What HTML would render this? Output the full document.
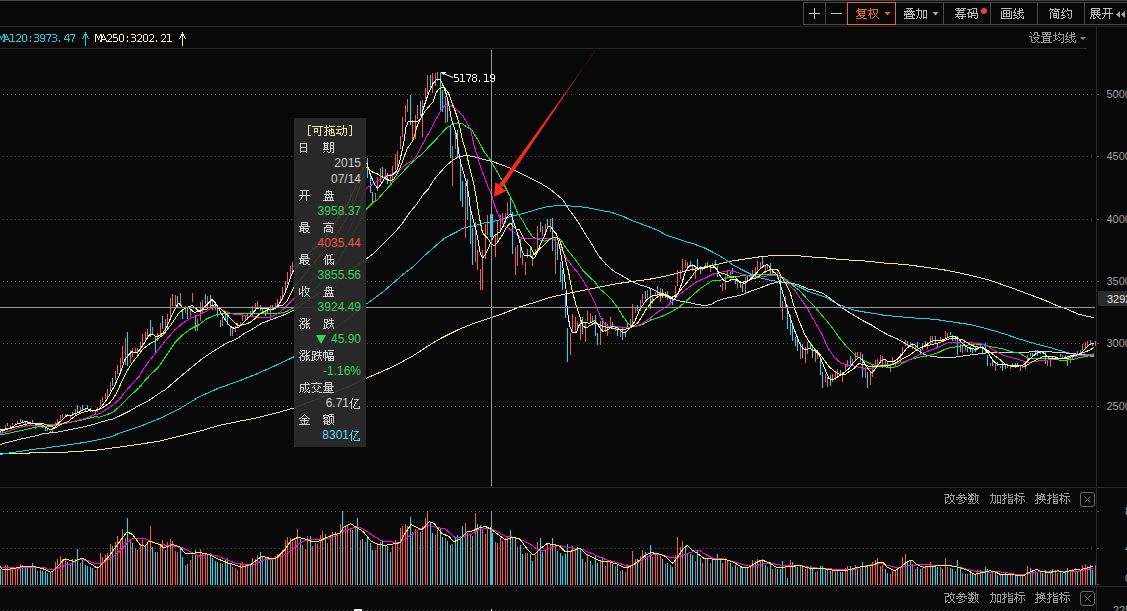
<!DOCTYPE html>
<html><head><meta charset="utf-8">
<style>
html,body{margin:0;padding:0;background:#080808;}
body{width:1127px;height:611px;overflow:hidden;position:relative;font-family:"Liberation Sans",sans-serif;}
.t{position:absolute;white-space:nowrap;line-height:1;}
.ax{position:absolute;color:#a0a0a0;font-size:11px;line-height:12px;left:1106.5px;}
#tip{position:absolute;left:294px;top:118px;width:72px;height:329px;background:rgba(43,43,43,0.93);}
#tip div{position:absolute;font-size:12px;line-height:16px;height:16px;white-space:nowrap;}
#tip .r{right:5px;text-align:right;}
</style></head><body>
<svg width="1127" height="611" style="position:absolute;left:0;top:0">
<g shape-rendering="crispEdges">
<!-- frame lines -->
<rect x="0" y="0" width="1127" height="1" fill="#464646"/>
<rect x="0" y="26" width="1127" height="1" fill="#272727"/>
<rect x="0" y="48" width="1087" height="1" fill="#272727"/>
<rect x="0" y="487" width="1127" height="1" fill="#272727"/>
<rect x="0" y="586" width="1127" height="1" fill="#272727"/>
<rect x="1096" y="27" width="1" height="584" fill="#272727"/>
<!-- dotted grid -->
<g stroke="#4e4e4e" stroke-width="1" stroke-dasharray="1 3">
<line x1="3" y1="94.5" x2="1093" y2="94.5"/>
<line x1="3" y1="156.5" x2="1093" y2="156.5"/>
<line x1="3" y1="219.5" x2="1093" y2="219.5"/>
<line x1="3" y1="281.5" x2="1093" y2="281.5"/>
<line x1="3" y1="343.5" x2="1093" y2="343.5"/>
<line x1="3" y1="406.5" x2="1093" y2="406.5"/>
<line x1="3" y1="511.5" x2="1093" y2="511.5"/>
<line x1="3" y1="548.5" x2="1093" y2="548.5"/>
<line x1="3" y1="610.5" x2="1093" y2="610.5"/>
<line x1="3" y1="584.5" x2="1093" y2="584.5"/>
</g>
<!-- axis ticks -->
<g fill="#555">
<rect x="1097" y="94" width="2" height="1"/><rect x="1097" y="156" width="2" height="1"/><rect x="1097" y="219" width="2" height="1"/>
<rect x="1097" y="281" width="2" height="1"/><rect x="1097" y="343" width="2" height="1"/><rect x="1097" y="406" width="2" height="1"/>
<rect x="1097" y="511" width="2" height="1"/><rect x="1097" y="548" width="2" height="1"/><rect x="1097" y="584" width="2" height="1"/>
</g>
<!-- candles -->
<rect x="0" y="428.5" width="1" height="4.5" fill="#00e4ff"/>
<rect x="2" y="429.5" width="1" height="4.5" fill="#00e4ff"/>
<rect x="5" y="425.0" width="1" height="4.5" fill="#f65a4f"/>
<rect x="7" y="423.0" width="1" height="3.0" fill="#00e4ff"/>
<rect x="10" y="425.0" width="1" height="2.0" fill="#f65a4f"/>
<rect x="12" y="423.0" width="1" height="2.0" fill="#f65a4f"/>
<rect x="15" y="422.6" width="1" height="1.9" fill="#f65a4f"/>
<rect x="17" y="421.0" width="1" height="2.6" fill="#f65a4f"/>
<rect x="20" y="419.0" width="1" height="3.0" fill="#f65a4f"/>
<rect x="22" y="420.0" width="1" height="2.0" fill="#00e4ff"/>
<rect x="25" y="422.0" width="1" height="3.5" fill="#00e4ff"/>
<rect x="27" y="421.0" width="1" height="3.0" fill="#f65a4f"/>
<rect x="30" y="423.0" width="1" height="2.0" fill="#f65a4f"/>
<rect x="32" y="420.0" width="1" height="3.0" fill="#00e4ff"/>
<rect x="35" y="424.0" width="1" height="4.5" fill="#00e4ff"/>
<rect x="37" y="423.6" width="1" height="1.9" fill="#f65a4f"/>
<rect x="40" y="423.6" width="1" height="1.9" fill="#f65a4f"/>
<rect x="42" y="425.5" width="1" height="2.5" fill="#00e4ff"/>
<rect x="45" y="427.5" width="1" height="3.5" fill="#00e4ff"/>
<rect x="47" y="428.5" width="1" height="2.5" fill="#00e4ff"/>
<rect x="50" y="431.4" width="1" height="1.6" fill="#00e4ff"/>
<rect x="52" y="427.5" width="1" height="4.5" fill="#f65a4f"/>
<rect x="55" y="421.5" width="1" height="5.3" fill="#f65a4f"/>
<rect x="57" y="418.9" width="1" height="5.2" fill="#f65a4f"/>
<rect x="60" y="415.0" width="1" height="5.2" fill="#f65a4f"/>
<rect x="62" y="413.7" width="1" height="3.9" fill="#f65a4f"/>
<rect x="65" y="413.7" width="1" height="2.6" fill="#f65a4f"/>
<rect x="67" y="413.7" width="1" height="2.6" fill="#00e4ff"/>
<rect x="70" y="415.0" width="1" height="2.6" fill="#f65a4f"/>
<rect x="72" y="411.7" width="1" height="4.6" fill="#00e4ff"/>
<rect x="75" y="409.0" width="1" height="6.0" fill="#f65a4f"/>
<rect x="77" y="405.2" width="1" height="6.5" fill="#00e4ff"/>
<rect x="80" y="406.5" width="1" height="5.2" fill="#f65a4f"/>
<rect x="82" y="405.2" width="1" height="4.5" fill="#00e4ff"/>
<rect x="85" y="408.4" width="1" height="2.6" fill="#f65a4f"/>
<rect x="87" y="405.2" width="1" height="3.8" fill="#00e4ff"/>
<rect x="90" y="408.4" width="1" height="3.3" fill="#00e4ff"/>
<rect x="92" y="411.0" width="1" height="1.4" fill="#00e4ff"/>
<rect x="95" y="410.4" width="1" height="3.9" fill="#f65a4f"/>
<rect x="97" y="407.1" width="1" height="5.3" fill="#f65a4f"/>
<rect x="100" y="399.9" width="1" height="5.9" fill="#f65a4f"/>
<rect x="102" y="396.6" width="1" height="5.3" fill="#f65a4f"/>
<rect x="105" y="392.7" width="1" height="6.6" fill="#f65a4f"/>
<rect x="107" y="388.8" width="1" height="7.8" fill="#f65a4f"/>
<rect x="110" y="382.9" width="1" height="8.5" fill="#f65a4f"/>
<rect x="112" y="377.7" width="1" height="8.5" fill="#00e4ff"/>
<rect x="115" y="371.1" width="1" height="8.5" fill="#f65a4f"/>
<rect x="117" y="365.2" width="1" height="9.2" fill="#f65a4f"/>
<rect x="120" y="358.0" width="1" height="13.8" fill="#f65a4f"/>
<rect x="122" y="345.8" width="1" height="16.7" fill="#f65a4f"/>
<rect x="125" y="338.0" width="1" height="26.5" fill="#f65a4f"/>
<rect x="127" y="332.0" width="1" height="34.4" fill="#00e4ff"/>
<rect x="130" y="349.7" width="1" height="12.8" fill="#f65a4f"/>
<rect x="132" y="347.8" width="1" height="8.8" fill="#f65a4f"/>
<rect x="135" y="347.8" width="1" height="4.9" fill="#f65a4f"/>
<rect x="137" y="347.8" width="1" height="6.8" fill="#f65a4f"/>
<rect x="140" y="341.9" width="1" height="8.8" fill="#f65a4f"/>
<rect x="142" y="334.0" width="1" height="12.8" fill="#f65a4f"/>
<rect x="145" y="332.0" width="1" height="9.0" fill="#f65a4f"/>
<rect x="147" y="329.1" width="1" height="9.9" fill="#f65a4f"/>
<rect x="150" y="320.3" width="1" height="16.7" fill="#00e4ff"/>
<rect x="152" y="327.2" width="1" height="6.8" fill="#f65a4f"/>
<rect x="155" y="337.0" width="1" height="14.7" fill="#00e4ff"/>
<rect x="157" y="333.0" width="1" height="8.0" fill="#f65a4f"/>
<rect x="160" y="323.2" width="1" height="13.8" fill="#f65a4f"/>
<rect x="162" y="316.3" width="1" height="12.8" fill="#00e4ff"/>
<rect x="165" y="319.3" width="1" height="11.7" fill="#f65a4f"/>
<rect x="167" y="314.4" width="1" height="14.7" fill="#f65a4f"/>
<rect x="170" y="297.7" width="1" height="21.6" fill="#f65a4f"/>
<rect x="172" y="293.8" width="1" height="11.7" fill="#f65a4f"/>
<rect x="175" y="294.7" width="1" height="10.8" fill="#f65a4f"/>
<rect x="177" y="295.7" width="1" height="11.8" fill="#00e4ff"/>
<rect x="180" y="292.8" width="1" height="10.8" fill="#f65a4f"/>
<rect x="182" y="308.5" width="1" height="10.8" fill="#00e4ff"/>
<rect x="185" y="305.5" width="1" height="7.9" fill="#f65a4f"/>
<rect x="187" y="307.5" width="1" height="11.8" fill="#00e4ff"/>
<rect x="190" y="306.5" width="1" height="10.8" fill="#f65a4f"/>
<rect x="192" y="292.8" width="1" height="8.8" fill="#f65a4f"/>
<rect x="195" y="315.4" width="1" height="15.6" fill="#00e4ff"/>
<rect x="197" y="319.3" width="1" height="11.7" fill="#f65a4f"/>
<rect x="200" y="301.6" width="1" height="19.7" fill="#f65a4f"/>
<rect x="202" y="299.6" width="1" height="13.8" fill="#f65a4f"/>
<rect x="205" y="293.8" width="1" height="9.8" fill="#00e4ff"/>
<rect x="207" y="295.7" width="1" height="11.8" fill="#f65a4f"/>
<rect x="210" y="294.7" width="1" height="10.8" fill="#00e4ff"/>
<rect x="212" y="299.6" width="1" height="9.9" fill="#f65a4f"/>
<rect x="215" y="301.6" width="1" height="7.9" fill="#f65a4f"/>
<rect x="217" y="306.8" width="1" height="10.2" fill="#00e4ff"/>
<rect x="220" y="320.0" width="1" height="7.4" fill="#00e4ff"/>
<rect x="222" y="316.4" width="1" height="9.6" fill="#f65a4f"/>
<rect x="225" y="312.7" width="1" height="7.3" fill="#00e4ff"/>
<rect x="227" y="313.4" width="1" height="11.8" fill="#00e4ff"/>
<rect x="230" y="326.7" width="1" height="9.6" fill="#00e4ff"/>
<rect x="232" y="327.4" width="1" height="8.1" fill="#f65a4f"/>
<rect x="235" y="326.0" width="1" height="5.9" fill="#f65a4f"/>
<rect x="237" y="323.0" width="1" height="4.4" fill="#f65a4f"/>
<rect x="240" y="321.5" width="1" height="3.7" fill="#f65a4f"/>
<rect x="242" y="314.2" width="1" height="6.6" fill="#f65a4f"/>
<rect x="245" y="315.6" width="1" height="4.4" fill="#f65a4f"/>
<rect x="247" y="313.1" width="1" height="6.6" fill="#f65a4f"/>
<rect x="250" y="311.2" width="1" height="5.8" fill="#00e4ff"/>
<rect x="252" y="306.0" width="1" height="9.7" fill="#f65a4f"/>
<rect x="255" y="303.0" width="1" height="6.8" fill="#f65a4f"/>
<rect x="257" y="301.0" width="1" height="7.3" fill="#f65a4f"/>
<rect x="260" y="304.6" width="1" height="5.9" fill="#00e4ff"/>
<rect x="262" y="307.6" width="1" height="5.8" fill="#f65a4f"/>
<rect x="265" y="311.2" width="1" height="4.5" fill="#00e4ff"/>
<rect x="267" y="309.8" width="1" height="4.4" fill="#00e4ff"/>
<rect x="270" y="305.3" width="1" height="13.3" fill="#f65a4f"/>
<rect x="272" y="305.3" width="1" height="4.5" fill="#00e4ff"/>
<rect x="275" y="303.0" width="1" height="5.3" fill="#f65a4f"/>
<rect x="277" y="298.7" width="1" height="7.3" fill="#f65a4f"/>
<rect x="280" y="295.8" width="1" height="6.6" fill="#f65a4f"/>
<rect x="282" y="287.0" width="1" height="12.5" fill="#f65a4f"/>
<rect x="285" y="281.0" width="1" height="9.0" fill="#f65a4f"/>
<rect x="287" y="271.5" width="1" height="12.5" fill="#f65a4f"/>
<rect x="290" y="266.0" width="1" height="11.4" fill="#f65a4f"/>
<rect x="292" y="262.0" width="1" height="10.0" fill="#f65a4f"/>
<rect x="295" y="266.4" width="1" height="4.6" fill="#f65a4f"/>
<rect x="297" y="263.8" width="1" height="4.5" fill="#00e4ff"/>
<rect x="300" y="256.1" width="1" height="7.5" fill="#00e4ff"/>
<rect x="302" y="258.3" width="1" height="7.4" fill="#00e4ff"/>
<rect x="305" y="254.5" width="1" height="5.8" fill="#f65a4f"/>
<rect x="307" y="249.6" width="1" height="8.6" fill="#f65a4f"/>
<rect x="310" y="251.5" width="1" height="4.4" fill="#00e4ff"/>
<rect x="312" y="244.8" width="1" height="5.2" fill="#f65a4f"/>
<rect x="315" y="240.5" width="1" height="10.5" fill="#f65a4f"/>
<rect x="317" y="241.0" width="1" height="9.1" fill="#f65a4f"/>
<rect x="320" y="237.8" width="1" height="4.5" fill="#00e4ff"/>
<rect x="322" y="234.8" width="1" height="9.4" fill="#f65a4f"/>
<rect x="325" y="231.6" width="1" height="8.7" fill="#00e4ff"/>
<rect x="327" y="229.9" width="1" height="10.4" fill="#00e4ff"/>
<rect x="330" y="226.1" width="1" height="8.6" fill="#f65a4f"/>
<rect x="332" y="221.1" width="1" height="9.8" fill="#f65a4f"/>
<rect x="335" y="219.8" width="1" height="4.9" fill="#f65a4f"/>
<rect x="337" y="216.8" width="1" height="5.2" fill="#00e4ff"/>
<rect x="340" y="211.4" width="1" height="9.3" fill="#f65a4f"/>
<rect x="342" y="204.6" width="1" height="11.0" fill="#f65a4f"/>
<rect x="345" y="202.9" width="1" height="8.8" fill="#f65a4f"/>
<rect x="347" y="201.1" width="1" height="10.7" fill="#f65a4f"/>
<rect x="350" y="190.3" width="1" height="9.3" fill="#f65a4f"/>
<rect x="352" y="191.6" width="1" height="9.2" fill="#f65a4f"/>
<rect x="355" y="182.7" width="1" height="6.3" fill="#f65a4f"/>
<rect x="357" y="179.5" width="1" height="4.2" fill="#00e4ff"/>
<rect x="360" y="169.8" width="1" height="4.9" fill="#f65a4f"/>
<rect x="362" y="166.5" width="1" height="5.0" fill="#f65a4f"/>
<rect x="365" y="156.1" width="1" height="11.0" fill="#f65a4f"/>
<rect x="367" y="158.0" width="1" height="19.6" fill="#00e4ff"/>
<rect x="370" y="175.0" width="1" height="18.3" fill="#00e4ff"/>
<rect x="372" y="192.0" width="1" height="11.0" fill="#00e4ff"/>
<rect x="375" y="193.0" width="1" height="9.0" fill="#f65a4f"/>
<rect x="377" y="177.0" width="1" height="13.7" fill="#f65a4f"/>
<rect x="380" y="167.8" width="1" height="13.7" fill="#f65a4f"/>
<rect x="382" y="166.5" width="1" height="11.1" fill="#00e4ff"/>
<rect x="385" y="169.0" width="1" height="11.2" fill="#f65a4f"/>
<rect x="387" y="173.0" width="1" height="11.0" fill="#00e4ff"/>
<rect x="390" y="176.3" width="1" height="9.1" fill="#f65a4f"/>
<rect x="392" y="165.8" width="1" height="17.0" fill="#f65a4f"/>
<rect x="395" y="154.0" width="1" height="15.7" fill="#f65a4f"/>
<rect x="397" y="151.4" width="1" height="15.6" fill="#f65a4f"/>
<rect x="400" y="136.4" width="1" height="12.4" fill="#f65a4f"/>
<rect x="402" y="117.0" width="1" height="20.0" fill="#f65a4f"/>
<rect x="405" y="105.0" width="1" height="16.5" fill="#f65a4f"/>
<rect x="407" y="99.3" width="1" height="13.1" fill="#f65a4f"/>
<rect x="410" y="94.7" width="1" height="30.3" fill="#00e4ff"/>
<rect x="412" y="120.0" width="1" height="20.0" fill="#f65a4f"/>
<rect x="415" y="115.0" width="1" height="23.5" fill="#f65a4f"/>
<rect x="417" y="105.0" width="1" height="14.0" fill="#f65a4f"/>
<rect x="420" y="101.0" width="1" height="15.3" fill="#00e4ff"/>
<rect x="422" y="100.0" width="1" height="37.0" fill="#f65a4f"/>
<rect x="425" y="87.5" width="1" height="11.8" fill="#f65a4f"/>
<rect x="427" y="75.0" width="1" height="19.0" fill="#f65a4f"/>
<rect x="430" y="75.0" width="1" height="12.5" fill="#00e4ff"/>
<rect x="432" y="73.0" width="1" height="19.7" fill="#f65a4f"/>
<rect x="435" y="73.0" width="1" height="13.0" fill="#f65a4f"/>
<rect x="437" y="71.8" width="1" height="9.2" fill="#f65a4f"/>
<rect x="440" y="73.0" width="1" height="39.4" fill="#00e4ff"/>
<rect x="442" y="90.0" width="1" height="22.4" fill="#00e4ff"/>
<rect x="445" y="96.0" width="1" height="26.8" fill="#f65a4f"/>
<rect x="447" y="99.3" width="1" height="22.2" fill="#00e4ff"/>
<rect x="450" y="125.0" width="1" height="33.0" fill="#00e4ff"/>
<rect x="452" y="146.0" width="1" height="40.0" fill="#f65a4f"/>
<rect x="455" y="134.4" width="1" height="14.6" fill="#f65a4f"/>
<rect x="457" y="130.0" width="1" height="28.0" fill="#00e4ff"/>
<rect x="460" y="161.0" width="1" height="39.7" fill="#00e4ff"/>
<rect x="462" y="180.8" width="1" height="25.8" fill="#00e4ff"/>
<rect x="465" y="183.0" width="1" height="54.6" fill="#f65a4f"/>
<rect x="467" y="178.6" width="1" height="41.4" fill="#00e4ff"/>
<rect x="470" y="208.8" width="1" height="35.4" fill="#00e4ff"/>
<rect x="472" y="228.0" width="1" height="36.8" fill="#00e4ff"/>
<rect x="475" y="222.0" width="1" height="39.9" fill="#f65a4f"/>
<rect x="477" y="250.0" width="1" height="20.0" fill="#f65a4f"/>
<rect x="480" y="269.0" width="1" height="21.0" fill="#f65a4f"/>
<rect x="482" y="250.0" width="1" height="40.0" fill="#f65a4f"/>
<rect x="485" y="223.6" width="1" height="35.3" fill="#f65a4f"/>
<rect x="487" y="214.7" width="1" height="20.6" fill="#f65a4f"/>
<rect x="490" y="214.0" width="1" height="22.8" fill="#00e4ff"/>
<rect x="492" y="214.4" width="1" height="22.6" fill="#00e4ff"/>
<rect x="495" y="235.3" width="1" height="21.4" fill="#f65a4f"/>
<rect x="497" y="221.4" width="1" height="19.8" fill="#f65a4f"/>
<rect x="500" y="214.7" width="1" height="14.8" fill="#f65a4f"/>
<rect x="502" y="212.5" width="1" height="11.1" fill="#f65a4f"/>
<rect x="505" y="213.3" width="1" height="9.5" fill="#f65a4f"/>
<rect x="507" y="202.2" width="1" height="12.5" fill="#f65a4f"/>
<rect x="510" y="195.5" width="1" height="19.9" fill="#00e4ff"/>
<rect x="512" y="211.8" width="1" height="42.0" fill="#00e4ff"/>
<rect x="515" y="247.0" width="1" height="28.0" fill="#f65a4f"/>
<rect x="517" y="245.0" width="1" height="21.3" fill="#f65a4f"/>
<rect x="520" y="239.0" width="1" height="19.0" fill="#00e4ff"/>
<rect x="522" y="255.0" width="1" height="9.8" fill="#f65a4f"/>
<rect x="525" y="261.9" width="1" height="13.1" fill="#f65a4f"/>
<rect x="527" y="248.6" width="1" height="9.4" fill="#f65a4f"/>
<rect x="530" y="247.0" width="1" height="10.4" fill="#00e4ff"/>
<rect x="532" y="254.5" width="1" height="11.8" fill="#f65a4f"/>
<rect x="535" y="248.6" width="1" height="7.4" fill="#f65a4f"/>
<rect x="537" y="225.8" width="1" height="25.0" fill="#f65a4f"/>
<rect x="540" y="222.0" width="1" height="9.7" fill="#00e4ff"/>
<rect x="542" y="225.8" width="1" height="10.2" fill="#f65a4f"/>
<rect x="545" y="224.3" width="1" height="11.0" fill="#f65a4f"/>
<rect x="547" y="219.0" width="1" height="9.7" fill="#00e4ff"/>
<rect x="550" y="219.0" width="1" height="13.4" fill="#f65a4f"/>
<rect x="552" y="218.4" width="1" height="32.4" fill="#00e4ff"/>
<rect x="555" y="238.3" width="1" height="35.3" fill="#f65a4f"/>
<rect x="557" y="242.7" width="1" height="17.7" fill="#00e4ff"/>
<rect x="560" y="261.9" width="1" height="19.8" fill="#00e4ff"/>
<rect x="562" y="270.0" width="1" height="20.0" fill="#00e4ff"/>
<rect x="565" y="294.5" width="1" height="23.8" fill="#00e4ff"/>
<rect x="567" y="328.0" width="1" height="33.7" fill="#00e4ff"/>
<rect x="570" y="333.0" width="1" height="22.0" fill="#f65a4f"/>
<rect x="572" y="314.2" width="1" height="18.0" fill="#f65a4f"/>
<rect x="575" y="316.6" width="1" height="15.6" fill="#f65a4f"/>
<rect x="577" y="320.7" width="1" height="8.3" fill="#f65a4f"/>
<rect x="580" y="319.0" width="1" height="21.4" fill="#f65a4f"/>
<rect x="582" y="316.6" width="1" height="17.2" fill="#00e4ff"/>
<rect x="585" y="323.2" width="1" height="18.8" fill="#f65a4f"/>
<rect x="587" y="311.0" width="1" height="9.7" fill="#f65a4f"/>
<rect x="590" y="313.4" width="1" height="9.0" fill="#f65a4f"/>
<rect x="592" y="315.8" width="1" height="6.6" fill="#f65a4f"/>
<rect x="595" y="315.0" width="1" height="20.5" fill="#00e4ff"/>
<rect x="597" y="333.0" width="1" height="11.5" fill="#00e4ff"/>
<rect x="600" y="320.7" width="1" height="24.6" fill="#f65a4f"/>
<rect x="602" y="318.3" width="1" height="13.9" fill="#00e4ff"/>
<rect x="605" y="322.4" width="1" height="9.8" fill="#f65a4f"/>
<rect x="607" y="324.0" width="1" height="11.5" fill="#f65a4f"/>
<rect x="610" y="316.6" width="1" height="9.9" fill="#f65a4f"/>
<rect x="612" y="322.4" width="1" height="6.6" fill="#00e4ff"/>
<rect x="615" y="325.6" width="1" height="5.0" fill="#f65a4f"/>
<rect x="617" y="326.5" width="1" height="9.0" fill="#00e4ff"/>
<rect x="620" y="330.6" width="1" height="6.5" fill="#f65a4f"/>
<rect x="622" y="326.5" width="1" height="13.9" fill="#00e4ff"/>
<rect x="625" y="330.6" width="1" height="6.5" fill="#00e4ff"/>
<rect x="627" y="322.4" width="1" height="6.6" fill="#00e4ff"/>
<rect x="630" y="319.0" width="1" height="8.3" fill="#f65a4f"/>
<rect x="632" y="304.4" width="1" height="19.6" fill="#f65a4f"/>
<rect x="635" y="307.6" width="1" height="5.0" fill="#f65a4f"/>
<rect x="637" y="305.2" width="1" height="5.7" fill="#00e4ff"/>
<rect x="640" y="300.3" width="1" height="10.6" fill="#f65a4f"/>
<rect x="642" y="293.7" width="1" height="9.0" fill="#f65a4f"/>
<rect x="645" y="291.3" width="1" height="7.3" fill="#00e4ff"/>
<rect x="647" y="289.6" width="1" height="10.6" fill="#f65a4f"/>
<rect x="650" y="288.4" width="1" height="21.0" fill="#00e4ff"/>
<rect x="652" y="296.3" width="1" height="7.8" fill="#f65a4f"/>
<rect x="655" y="292.4" width="1" height="2.6" fill="#f65a4f"/>
<rect x="657" y="285.8" width="1" height="11.8" fill="#00e4ff"/>
<rect x="660" y="287.8" width="1" height="13.7" fill="#f65a4f"/>
<rect x="662" y="289.0" width="1" height="8.6" fill="#00e4ff"/>
<rect x="665" y="292.4" width="1" height="5.2" fill="#00e4ff"/>
<rect x="667" y="291.0" width="1" height="9.2" fill="#f65a4f"/>
<rect x="670" y="297.6" width="1" height="5.2" fill="#00e4ff"/>
<rect x="672" y="299.0" width="1" height="6.4" fill="#00e4ff"/>
<rect x="675" y="285.8" width="1" height="14.4" fill="#f65a4f"/>
<rect x="677" y="270.1" width="1" height="15.7" fill="#f65a4f"/>
<rect x="680" y="270.1" width="1" height="9.2" fill="#f65a4f"/>
<rect x="682" y="259.0" width="1" height="12.4" fill="#f65a4f"/>
<rect x="685" y="260.3" width="1" height="7.2" fill="#f65a4f"/>
<rect x="687" y="262.3" width="1" height="7.8" fill="#f65a4f"/>
<rect x="690" y="261.0" width="1" height="5.8" fill="#00e4ff"/>
<rect x="692" y="264.2" width="1" height="7.2" fill="#f65a4f"/>
<rect x="695" y="266.2" width="1" height="12.4" fill="#f65a4f"/>
<rect x="697" y="259.0" width="1" height="8.5" fill="#00e4ff"/>
<rect x="700" y="266.2" width="1" height="7.8" fill="#00e4ff"/>
<rect x="702" y="266.8" width="1" height="4.6" fill="#f65a4f"/>
<rect x="705" y="262.9" width="1" height="5.2" fill="#f65a4f"/>
<rect x="707" y="262.3" width="1" height="3.9" fill="#00e4ff"/>
<rect x="710" y="266.8" width="1" height="5.3" fill="#f65a4f"/>
<rect x="712" y="262.9" width="1" height="3.3" fill="#f65a4f"/>
<rect x="715" y="260.3" width="1" height="5.2" fill="#00e4ff"/>
<rect x="717" y="266.2" width="1" height="10.4" fill="#00e4ff"/>
<rect x="720" y="284.5" width="1" height="2.6" fill="#00e4ff"/>
<rect x="722" y="282.5" width="1" height="8.5" fill="#f65a4f"/>
<rect x="725" y="276.0" width="1" height="13.7" fill="#f65a4f"/>
<rect x="727" y="270.1" width="1" height="7.9" fill="#f65a4f"/>
<rect x="730" y="272.1" width="1" height="3.2" fill="#00e4ff"/>
<rect x="732" y="268.1" width="1" height="5.9" fill="#00e4ff"/>
<rect x="735" y="279.3" width="1" height="4.9" fill="#00e4ff"/>
<rect x="737" y="280.8" width="1" height="6.7" fill="#f65a4f"/>
<rect x="740" y="281.7" width="1" height="6.6" fill="#00e4ff"/>
<rect x="742" y="284.2" width="1" height="8.2" fill="#00e4ff"/>
<rect x="745" y="276.8" width="1" height="17.2" fill="#f65a4f"/>
<rect x="747" y="276.0" width="1" height="5.0" fill="#00e4ff"/>
<rect x="750" y="274.4" width="1" height="4.9" fill="#f65a4f"/>
<rect x="752" y="270.3" width="1" height="5.7" fill="#f65a4f"/>
<rect x="755" y="267.0" width="1" height="6.6" fill="#f65a4f"/>
<rect x="757" y="261.3" width="1" height="11.4" fill="#f65a4f"/>
<rect x="760" y="262.1" width="1" height="5.7" fill="#f65a4f"/>
<rect x="762" y="257.2" width="1" height="7.3" fill="#00e4ff"/>
<rect x="765" y="265.4" width="1" height="7.3" fill="#f65a4f"/>
<rect x="767" y="263.7" width="1" height="4.9" fill="#f65a4f"/>
<rect x="770" y="263.0" width="1" height="12.2" fill="#00e4ff"/>
<rect x="772" y="269.5" width="1" height="6.5" fill="#f65a4f"/>
<rect x="775" y="271.9" width="1" height="4.1" fill="#f65a4f"/>
<rect x="777" y="271.9" width="1" height="6.6" fill="#f65a4f"/>
<rect x="780" y="276.8" width="1" height="30.2" fill="#00e4ff"/>
<rect x="782" y="301.4" width="1" height="18.8" fill="#f65a4f"/>
<rect x="785" y="295.6" width="1" height="11.5" fill="#f65a4f"/>
<rect x="787" y="304.6" width="1" height="24.6" fill="#00e4ff"/>
<rect x="790" y="315.3" width="1" height="19.7" fill="#00e4ff"/>
<rect x="792" y="322.7" width="1" height="18.0" fill="#00e4ff"/>
<rect x="795" y="336.6" width="1" height="9.0" fill="#00e4ff"/>
<rect x="797" y="339.0" width="1" height="11.6" fill="#00e4ff"/>
<rect x="800" y="342.4" width="1" height="16.3" fill="#f65a4f"/>
<rect x="802" y="344.0" width="1" height="13.9" fill="#00e4ff"/>
<rect x="805" y="347.3" width="1" height="15.5" fill="#f65a4f"/>
<rect x="807" y="341.6" width="1" height="12.2" fill="#f65a4f"/>
<rect x="810" y="342.4" width="1" height="6.6" fill="#00e4ff"/>
<rect x="812" y="347.3" width="1" height="10.6" fill="#00e4ff"/>
<rect x="815" y="348.9" width="1" height="13.1" fill="#f65a4f"/>
<rect x="817" y="349.7" width="1" height="9.0" fill="#f65a4f"/>
<rect x="820" y="357.9" width="1" height="17.2" fill="#00e4ff"/>
<rect x="822" y="371.8" width="1" height="16.4" fill="#00e4ff"/>
<rect x="825" y="373.5" width="1" height="8.2" fill="#f65a4f"/>
<rect x="827" y="376.7" width="1" height="9.9" fill="#f65a4f"/>
<rect x="830" y="375.1" width="1" height="10.6" fill="#00e4ff"/>
<rect x="832" y="373.5" width="1" height="8.2" fill="#f65a4f"/>
<rect x="835" y="371.8" width="1" height="8.2" fill="#f65a4f"/>
<rect x="837" y="368.6" width="1" height="8.1" fill="#f65a4f"/>
<rect x="840" y="370.2" width="1" height="4.9" fill="#00e4ff"/>
<rect x="842" y="371.8" width="1" height="9.9" fill="#f65a4f"/>
<rect x="845" y="363.6" width="1" height="8.2" fill="#f65a4f"/>
<rect x="847" y="359.6" width="1" height="7.3" fill="#f65a4f"/>
<rect x="850" y="356.3" width="1" height="10.6" fill="#00e4ff"/>
<rect x="852" y="358.7" width="1" height="4.9" fill="#f65a4f"/>
<rect x="855" y="352.2" width="1" height="8.2" fill="#f65a4f"/>
<rect x="857" y="352.2" width="1" height="6.5" fill="#f65a4f"/>
<rect x="860" y="352.2" width="1" height="9.8" fill="#f65a4f"/>
<rect x="862" y="353.8" width="1" height="22.9" fill="#00e4ff"/>
<rect x="865" y="366.9" width="1" height="11.5" fill="#f65a4f"/>
<rect x="867" y="371.8" width="1" height="16.4" fill="#00e4ff"/>
<rect x="870" y="371.8" width="1" height="13.1" fill="#f65a4f"/>
<rect x="872" y="365.3" width="1" height="11.4" fill="#f65a4f"/>
<rect x="875" y="360.4" width="1" height="8.2" fill="#f65a4f"/>
<rect x="877" y="358.7" width="1" height="8.2" fill="#f65a4f"/>
<rect x="880" y="354.6" width="1" height="7.4" fill="#f65a4f"/>
<rect x="882" y="356.0" width="1" height="11.7" fill="#f65a4f"/>
<rect x="885" y="360.4" width="1" height="4.4" fill="#f65a4f"/>
<rect x="887" y="361.9" width="1" height="5.8" fill="#00e4ff"/>
<rect x="890" y="364.8" width="1" height="7.4" fill="#f65a4f"/>
<rect x="892" y="356.7" width="1" height="8.1" fill="#f65a4f"/>
<rect x="895" y="361.9" width="1" height="3.6" fill="#f65a4f"/>
<rect x="897" y="358.2" width="1" height="4.4" fill="#f65a4f"/>
<rect x="900" y="353.0" width="1" height="8.9" fill="#f65a4f"/>
<rect x="902" y="347.1" width="1" height="7.4" fill="#f65a4f"/>
<rect x="905" y="339.8" width="1" height="5.9" fill="#f65a4f"/>
<rect x="907" y="341.2" width="1" height="4.5" fill="#00e4ff"/>
<rect x="910" y="342.0" width="1" height="5.1" fill="#f65a4f"/>
<rect x="912" y="343.4" width="1" height="5.2" fill="#f65a4f"/>
<rect x="915" y="345.7" width="1" height="4.4" fill="#f65a4f"/>
<rect x="917" y="342.0" width="1" height="5.1" fill="#00e4ff"/>
<rect x="920" y="349.3" width="1" height="5.9" fill="#00e4ff"/>
<rect x="922" y="342.7" width="1" height="7.4" fill="#f65a4f"/>
<rect x="925" y="341.2" width="1" height="5.9" fill="#00e4ff"/>
<rect x="927" y="342.0" width="1" height="6.6" fill="#f65a4f"/>
<rect x="930" y="336.1" width="1" height="8.1" fill="#f65a4f"/>
<rect x="932" y="336.1" width="1" height="6.6" fill="#f65a4f"/>
<rect x="935" y="336.1" width="1" height="6.6" fill="#00e4ff"/>
<rect x="937" y="342.7" width="1" height="4.4" fill="#00e4ff"/>
<rect x="940" y="336.8" width="1" height="4.4" fill="#f65a4f"/>
<rect x="942" y="339.0" width="1" height="3.0" fill="#00e4ff"/>
<rect x="945" y="330.9" width="1" height="6.7" fill="#f65a4f"/>
<rect x="947" y="333.1" width="1" height="3.7" fill="#f65a4f"/>
<rect x="950" y="331.7" width="1" height="3.6" fill="#00e4ff"/>
<rect x="952" y="335.3" width="1" height="5.9" fill="#00e4ff"/>
<rect x="955" y="336.8" width="1" height="4.4" fill="#f65a4f"/>
<rect x="957" y="336.1" width="1" height="18.4" fill="#00e4ff"/>
<rect x="960" y="344.2" width="1" height="7.3" fill="#00e4ff"/>
<rect x="962" y="345.7" width="1" height="7.3" fill="#f65a4f"/>
<rect x="965" y="344.9" width="1" height="5.9" fill="#f65a4f"/>
<rect x="967" y="347.1" width="1" height="4.4" fill="#00e4ff"/>
<rect x="970" y="345.7" width="1" height="5.8" fill="#00e4ff"/>
<rect x="972" y="348.6" width="1" height="4.4" fill="#00e4ff"/>
<rect x="975" y="347.1" width="1" height="5.2" fill="#00e4ff"/>
<rect x="977" y="345.7" width="1" height="4.4" fill="#f65a4f"/>
<rect x="980" y="344.2" width="1" height="2.9" fill="#00e4ff"/>
<rect x="982" y="346.0" width="1" height="8.4" fill="#00e4ff"/>
<rect x="985" y="343.4" width="1" height="9.6" fill="#00e4ff"/>
<rect x="987" y="355.2" width="1" height="10.3" fill="#00e4ff"/>
<rect x="990" y="362.6" width="1" height="2.9" fill="#f65a4f"/>
<rect x="992" y="361.1" width="1" height="4.4" fill="#00e4ff"/>
<rect x="995" y="363.3" width="1" height="7.4" fill="#f65a4f"/>
<rect x="997" y="361.9" width="1" height="4.4" fill="#00e4ff"/>
<rect x="1000" y="365.5" width="1" height="2.2" fill="#f65a4f"/>
<rect x="1002" y="361.9" width="1" height="8.8" fill="#00e4ff"/>
<rect x="1005" y="364.8" width="1" height="4.4" fill="#00e4ff"/>
<rect x="1007" y="364.8" width="1" height="2.9" fill="#f65a4f"/>
<rect x="1010" y="365.5" width="1" height="3.7" fill="#f65a4f"/>
<rect x="1012" y="362.6" width="1" height="3.7" fill="#f65a4f"/>
<rect x="1015" y="363.3" width="1" height="4.4" fill="#00e4ff"/>
<rect x="1017" y="362.6" width="1" height="4.4" fill="#00e4ff"/>
<rect x="1020" y="365.5" width="1" height="5.2" fill="#f65a4f"/>
<rect x="1022" y="364.8" width="1" height="2.9" fill="#f65a4f"/>
<rect x="1025" y="363.3" width="1" height="5.9" fill="#f65a4f"/>
<rect x="1027" y="354.5" width="1" height="7.4" fill="#f65a4f"/>
<rect x="1030" y="353.0" width="1" height="3.0" fill="#00e4ff"/>
<rect x="1032" y="353.0" width="1" height="3.0" fill="#00e4ff"/>
<rect x="1035" y="350.1" width="1" height="2.9" fill="#f65a4f"/>
<rect x="1037" y="350.1" width="1" height="5.9" fill="#00e4ff"/>
<rect x="1040" y="350.8" width="1" height="3.0" fill="#00e4ff"/>
<rect x="1042" y="350.8" width="1" height="2.2" fill="#f65a4f"/>
<rect x="1045" y="352.3" width="1" height="11.8" fill="#00e4ff"/>
<rect x="1047" y="361.1" width="1" height="4.4" fill="#f65a4f"/>
<rect x="1050" y="358.9" width="1" height="8.1" fill="#f65a4f"/>
<rect x="1052" y="357.4" width="1" height="3.0" fill="#00e4ff"/>
<rect x="1055" y="356.0" width="1" height="2.9" fill="#f65a4f"/>
<rect x="1057" y="356.7" width="1" height="2.9" fill="#f65a4f"/>
<rect x="1060" y="353.8" width="1" height="3.6" fill="#00e4ff"/>
<rect x="1062" y="355.2" width="1" height="3.7" fill="#f65a4f"/>
<rect x="1065" y="355.2" width="1" height="3.0" fill="#f65a4f"/>
<rect x="1067" y="356.0" width="1" height="10.3" fill="#00e4ff"/>
<rect x="1070" y="358.2" width="1" height="4.4" fill="#f65a4f"/>
<rect x="1072" y="354.5" width="1" height="4.4" fill="#f65a4f"/>
<rect x="1075" y="353.0" width="1" height="3.0" fill="#f65a4f"/>
<rect x="1077" y="350.8" width="1" height="3.0" fill="#00e4ff"/>
<rect x="1080" y="350.1" width="1" height="2.9" fill="#f65a4f"/>
<rect x="1082" y="344.2" width="1" height="5.9" fill="#f65a4f"/>
<rect x="1085" y="342.0" width="1" height="6.6" fill="#f65a4f"/>
<rect x="1087" y="340.5" width="1" height="5.2" fill="#f65a4f"/>
<rect x="1090" y="339.8" width="1" height="4.4" fill="#f65a4f"/>
<rect x="1092" y="342.7" width="1" height="3.0" fill="#00e4ff"/>
<rect x="1095" y="340.5" width="1" height="5.2" fill="#f65a4f"/>
</g>
<g shape-rendering="crispEdges">
<polyline points="0.0,453.5 1.0,453.5 2.0,453.5 3.0,453.5 4.0,453.5 5.0,453.5 6.0,453.5 7.0,453.5 8.0,453.4 9.0,453.4 10.0,453.4 11.0,453.4 12.0,453.4 13.0,453.4 14.0,453.4 15.0,453.4 16.0,453.4 17.0,453.4 18.0,453.4 19.0,453.4 20.0,453.4 21.0,453.4 22.0,453.3 23.0,453.3 24.0,453.3 25.0,453.3 26.0,453.3 27.0,453.3 28.0,453.3 29.0,453.3 30.0,452.6 31.0,452.6 32.0,452.6 33.0,452.6 34.0,452.6 35.0,452.5 36.0,452.5 37.0,452.5 38.0,452.5 39.0,452.5 40.0,452.5 41.0,452.5 42.0,452.5 43.0,452.4 44.0,452.4 45.0,452.4 46.0,452.4 47.0,452.4 48.0,452.4 49.0,452.4 50.0,452.4 51.0,452.4 52.0,452.3 53.0,452.3 54.0,452.3 55.0,452.3 56.0,452.3 57.0,452.3 58.0,452.3 59.0,452.3 60.0,452.2 61.0,452.2 62.0,452.2 63.0,452.2 64.0,452.2 65.0,452.1 66.0,452.1 67.0,452.0 68.0,452.0 69.0,451.9 70.0,451.8 71.0,451.8 72.0,451.7 73.0,451.7 74.0,451.6 75.0,451.5 76.0,451.5 77.0,451.4 78.0,451.4 79.0,451.3 80.0,451.2 81.0,451.2 82.0,451.1 83.0,451.1 84.0,451.0 85.0,450.9 86.0,450.9 87.0,450.8 88.0,450.8 89.0,450.7 90.0,450.6 91.0,450.6 92.0,450.5 93.0,450.5 94.0,450.4 95.0,450.3 96.0,450.1 97.0,450.0 98.0,449.9 99.0,449.7 100.0,449.6 101.0,449.5 102.0,449.4 103.0,449.2 104.0,449.1 105.0,449.0 106.0,448.8 107.0,448.7 108.0,448.6 109.0,448.4 110.0,448.3 111.0,448.2 112.0,448.0 113.0,447.9 114.0,447.8 115.0,447.7 116.0,447.5 117.0,447.4 118.0,447.3 119.0,447.1 120.0,447.0 121.0,446.9 122.0,446.7 123.0,446.6 124.0,446.4 125.0,446.3 126.0,446.1 127.0,446.0 128.0,445.8 129.0,445.7 130.0,445.6 131.0,445.4 132.0,445.3 133.0,445.1 134.0,445.0 135.0,444.8 136.0,444.7 137.0,444.5 138.0,444.4 139.0,444.2 140.0,444.1 141.0,444.0 142.0,443.8 143.0,443.7 144.0,443.5 145.0,443.4 146.0,443.2 147.0,443.1 148.0,442.9 149.0,442.8 150.0,442.6 151.0,442.5 152.0,442.3 153.0,442.2 154.0,442.0 155.0,441.9 156.0,441.7 157.0,441.6 158.0,441.4 159.0,441.3 160.0,441.1 161.0,440.9 162.0,440.6 163.0,440.4 164.0,440.1 165.0,439.9 166.0,439.6 167.0,439.4 168.0,439.1 169.0,438.9 170.0,438.6 171.0,438.4 172.0,438.1 173.0,437.9 174.0,437.6 175.0,437.4 176.0,437.1 177.0,436.9 178.0,436.6 179.0,436.4 180.0,436.1 181.0,435.9 182.0,435.6 183.0,435.4 184.0,435.1 185.0,434.9 186.0,434.6 187.0,434.4 188.0,434.1 189.0,433.9 190.0,433.6 191.0,433.4 192.0,433.1 193.0,432.9 194.0,432.6 195.0,432.4 196.0,432.1 197.0,431.9 198.0,431.6 199.0,431.4 200.0,431.1 201.0,430.8 202.0,430.5 203.0,430.2 204.0,429.9 205.0,429.6 206.0,429.3 207.0,429.0 208.0,428.7 209.0,428.4 210.0,428.1 211.0,427.8 212.0,427.5 213.0,427.2 214.0,426.9 215.0,426.6 216.0,426.3 217.0,426.0 218.0,425.7 219.0,425.4 220.0,425.2 221.0,425.0 222.0,424.8 223.0,424.6 224.0,424.4 225.0,424.2 226.0,424.0 227.0,423.8 228.0,423.6 229.0,423.4 230.0,423.2 231.0,423.0 232.0,422.8 233.0,422.6 234.0,422.4 235.0,422.2 236.0,421.9 237.0,421.7 238.0,421.5 239.0,421.3 240.0,421.1 241.0,420.9 242.0,420.7 243.0,420.5 244.0,420.4 245.0,420.2 246.0,420.0 247.0,419.8 248.0,419.6 249.0,419.4 250.0,419.2 251.0,419.0 252.0,418.8 253.0,418.6 254.0,418.4 255.0,418.2 256.0,418.0 257.0,417.8 258.0,417.6 259.0,417.3 260.0,417.1 261.0,416.8 262.0,416.6 263.0,416.3 264.0,416.1 265.0,415.8 266.0,415.6 267.0,415.3 268.0,415.1 269.0,414.8 270.0,414.6 271.0,414.3 272.0,414.1 273.0,413.8 274.0,413.6 275.0,413.3 276.0,413.1 277.0,412.8 278.0,412.6 279.0,412.3 280.0,412.0 281.0,411.7 282.0,411.4 283.0,411.1 284.0,410.8 285.0,410.5 286.0,410.2 287.0,409.9 288.0,409.6 289.0,409.3 290.0,409.0 291.0,408.7 292.0,408.4 293.0,408.2 294.0,407.9 295.0,407.5 296.0,407.1 297.0,406.8 298.0,406.4 299.0,406.0 300.0,405.7 301.0,405.3 302.0,404.9 303.0,404.6 304.0,404.2 305.0,403.8 306.0,403.5 307.0,403.1 308.0,402.7 309.0,402.4 310.0,402.0 311.0,401.6 312.0,401.2 313.0,400.8 314.0,400.4 315.0,400.0 316.0,399.6 317.0,399.2 318.0,398.8 319.0,398.4 320.0,398.0 321.0,397.6 322.0,397.2 323.0,396.8 324.0,396.4 325.0,396.0 326.0,395.6 327.0,395.2 328.0,394.8 329.0,394.4 330.0,394.0 331.0,393.6 332.0,393.2 333.0,392.8 334.0,392.4 335.0,392.0 336.0,391.6 337.0,391.2 338.0,390.8 339.0,390.4 340.0,390.0 341.0,389.6 342.0,389.2 343.0,388.8 344.0,388.4 345.0,388.0 346.0,387.6 347.0,387.2 348.0,386.8 349.0,386.4 350.0,386.0 351.0,385.5 352.0,385.0 353.0,384.6 354.0,384.1 355.0,383.6 356.0,383.1 357.0,382.6 358.0,382.1 359.0,381.7 360.0,381.2 361.0,380.7 362.0,380.2 363.0,379.7 364.0,379.3 365.0,378.8 366.0,378.3 367.0,377.9 368.0,377.4 369.0,377.0 370.0,376.6 371.0,376.2 372.0,375.8 373.0,375.4 374.0,374.9 375.0,374.5 376.0,374.1 377.0,373.7 378.0,373.3 379.0,372.8 380.0,372.4 381.0,371.9 382.0,371.5 383.0,371.0 384.0,370.6 385.0,370.1 386.0,369.7 387.0,369.2 388.0,368.8 389.0,368.3 390.0,367.9 391.0,367.4 392.0,367.0 393.0,366.5 394.0,366.1 395.0,365.6 396.0,365.1 397.0,364.6 398.0,364.0 399.0,363.5 400.0,362.9 401.0,362.4 402.0,361.8 403.0,361.3 404.0,360.7 405.0,360.2 406.0,359.6 407.0,359.1 408.0,358.5 409.0,358.0 410.0,357.5 411.0,356.9 412.0,356.4 413.0,355.8 414.0,355.2 415.0,354.5 416.0,353.9 417.0,353.2 418.0,352.6 419.0,351.9 420.0,351.3 421.0,350.6 422.0,350.0 423.0,349.3 424.0,348.7 425.0,348.0 426.0,347.4 427.0,346.7 428.0,346.1 429.0,345.4 430.0,344.8 431.0,344.1 432.0,343.5 433.0,342.9 434.0,342.3 435.0,341.8 436.0,341.2 437.0,340.6 438.0,340.0 439.0,339.4 440.0,338.8 441.0,338.3 442.0,337.7 443.0,337.2 444.0,336.7 445.0,336.2 446.0,335.7 447.0,335.2 448.0,334.7 449.0,334.2 450.0,333.7 451.0,333.2 452.0,332.7 453.0,332.2 454.0,331.7 455.0,331.2 456.0,330.7 457.0,330.2 458.0,329.7 459.0,329.3 460.0,328.9 461.0,328.5 462.0,328.1 463.0,327.7 464.0,327.3 465.0,326.9 466.0,326.5 467.0,326.1 468.0,325.7 469.0,325.3 470.0,324.9 471.0,324.5 472.0,324.1 473.0,323.7 474.0,323.3 475.0,322.9 476.0,322.6 477.0,322.2 478.0,321.9 479.0,321.6 480.0,321.2 481.0,320.9 482.0,320.6 483.0,320.2 484.0,319.9 485.0,319.6 486.0,319.3 487.0,318.9 488.0,318.6 489.0,318.3 490.0,317.9 491.0,317.6 492.0,317.3 493.0,316.9 494.0,316.6 495.0,316.3 496.0,316.0 497.0,315.6 498.0,315.3 499.0,315.0 500.0,314.7 501.0,314.3 502.0,314.0 503.0,313.6 504.0,313.2 505.0,312.8 506.0,312.4 507.0,312.0 508.0,311.6 509.0,311.2 510.0,310.8 511.0,310.4 512.0,310.0 513.0,309.6 514.0,309.2 515.0,308.8 516.0,308.4 517.0,308.0 518.0,307.6 519.0,307.2 520.0,306.8 521.0,306.5 522.0,306.2 523.0,305.9 524.0,305.6 525.0,305.3 526.0,305.0 527.0,304.7 528.0,304.4 529.0,304.1 530.0,303.8 531.0,303.5 532.0,303.2 533.0,302.9 534.0,302.6 535.0,302.3 536.0,302.0 537.0,301.7 538.0,301.3 539.0,301.0 540.0,300.7 541.0,300.4 542.0,300.1 543.0,299.7 544.0,299.4 545.0,299.1 546.0,298.8 547.0,298.5 548.0,298.1 549.0,297.8 550.0,297.5 551.0,297.3 552.0,297.0 553.0,296.8 554.0,296.6 555.0,296.3 556.0,296.1 557.0,295.9 558.0,295.6 559.0,295.4 560.0,295.2 561.0,295.0 562.0,294.7 563.0,294.5 564.0,294.3 565.0,294.0 566.0,293.8 567.0,293.6 568.0,293.4 569.0,293.2 570.0,293.0 571.0,292.8 572.0,292.6 573.0,292.4 574.0,292.2 575.0,292.0 576.0,291.8 577.0,291.6 578.0,291.4 579.0,291.2 580.0,291.0 581.0,290.8 582.0,290.6 583.0,290.4 584.0,290.2 585.0,290.0 586.0,289.8 587.0,289.6 588.0,289.4 589.0,289.2 590.0,289.0 591.0,288.8 592.0,288.6 593.0,288.4 594.0,288.2 595.0,288.0 596.0,287.8 597.0,287.6 598.0,287.4 599.0,287.2 600.0,287.0 601.0,286.8 602.0,286.6 603.0,286.4 604.0,286.2 605.0,286.0 606.0,285.8 607.0,285.6 608.0,285.4 609.0,285.2 610.0,285.0 611.0,284.8 612.0,284.6 613.0,284.4 614.0,284.2 615.0,284.0 616.0,283.8 617.0,283.7 618.0,283.5 619.0,283.4 620.0,283.2 621.0,283.1 622.0,282.9 623.0,282.8 624.0,282.6 625.0,282.5 626.0,282.4 627.0,282.2 628.0,282.1 629.0,281.9 630.0,281.8 631.0,281.6 632.0,281.5 633.0,281.4 634.0,281.3 635.0,281.1 636.0,281.0 637.0,280.9 638.0,280.8 639.0,280.7 640.0,280.6 641.0,280.4 642.0,280.3 643.0,280.1 644.0,280.0 645.0,279.8 646.0,279.7 647.0,279.5 648.0,279.4 649.0,279.2 650.0,279.1 651.0,278.9 652.0,278.8 653.0,278.6 654.0,278.4 655.0,278.2 656.0,278.0 657.0,277.8 658.0,277.6 659.0,277.4 660.0,277.2 661.0,277.0 662.0,276.8 663.0,276.6 664.0,276.4 665.0,276.2 666.0,276.0 667.0,275.8 668.0,275.5 669.0,275.3 670.0,275.0 671.0,274.8 672.0,274.5 673.0,274.3 674.0,274.0 675.0,273.8 676.0,273.5 677.0,273.3 678.0,273.0 679.0,272.8 680.0,272.5 681.0,272.3 682.0,272.0 683.0,271.8 684.0,271.6 685.0,271.3 686.0,271.1 687.0,270.8 688.0,270.6 689.0,270.3 690.0,270.1 691.0,269.8 692.0,269.6 693.0,269.4 694.0,269.2 695.0,269.0 696.0,268.8 697.0,268.5 698.0,268.3 699.0,268.1 700.0,267.9 701.0,267.7 702.0,267.5 703.0,267.3 704.0,267.1 705.0,266.9 706.0,266.7 707.0,266.5 708.0,266.3 709.0,266.1 710.0,265.9 711.0,265.7 712.0,265.5 713.0,265.3 714.0,265.1 715.0,264.9 716.0,264.7 717.0,264.5 718.0,264.3 719.0,264.1 720.0,263.8 721.0,263.6 722.0,263.3 723.0,263.1 724.0,262.8 725.0,262.6 726.0,262.3 727.0,262.1 728.0,261.8 729.0,261.6 730.0,261.3 731.0,261.1 732.0,261.0 733.0,260.8 734.0,260.7 735.0,260.5 736.0,260.4 737.0,260.2 738.0,260.1 739.0,259.9 740.0,259.8 741.0,259.6 742.0,259.5 743.0,259.3 744.0,259.2 745.0,259.0 746.0,258.9 747.0,258.7 748.0,258.6 749.0,258.4 750.0,258.3 751.0,258.1 752.0,258.0 753.0,257.8 754.0,257.7 755.0,257.5 756.0,257.4 757.0,257.2 758.0,257.1 759.0,256.9 760.0,256.8 761.0,256.7 762.0,256.5 763.0,256.4 764.0,256.3 765.0,256.2 766.0,256.1 767.0,256.1 768.0,256.0 769.0,255.9 770.0,255.8 771.0,255.8 772.0,255.7 773.0,255.6 774.0,255.5 775.0,255.5 776.0,255.5 777.0,255.5 778.0,255.5 779.0,255.5 780.0,255.5 781.0,255.5 782.0,255.5 783.0,255.5 784.0,255.5 785.0,255.5 786.0,255.5 787.0,255.5 788.0,255.5 789.0,255.6 790.0,255.6 791.0,255.6 792.0,255.6 793.0,255.7 794.0,255.7 795.0,255.7 796.0,255.8 797.0,255.8 798.0,255.8 799.0,255.9 800.0,255.9 801.0,256.0 802.0,256.1 803.0,256.2 804.0,256.2 805.0,256.3 806.0,256.4 807.0,256.5 808.0,256.6 809.0,256.7 810.0,256.8 811.0,256.9 812.0,257.0 813.0,257.0 814.0,257.1 815.0,257.1 816.0,257.2 817.0,257.2 818.0,257.2 819.0,257.3 820.0,257.3 821.0,257.4 822.0,257.5 823.0,257.6 824.0,257.7 825.0,257.8 826.0,257.9 827.0,258.1 828.0,258.2 829.0,258.3 830.0,258.4 831.0,258.5 832.0,258.6 833.0,258.7 834.0,258.8 835.0,258.9 836.0,259.0 837.0,259.1 838.0,259.2 839.0,259.4 840.0,259.5 841.0,259.6 842.0,259.6 843.0,259.7 844.0,259.7 845.0,259.8 846.0,259.8 847.0,259.9 848.0,259.9 849.0,260.0 850.0,260.0 851.0,260.1 852.0,260.2 853.0,260.2 854.0,260.3 855.0,260.3 856.0,260.4 857.0,260.4 858.0,260.5 859.0,260.5 860.0,260.6 861.0,260.6 862.0,260.7 863.0,260.7 864.0,260.9 865.0,261.0 866.0,261.1 867.0,261.2 868.0,261.3 869.0,261.4 870.0,261.5 871.0,261.6 872.0,261.7 873.0,261.8 874.0,261.9 875.0,262.0 876.0,262.1 877.0,262.3 878.0,262.4 879.0,262.5 880.0,262.6 881.0,262.7 882.0,262.8 883.0,262.9 884.0,263.0 885.0,263.1 886.0,263.1 887.0,263.2 888.0,263.3 889.0,263.4 890.0,263.4 891.0,263.5 892.0,263.6 893.0,263.6 894.0,263.7 895.0,263.8 896.0,263.9 897.0,263.9 898.0,264.0 899.0,264.1 900.0,264.1 901.0,264.2 902.0,264.3 903.0,264.3 904.0,264.4 905.0,264.5 906.0,264.6 907.0,264.7 908.0,264.9 909.0,265.0 910.0,265.1 911.0,265.3 912.0,265.4 913.0,265.5 914.0,265.7 915.0,265.8 916.0,265.9 917.0,266.1 918.0,266.2 919.0,266.3 920.0,266.4 921.0,266.6 922.0,266.7 923.0,266.8 924.0,267.0 925.0,267.1 926.0,267.2 927.0,267.4 928.0,267.5 929.0,267.7 930.0,267.8 931.0,268.0 932.0,268.1 933.0,268.3 934.0,268.4 935.0,268.6 936.0,268.7 937.0,268.9 938.0,269.0 939.0,269.2 940.0,269.3 941.0,269.5 942.0,269.6 943.0,269.8 944.0,269.9 945.0,270.1 946.0,270.2 947.0,270.4 948.0,270.5 949.0,270.8 950.0,271.0 951.0,271.2 952.0,271.4 953.0,271.6 954.0,271.8 955.0,272.1 956.0,272.3 957.0,272.5 958.0,272.7 959.0,272.9 960.0,273.1 961.0,273.4 962.0,273.6 963.0,273.8 964.0,274.0 965.0,274.2 966.0,274.4 967.0,274.6 968.0,274.9 969.0,275.1 970.0,275.3 971.0,275.6 972.0,275.8 973.0,276.1 974.0,276.3 975.0,276.6 976.0,276.8 977.0,277.1 978.0,277.4 979.0,277.6 980.0,277.9 981.0,278.1 982.0,278.4 983.0,278.6 984.0,278.9 985.0,279.1 986.0,279.4 987.0,279.6 988.0,279.9 989.0,280.1 990.0,280.4 991.0,280.7 992.0,281.1 993.0,281.4 994.0,281.8 995.0,282.1 996.0,282.4 997.0,282.8 998.0,283.1 999.0,283.5 1000.0,283.8 1001.0,284.2 1002.0,284.5 1003.0,284.9 1004.0,285.2 1005.0,285.6 1006.0,285.9 1007.0,286.3 1008.0,286.6 1009.0,287.0 1010.0,287.3 1011.0,287.7 1012.0,288.0 1013.0,288.4 1014.0,288.8 1015.0,289.1 1016.0,289.5 1017.0,289.9 1018.0,290.2 1019.0,290.6 1020.0,291.0 1021.0,291.4 1022.0,291.7 1023.0,292.1 1024.0,292.5 1025.0,292.9 1026.0,293.2 1027.0,293.6 1028.0,294.0 1029.0,294.3 1030.0,294.7 1031.0,295.1 1032.0,295.5 1033.0,295.8 1034.0,296.2 1035.0,296.6 1036.0,297.0 1037.0,297.3 1038.0,297.7 1039.0,298.1 1040.0,298.4 1041.0,298.8 1042.0,299.2 1043.0,299.6 1044.0,299.9 1045.0,300.4 1046.0,300.8 1047.0,301.2 1048.0,301.7 1049.0,302.1 1050.0,302.6 1051.0,303.0 1052.0,303.4 1053.0,303.9 1054.0,304.3 1055.0,304.8 1056.0,305.2 1057.0,305.5 1058.0,305.9 1059.0,306.2 1060.0,306.6 1061.0,306.9 1062.0,307.3 1063.0,307.6 1064.0,308.0 1065.0,308.3 1066.0,308.7 1067.0,309.1 1068.0,309.5 1069.0,310.0 1070.0,310.4 1071.0,310.9 1072.0,311.3 1073.0,311.8 1074.0,312.2 1075.0,312.6 1076.0,313.1 1077.0,313.5 1078.0,314.0 1079.0,314.2 1080.0,314.5 1081.0,314.7 1082.0,315.0 1083.0,315.2 1084.0,315.5 1085.0,315.7 1086.0,316.0 1087.0,316.2 1088.0,316.4 1089.0,316.6 1090.0,316.8 1091.0,317.0 1092.0,317.2 1093.0,317.4 1094.0,317.6" fill="none" stroke="#f0e685" stroke-width="1"/>
<polyline points="0.0,454.4 1.0,454.2 2.0,454.1 3.0,453.9 4.0,453.8 5.0,453.6 6.0,453.5 7.0,453.3 8.0,453.2 9.0,453.0 10.0,452.9 11.0,452.7 12.0,452.6 13.0,452.4 14.0,452.3 15.0,452.2 16.0,452.0 17.0,451.9 18.0,451.7 19.0,451.6 20.0,451.4 21.0,451.3 22.0,451.1 23.0,451.0 24.0,450.8 25.0,450.6 26.0,450.5 27.0,450.3 28.0,450.2 29.0,450.0 30.0,449.9 31.0,449.7 32.0,449.6 33.0,449.4 34.0,449.3 35.0,449.1 36.0,449.0 37.0,448.9 38.0,448.8 39.0,448.7 40.0,448.6 41.0,448.5 42.0,448.4 43.0,448.3 44.0,448.2 45.0,448.1 46.0,448.0 47.0,447.8 48.0,447.7 49.0,447.5 50.0,447.4 51.0,447.2 52.0,447.0 53.0,446.9 54.0,446.7 55.0,446.6 56.0,446.5 57.0,446.4 58.0,446.2 59.0,446.1 60.0,446.0 61.0,445.9 62.0,445.7 63.0,445.6 64.0,445.4 65.0,445.3 66.0,445.1 67.0,445.0 68.0,444.9 69.0,444.7 70.0,444.6 71.0,444.4 72.0,444.3 73.0,444.1 74.0,444.0 75.0,443.9 76.0,443.7 77.0,443.6 78.0,443.4 79.0,443.2 80.0,443.1 81.0,442.9 82.0,442.8 83.0,442.6 84.0,442.5 85.0,442.3 86.0,442.2 87.0,442.0 88.0,441.9 89.0,441.7 90.0,441.5 91.0,441.3 92.0,441.1 93.0,440.9 94.0,440.7 95.0,440.5 96.0,440.3 97.0,440.1 98.0,439.9 99.0,439.7 100.0,439.5 101.0,439.3 102.0,439.1 103.0,438.9 104.0,438.6 105.0,438.3 106.0,438.1 107.0,437.8 108.0,437.5 109.0,437.2 110.0,437.0 111.0,436.7 112.0,436.4 113.0,436.1 114.0,435.8 115.0,435.3 116.0,434.8 117.0,434.3 118.0,433.8 119.0,433.4 120.0,433.1 121.0,432.7 122.0,432.4 123.0,432.0 124.0,431.7 125.0,431.3 126.0,431.0 127.0,430.6 128.0,430.3 129.0,430.0 130.0,429.6 131.0,429.3 132.0,428.9 133.0,428.6 134.0,428.3 135.0,428.0 136.0,427.7 137.0,427.3 138.0,427.0 139.0,426.7 140.0,426.4 141.0,426.0 142.0,425.6 143.0,425.2 144.0,424.8 145.0,424.4 146.0,423.9 147.0,423.5 148.0,423.1 149.0,422.7 150.0,422.3 151.0,421.9 152.0,421.5 153.0,421.1 154.0,420.8 155.0,420.4 156.0,420.0 157.0,419.6 158.0,419.2 159.0,418.8 160.0,418.4 161.0,417.9 162.0,417.4 163.0,416.9 164.0,416.4 165.0,415.9 166.0,415.4 167.0,414.9 168.0,414.4 169.0,413.9 170.0,413.4 171.0,412.9 172.0,412.4 173.0,411.9 174.0,411.4 175.0,410.9 176.0,410.4 177.0,409.9 178.0,409.4 179.0,408.9 180.0,408.4 181.0,407.8 182.0,407.2 183.0,406.6 184.0,406.0 185.0,405.4 186.0,404.8 187.0,404.2 188.0,403.6 189.0,403.0 190.0,402.4 191.0,401.8 192.0,401.2 193.0,400.6 194.0,399.9 195.0,399.3 196.0,398.7 197.0,398.1 198.0,397.5 199.0,397.0 200.0,396.5 201.0,396.1 202.0,395.6 203.0,395.1 204.0,394.7 205.0,394.2 206.0,393.8 207.0,393.3 208.0,392.9 209.0,392.4 210.0,392.0 211.0,391.5 212.0,391.1 213.0,390.6 214.0,390.2 215.0,389.7 216.0,389.3 217.0,388.8 218.0,388.4 219.0,388.0 220.0,387.6 221.0,387.3 222.0,386.9 223.0,386.6 224.0,386.2 225.0,385.9 226.0,385.5 227.0,385.2 228.0,384.8 229.0,384.5 230.0,384.1 231.0,383.8 232.0,383.5 233.0,383.1 234.0,382.8 235.0,382.4 236.0,382.1 237.0,381.7 238.0,381.4 239.0,381.0 240.0,380.6 241.0,380.2 242.0,379.8 243.0,379.4 244.0,379.0 245.0,378.6 246.0,378.2 247.0,377.8 248.0,377.4 249.0,377.0 250.0,376.6 251.0,376.2 252.0,375.8 253.0,375.4 254.0,375.0 255.0,374.6 256.0,374.2 257.0,373.8 258.0,373.4 259.0,372.9 260.0,372.5 261.0,372.0 262.0,371.6 263.0,371.1 264.0,370.7 265.0,370.2 266.0,369.8 267.0,369.3 268.0,368.9 269.0,368.4 270.0,368.0 271.0,367.5 272.0,367.1 273.0,366.6 274.0,366.2 275.0,365.7 276.0,365.3 277.0,364.8 278.0,364.4 279.0,363.9 280.0,363.4 281.0,362.9 282.0,362.5 283.0,362.0 284.0,361.5 285.0,361.1 286.0,360.6 287.0,360.1 288.0,359.6 289.0,359.2 290.0,358.7 291.0,358.2 292.0,357.7 293.0,357.3 294.0,356.8 295.0,356.2 296.0,355.5 297.0,354.8 298.0,354.1 299.0,353.4 300.0,352.8 301.0,352.1 302.0,351.4 303.0,350.7 304.0,350.1 305.0,349.4 306.0,348.7 307.0,348.0 308.0,347.4 309.0,346.7 310.0,346.0 311.0,345.3 312.0,344.6 313.0,343.9 314.0,343.2 315.0,342.5 316.0,341.8 317.0,341.1 318.0,340.4 319.0,339.7 320.0,339.0 321.0,338.3 322.0,337.6 323.0,336.9 324.0,336.2 325.0,335.5 326.0,334.8 327.0,334.1 328.0,333.4 329.0,332.7 330.0,332.0 331.0,331.2 332.0,330.5 333.0,329.8 334.0,329.0 335.0,328.2 336.0,327.5 337.0,326.8 338.0,326.0 339.0,325.2 340.0,324.5 341.0,323.8 342.0,323.0 343.0,322.2 344.0,321.5 345.0,320.8 346.0,320.0 347.0,319.2 348.0,318.5 349.0,317.8 350.0,317.0 351.0,316.2 352.0,315.4 353.0,314.6 354.0,313.8 355.0,313.0 356.0,312.2 357.0,311.4 358.0,310.6 359.0,309.8 360.0,309.0 361.0,308.2 362.0,307.4 363.0,306.6 364.0,305.8 365.0,305.0 366.0,304.2 367.0,303.5 368.0,302.8 369.0,302.0 370.0,301.3 371.0,300.6 372.0,299.9 373.0,299.2 374.0,298.5 375.0,297.8 376.0,297.0 377.0,296.3 378.0,295.5 379.0,294.8 380.0,294.0 381.0,293.3 382.0,292.5 383.0,291.8 384.0,291.0 385.0,290.2 386.0,289.4 387.0,288.5 388.0,287.6 389.0,286.7 390.0,285.9 391.0,285.0 392.0,284.1 393.0,283.2 394.0,282.4 395.0,281.5 396.0,280.6 397.0,279.7 398.0,278.8 399.0,278.0 400.0,277.1 401.0,276.2 402.0,275.3 403.0,274.5 404.0,273.6 405.0,272.8 406.0,272.0 407.0,271.3 408.0,270.5 409.0,269.8 410.0,269.0 411.0,268.3 412.0,267.5 413.0,266.8 414.0,266.0 415.0,265.0 416.0,264.0 417.0,263.0 418.0,262.0 419.0,261.1 420.0,260.1 421.0,259.1 422.0,258.1 423.0,257.1 424.0,256.1 425.0,255.2 426.0,254.4 427.0,253.5 428.0,252.6 429.0,251.7 430.0,250.8 431.0,250.0 432.0,249.1 433.0,248.2 434.0,247.3 435.0,246.5 436.0,245.6 437.0,244.7 438.0,243.8 439.0,242.9 440.0,242.1 441.0,241.2 442.0,240.3 443.0,239.4 444.0,238.7 445.0,238.1 446.0,237.6 447.0,237.0 448.0,236.4 449.0,235.9 450.0,235.3 451.0,234.8 452.0,234.3 453.0,233.8 454.0,233.3 455.0,232.8 456.0,232.3 457.0,231.7 458.0,231.1 459.0,230.5 460.0,229.8 461.0,229.2 462.0,228.6 463.0,228.4 464.0,228.1 465.0,227.9 466.0,227.6 467.0,227.4 468.0,227.1 469.0,226.9 470.0,226.7 471.0,226.4 472.0,226.2 473.0,225.9 474.0,225.7 475.0,225.4 476.0,225.2 477.0,224.9 478.0,224.7 479.0,224.4 480.0,224.2 481.0,223.9 482.0,223.7 483.0,223.4 484.0,223.1 485.0,222.9 486.0,222.7 487.0,222.5 488.0,222.3 489.0,222.2 490.0,222.0 491.0,221.8 492.0,221.6 493.0,221.4 494.0,221.2 495.0,221.0 496.0,220.8 497.0,220.6 498.0,220.4 499.0,220.1 500.0,219.9 501.0,219.6 502.0,219.4 503.0,219.1 504.0,218.7 505.0,218.4 506.0,218.0 507.0,217.6 508.0,217.2 509.0,216.9 510.0,216.6 511.0,216.4 512.0,216.2 513.0,215.9 514.0,215.7 515.0,215.4 516.0,215.2 517.0,214.9 518.0,214.7 519.0,214.4 520.0,214.2 521.0,213.9 522.0,213.7 523.0,213.4 524.0,213.2 525.0,212.9 526.0,212.7 527.0,212.4 528.0,212.1 529.0,211.9 530.0,211.6 531.0,211.4 532.0,211.1 533.0,210.8 534.0,210.5 535.0,210.1 536.0,209.8 537.0,209.4 538.0,209.1 539.0,208.8 540.0,208.5 541.0,208.3 542.0,208.0 543.0,207.8 544.0,207.5 545.0,207.3 546.0,207.0 547.0,206.8 548.0,206.6 549.0,206.5 550.0,206.3 551.0,206.2 552.0,206.1 553.0,206.0 554.0,205.9 555.0,205.8 556.0,205.7 557.0,205.6 558.0,205.6 559.0,205.6 560.0,205.6 561.0,205.6 562.0,205.6 563.0,205.6 564.0,205.6 565.0,205.6 566.0,205.6 567.0,205.7 568.0,205.8 569.0,205.8 570.0,205.9 571.0,206.0 572.0,206.1 573.0,206.1 574.0,206.2 575.0,206.3 576.0,206.4 577.0,206.5 578.0,206.6 579.0,206.7 580.0,206.8 581.0,206.9 582.0,207.0 583.0,207.1 584.0,207.3 585.0,207.4 586.0,207.6 587.0,207.7 588.0,207.9 589.0,208.0 590.0,208.2 591.0,208.4 592.0,208.5 593.0,208.7 594.0,209.0 595.0,209.2 596.0,209.4 597.0,209.6 598.0,209.8 599.0,210.0 600.0,210.2 601.0,210.5 602.0,210.6 603.0,210.8 604.0,211.0 605.0,211.2 606.0,211.3 607.0,211.5 608.0,211.7 609.0,211.9 610.0,212.0 611.0,212.2 612.0,212.5 613.0,212.8 614.0,213.2 615.0,213.5 616.0,213.9 617.0,214.2 618.0,214.6 619.0,214.9 620.0,215.3 621.0,215.6 622.0,216.0 623.0,216.3 624.0,216.8 625.0,217.2 626.0,217.7 627.0,218.2 628.0,218.6 629.0,219.1 630.0,219.5 631.0,220.0 632.0,220.4 633.0,220.9 634.0,221.3 635.0,221.7 636.0,222.1 637.0,222.4 638.0,222.8 639.0,223.1 640.0,223.5 641.0,223.8 642.0,224.2 643.0,224.5 644.0,224.9 645.0,225.2 646.0,225.6 647.0,226.0 648.0,226.4 649.0,226.8 650.0,227.2 651.0,227.6 652.0,228.0 653.0,228.4 654.0,228.8 655.0,229.2 656.0,229.6 657.0,230.0 658.0,230.5 659.0,231.1 660.0,231.6 661.0,232.2 662.0,232.7 663.0,233.3 664.0,233.9 665.0,234.4 666.0,235.0 667.0,235.4 668.0,235.7 669.0,236.1 670.0,236.4 671.0,236.7 672.0,237.1 673.0,237.4 674.0,237.7 675.0,238.1 676.0,238.4 677.0,238.7 678.0,239.1 679.0,239.4 680.0,239.7 681.0,240.0 682.0,240.4 683.0,240.7 684.0,241.0 685.0,241.3 686.0,241.6 687.0,241.9 688.0,242.2 689.0,242.5 690.0,242.8 691.0,243.1 692.0,243.4 693.0,243.8 694.0,244.1 695.0,244.5 696.0,244.8 697.0,245.2 698.0,245.5 699.0,245.9 700.0,246.2 701.0,246.6 702.0,246.9 703.0,247.3 704.0,247.8 705.0,248.3 706.0,248.8 707.0,249.3 708.0,249.8 709.0,250.3 710.0,250.8 711.0,251.3 712.0,251.8 713.0,252.3 714.0,252.8 715.0,253.4 716.0,253.9 717.0,254.5 718.0,255.0 719.0,255.6 720.0,256.2 721.0,256.7 722.0,257.3 723.0,257.9 724.0,258.5 725.0,259.2 726.0,260.0 727.0,260.7 728.0,261.5 729.0,262.2 730.0,263.0 731.0,263.7 732.0,264.4 733.0,265.0 734.0,265.5 735.0,266.0 736.0,266.6 737.0,267.1 738.0,267.6 739.0,268.2 740.0,268.7 741.0,269.2 742.0,269.7 743.0,270.2 744.0,270.7 745.0,271.3 746.0,271.8 747.0,272.3 748.0,272.8 749.0,273.3 750.0,273.8 751.0,274.2 752.0,274.6 753.0,275.0 754.0,275.4 755.0,275.8 756.0,276.2 757.0,276.6 758.0,277.0 759.0,277.4 760.0,277.7 761.0,278.0 762.0,278.2 763.0,278.5 764.0,278.7 765.0,279.0 766.0,279.3 767.0,279.5 768.0,279.8 769.0,280.0 770.0,280.2 771.0,280.4 772.0,280.5 773.0,280.7 774.0,280.9 775.0,281.0 776.0,281.2 777.0,281.4 778.0,281.5 779.0,281.7 780.0,281.9 781.0,282.0 782.0,282.2 783.0,282.4 784.0,282.5 785.0,282.7 786.0,282.9 787.0,283.1 788.0,283.2 789.0,283.4 790.0,283.8 791.0,284.1 792.0,284.4 793.0,284.7 794.0,285.1 795.0,285.4 796.0,285.7 797.0,286.0 798.0,286.4 799.0,286.8 800.0,287.3 801.0,287.8 802.0,288.3 803.0,288.8 804.0,289.3 805.0,289.8 806.0,290.3 807.0,290.8 808.0,291.3 809.0,291.7 810.0,292.1 811.0,292.4 812.0,292.7 813.0,293.0 814.0,293.4 815.0,293.7 816.0,294.0 817.0,294.4 818.0,294.7 819.0,295.0 820.0,295.4 821.0,295.7 822.0,296.1 823.0,296.4 824.0,296.7 825.0,297.1 826.0,297.4 827.0,298.0 828.0,298.6 829.0,299.1 830.0,299.7 831.0,300.3 832.0,300.9 833.0,301.5 834.0,302.1 835.0,302.6 836.0,303.2 837.0,303.6 838.0,304.0 839.0,304.4 840.0,304.9 841.0,305.3 842.0,305.7 843.0,306.1 844.0,306.5 845.0,306.9 846.0,307.3 847.0,307.7 848.0,308.0 849.0,308.3 850.0,308.7 851.0,309.0 852.0,309.3 853.0,309.7 854.0,310.0 855.0,310.3 856.0,310.6 857.0,310.7 858.0,310.9 859.0,311.1 860.0,311.2 861.0,311.4 862.0,311.6 863.0,311.7 864.0,311.9 865.0,312.1 866.0,312.2 867.0,312.4 868.0,312.5 869.0,312.7 870.0,312.9 871.0,313.0 872.0,313.2 873.0,313.4 874.0,313.5 875.0,313.7 876.0,313.9 877.0,314.0 878.0,314.2 879.0,314.4 880.0,314.5 881.0,314.7 882.0,314.9 883.0,315.1 884.0,315.2 885.0,315.4 886.0,315.5 887.0,315.6 888.0,315.7 889.0,315.7 890.0,315.8 891.0,315.9 892.0,316.0 893.0,316.1 894.0,316.1 895.0,316.2 896.0,316.3 897.0,316.4 898.0,316.5 899.0,316.6 900.0,316.7 901.0,316.8 902.0,316.9 903.0,317.0 904.0,317.1 905.0,317.2 906.0,317.3 907.0,317.4 908.0,317.5 909.0,317.6 910.0,317.7 911.0,317.8 912.0,317.8 913.0,317.9 914.0,317.9 915.0,318.0 916.0,318.0 917.0,318.1 918.0,318.1 919.0,318.2 920.0,318.2 921.0,318.2 922.0,318.3 923.0,318.3 924.0,318.4 925.0,318.5 926.0,318.6 927.0,318.7 928.0,318.8 929.0,318.9 930.0,319.0 931.0,319.1 932.0,319.2 933.0,319.3 934.0,319.4 935.0,319.5 936.0,319.6 937.0,319.7 938.0,319.8 939.0,319.9 940.0,320.1 941.0,320.2 942.0,320.4 943.0,320.5 944.0,320.7 945.0,320.8 946.0,321.0 947.0,321.1 948.0,321.3 949.0,321.4 950.0,321.6 951.0,321.7 952.0,321.9 953.0,322.0 954.0,322.2 955.0,322.3 956.0,322.5 957.0,322.6 958.0,322.8 959.0,322.9 960.0,323.1 961.0,323.2 962.0,323.3 963.0,323.5 964.0,323.6 965.0,323.8 966.0,323.9 967.0,324.1 968.0,324.2 969.0,324.4 970.0,324.7 971.0,324.9 972.0,325.1 973.0,325.3 974.0,325.6 975.0,325.8 976.0,326.1 977.0,326.3 978.0,326.6 979.0,326.8 980.0,327.1 981.0,327.3 982.0,327.6 983.0,327.8 984.0,328.1 985.0,328.3 986.0,328.6 987.0,328.8 988.0,329.1 989.0,329.3 990.0,329.6 991.0,329.9 992.0,330.2 993.0,330.5 994.0,330.8 995.0,331.1 996.0,331.4 997.0,331.7 998.0,332.0 999.0,332.3 1000.0,332.6 1001.0,332.9 1002.0,333.2 1003.0,333.5 1004.0,333.8 1005.0,334.1 1006.0,334.4 1007.0,334.8 1008.0,335.1 1009.0,335.5 1010.0,335.8 1011.0,336.2 1012.0,336.5 1013.0,336.8 1014.0,337.2 1015.0,337.5 1016.0,337.9 1017.0,338.2 1018.0,338.6 1019.0,338.9 1020.0,339.2 1021.0,339.5 1022.0,339.8 1023.0,340.1 1024.0,340.4 1025.0,340.7 1026.0,341.0 1027.0,341.3 1028.0,341.6 1029.0,341.9 1030.0,342.2 1031.0,342.5 1032.0,342.8 1033.0,343.1 1034.0,343.4 1035.0,343.7 1036.0,343.9 1037.0,344.2 1038.0,344.4 1039.0,344.7 1040.0,344.9 1041.0,345.2 1042.0,345.4 1043.0,345.7 1044.0,345.9 1045.0,346.2 1046.0,346.4 1047.0,346.7 1048.0,346.9 1049.0,347.2 1050.0,347.5 1051.0,347.8 1052.0,348.1 1053.0,348.4 1054.0,348.7 1055.0,349.0 1056.0,349.3 1057.0,349.6 1058.0,349.9 1059.0,350.2 1060.0,350.5 1061.0,350.8 1062.0,351.1 1063.0,351.4 1064.0,351.7 1065.0,351.9 1066.0,352.2 1067.0,352.4 1068.0,352.7 1069.0,352.9 1070.0,353.2 1071.0,353.4 1072.0,353.7 1073.0,354.0 1074.0,354.2 1075.0,354.5 1076.0,354.6 1077.0,354.7 1078.0,354.8 1079.0,354.9 1080.0,355.0 1081.0,355.1 1082.0,355.2 1083.0,355.3 1084.0,355.4 1085.0,355.5 1086.0,355.6 1087.0,355.7 1088.0,355.8 1089.0,355.9 1090.0,356.0 1091.0,356.0 1092.0,356.1 1093.0,356.2 1094.0,356.3" fill="none" stroke="#00d8f0" stroke-width="1"/>
<polyline points="0.0,445.0 1.0,444.6 2.0,444.1 3.0,443.6 4.0,443.2 5.0,443.0 6.0,442.7 7.0,442.5 8.0,442.2 9.0,442.0 10.0,441.8 11.0,441.5 12.0,441.3 13.0,441.1 14.0,440.8 15.0,440.6 16.0,440.3 17.0,440.1 18.0,439.8 19.0,439.6 20.0,439.3 21.0,439.1 22.0,438.9 23.0,438.6 24.0,438.4 25.0,438.2 26.0,438.0 27.0,437.7 28.0,437.5 29.0,437.3 30.0,437.1 31.0,436.9 32.0,436.7 33.0,436.5 34.0,436.3 35.0,436.1 36.0,435.9 37.0,435.6 38.0,435.2 39.0,434.9 40.0,434.6 41.0,434.2 42.0,433.9 43.0,433.8 44.0,433.6 45.0,433.5 46.0,433.4 47.0,433.3 48.0,433.1 49.0,433.0 50.0,432.9 51.0,432.8 52.0,432.8 53.0,432.7 54.0,432.7 55.0,432.6 56.0,432.4 57.0,432.2 58.0,432.0 59.0,431.8 60.0,431.6 61.0,431.4 62.0,431.2 63.0,431.0 64.0,430.8 65.0,430.6 66.0,430.4 67.0,430.2 68.0,430.0 69.0,429.8 70.0,429.6 71.0,429.4 72.0,429.2 73.0,429.0 74.0,428.8 75.0,428.6 76.0,428.4 77.0,428.2 78.0,428.0 79.0,427.8 80.0,427.6 81.0,427.4 82.0,427.2 83.0,426.9 84.0,426.7 85.0,426.4 86.0,426.2 87.0,425.9 88.0,425.7 89.0,425.4 90.0,425.2 91.0,424.9 92.0,424.7 93.0,424.4 94.0,424.2 95.0,423.9 96.0,423.6 97.0,423.3 98.0,423.0 99.0,422.7 100.0,422.4 101.0,422.1 102.0,421.8 103.0,421.5 104.0,421.2 105.0,420.9 106.0,420.6 107.0,420.3 108.0,420.1 109.0,419.9 110.0,419.7 111.0,419.5 112.0,419.3 113.0,418.9 114.0,418.4 115.0,418.0 116.0,417.6 117.0,417.1 118.0,416.7 119.0,416.3 120.0,415.8 121.0,415.3 122.0,414.8 123.0,414.3 124.0,413.8 125.0,413.3 126.0,412.8 127.0,412.3 128.0,411.8 129.0,411.3 130.0,410.8 131.0,410.2 132.0,409.6 133.0,409.0 134.0,408.4 135.0,407.8 136.0,407.2 137.0,406.6 138.0,406.0 139.0,405.4 140.0,404.9 141.0,404.4 142.0,403.9 143.0,403.4 144.0,402.9 145.0,402.4 146.0,401.9 147.0,401.4 148.0,400.9 149.0,400.4 150.0,399.7 151.0,399.0 152.0,398.3 153.0,397.6 154.0,396.9 155.0,396.2 156.0,395.5 157.0,394.8 158.0,394.1 159.0,393.4 160.0,392.8 161.0,392.2 162.0,391.6 163.0,391.0 164.0,390.5 165.0,389.8 166.0,389.0 167.0,388.1 168.0,387.3 169.0,386.4 170.0,385.6 171.0,384.7 172.0,383.8 173.0,383.0 174.0,382.1 175.0,381.3 176.0,380.4 177.0,379.6 178.0,378.7 179.0,377.9 180.0,377.0 181.0,376.2 182.0,375.4 183.0,374.5 184.0,373.7 185.0,372.9 186.0,372.1 187.0,371.2 188.0,370.4 189.0,369.6 190.0,368.7 191.0,367.9 192.0,367.1 193.0,366.2 194.0,365.4 195.0,364.6 196.0,363.7 197.0,362.9 198.0,362.1 199.0,361.3 200.0,360.4 201.0,359.6 202.0,358.8 203.0,358.1 204.0,357.4 205.0,356.8 206.0,356.1 207.0,355.5 208.0,354.8 209.0,354.2 210.0,353.5 211.0,352.9 212.0,352.2 213.0,351.6 214.0,350.9 215.0,350.3 216.0,349.7 217.0,349.1 218.0,348.5 219.0,347.8 220.0,347.2 221.0,346.6 222.0,346.0 223.0,345.3 224.0,344.7 225.0,344.0 226.0,343.4 227.0,342.8 228.0,342.5 229.0,342.1 230.0,341.7 231.0,341.3 232.0,341.0 233.0,340.5 234.0,340.0 235.0,339.5 236.0,339.0 237.0,338.5 238.0,338.0 239.0,337.4 240.0,336.7 241.0,335.9 242.0,335.2 243.0,334.4 244.0,333.7 245.0,333.1 246.0,332.6 247.0,332.1 248.0,331.6 249.0,331.1 250.0,330.6 251.0,330.0 252.0,329.3 253.0,328.7 254.0,328.1 255.0,327.5 256.0,326.8 257.0,326.2 258.0,325.6 259.0,324.9 260.0,324.3 261.0,323.6 262.0,323.0 263.0,322.6 264.0,322.3 265.0,321.9 266.0,321.5 267.0,321.2 268.0,320.8 269.0,320.4 270.0,320.1 271.0,319.7 272.0,319.3 273.0,319.0 274.0,318.6 275.0,318.2 276.0,317.8 277.0,317.5 278.0,317.1 279.0,316.7 280.0,316.3 281.0,316.0 282.0,315.6 283.0,315.2 284.0,314.8 285.0,314.5 286.0,314.0 287.0,313.5 288.0,313.0 289.0,312.5 290.0,312.0 291.0,311.5 292.0,311.0 293.0,310.5 294.0,309.8 295.0,309.1 296.0,308.5 297.0,307.8 298.0,307.1 299.0,306.4 300.0,305.8 301.0,305.1 302.0,304.4 303.0,303.7 304.0,303.1 305.0,302.4 306.0,301.7 307.0,301.0 308.0,300.4 309.0,299.7 310.0,299.0 311.0,298.4 312.0,297.7 313.0,297.1 314.0,296.4 315.0,295.8 316.0,295.1 317.0,294.4 318.0,293.8 319.0,293.1 320.0,292.5 321.0,291.9 322.0,291.2 323.0,290.6 324.0,289.9 325.0,289.2 326.0,288.6 327.0,287.9 328.0,287.3 329.0,286.6 330.0,286.0 331.0,285.2 332.0,284.5 333.0,283.8 334.0,283.0 335.0,282.2 336.0,281.5 337.0,280.8 338.0,280.0 339.0,279.2 340.0,278.5 341.0,277.8 342.0,277.0 343.0,276.2 344.0,275.5 345.0,274.8 346.0,274.0 347.0,273.2 348.0,272.5 349.0,271.8 350.0,271.0 351.0,270.3 352.0,269.5 353.0,268.8 354.0,268.0 355.0,267.3 356.0,266.6 357.0,265.8 358.0,265.1 359.0,264.3 360.0,263.6 361.0,262.9 362.0,262.1 363.0,261.4 364.0,260.7 365.0,259.9 366.0,259.2 367.0,258.4 368.0,257.6 369.0,256.9 370.0,256.1 371.0,255.3 372.0,254.6 373.0,253.8 374.0,253.0 375.0,252.2 376.0,251.2 377.0,250.2 378.0,249.2 379.0,248.2 380.0,247.3 381.0,246.3 382.0,245.3 383.0,244.3 384.0,243.3 385.0,242.3 386.0,241.3 387.0,240.3 388.0,239.3 389.0,238.3 390.0,237.2 391.0,236.2 392.0,235.2 393.0,234.2 394.0,233.2 395.0,232.1 396.0,230.9 397.0,229.8 398.0,228.6 399.0,227.5 400.0,226.3 401.0,225.1 402.0,223.9 403.0,222.4 404.0,220.9 405.0,219.4 406.0,217.9 407.0,216.4 408.0,214.9 409.0,213.4 410.0,212.2 411.0,211.0 412.0,209.8 413.0,208.7 414.0,207.5 415.0,206.3 416.0,205.2 417.0,203.8 418.0,202.3 419.0,200.8 420.0,199.3 421.0,197.8 422.0,196.3 423.0,194.8 424.0,193.4 425.0,192.4 426.0,191.4 427.0,190.4 428.0,189.4 429.0,187.8 430.0,186.1 431.0,184.5 432.0,182.8 433.0,181.2 434.0,179.7 435.0,178.5 436.0,177.3 437.0,176.2 438.0,175.0 439.0,173.9 440.0,172.7 441.0,171.6 442.0,170.4 443.0,169.3 444.0,168.2 445.0,167.0 446.0,165.9 447.0,165.1 448.0,164.2 449.0,163.4 450.0,162.5 451.0,161.7 452.0,160.9 453.0,160.2 454.0,159.6 455.0,158.9 456.0,158.3 457.0,157.7 458.0,157.1 459.0,156.9 460.0,156.7 461.0,156.4 462.0,156.2 463.0,155.9 464.0,155.8 465.0,155.8 466.0,155.8 467.0,155.8 468.0,155.8 469.0,155.8 470.0,155.9 471.0,156.2 472.0,156.4 473.0,156.6 474.0,156.9 475.0,157.1 476.0,157.4 477.0,157.6 478.0,157.9 479.0,158.1 480.0,158.4 481.0,158.6 482.0,158.9 483.0,159.2 484.0,159.4 485.0,159.7 486.0,159.9 487.0,160.2 488.0,160.4 489.0,160.7 490.0,160.9 491.0,161.2 492.0,161.4 493.0,161.7 494.0,162.1 495.0,162.4 496.0,162.8 497.0,163.2 498.0,163.6 499.0,163.9 500.0,164.3 501.0,164.6 502.0,165.0 503.0,165.4 504.0,165.7 505.0,166.1 506.0,166.5 507.0,166.9 508.0,167.2 509.0,167.6 510.0,168.0 511.0,168.4 512.0,168.9 513.0,169.4 514.0,169.9 515.0,170.4 516.0,170.9 517.0,171.4 518.0,171.9 519.0,172.4 520.0,172.9 521.0,173.4 522.0,173.9 523.0,174.4 524.0,174.9 525.0,175.4 526.0,175.9 527.0,176.4 528.0,176.9 529.0,177.4 530.0,177.9 531.0,178.4 532.0,178.9 533.0,179.4 534.0,179.9 535.0,180.4 536.0,181.0 537.0,181.5 538.0,182.0 539.0,182.5 540.0,183.0 541.0,183.6 542.0,184.2 543.0,184.8 544.0,185.4 545.0,186.0 546.0,186.6 547.0,187.2 548.0,187.8 549.0,188.4 550.0,189.0 551.0,189.8 552.0,190.7 553.0,191.5 554.0,192.3 555.0,193.2 556.0,194.0 557.0,194.8 558.0,195.7 559.0,196.5 560.0,197.4 561.0,198.2 562.0,199.1 563.0,199.9 564.0,201.5 565.0,203.2 566.0,204.9 567.0,206.6 568.0,208.3 569.0,209.7 570.0,210.9 571.0,212.2 572.0,213.4 573.0,214.7 574.0,215.9 575.0,217.4 576.0,218.9 577.0,220.4 578.0,222.0 579.0,223.5 580.0,225.0 581.0,226.7 582.0,228.4 583.0,230.2 584.0,231.9 585.0,233.6 586.0,235.3 587.0,236.8 588.0,238.3 589.0,239.8 590.0,241.3 591.0,242.8 592.0,244.4 593.0,246.2 594.0,247.9 595.0,249.7 596.0,251.5 597.0,253.3 598.0,254.9 599.0,256.1 600.0,257.4 601.0,258.6 602.0,259.9 603.0,261.1 604.0,262.3 605.0,263.3 606.0,264.3 607.0,265.2 608.0,266.2 609.0,267.2 610.0,268.1 611.0,268.8 612.0,269.6 613.0,270.4 614.0,271.1 615.0,271.9 616.0,272.5 617.0,273.0 618.0,273.6 619.0,274.1 620.0,274.6 621.0,275.2 622.0,275.7 623.0,276.3 624.0,276.9 625.0,277.5 626.0,278.1 627.0,278.7 628.0,279.3 629.0,279.8 630.0,280.4 631.0,281.0 632.0,281.6 633.0,282.0 634.0,282.4 635.0,282.9 636.0,283.3 637.0,283.7 638.0,284.1 639.0,284.6 640.0,285.0 641.0,285.3 642.0,285.5 643.0,285.8 644.0,286.1 645.0,286.3 646.0,286.6 647.0,286.9 648.0,287.2 649.0,287.7 650.0,288.2 651.0,288.7 652.0,289.1 653.0,289.6 654.0,290.1 655.0,290.6 656.0,291.2 657.0,291.7 658.0,292.2 659.0,292.7 660.0,293.2 661.0,293.7 662.0,294.2 663.0,294.7 664.0,295.2 665.0,295.7 666.0,296.2 667.0,296.7 668.0,297.2 669.0,297.7 670.0,298.2 671.0,298.7 672.0,299.1 673.0,299.3 674.0,299.6 675.0,299.8 676.0,300.1 677.0,300.3 678.0,300.6 679.0,300.8 680.0,301.0 681.0,301.2 682.0,301.3 683.0,301.5 684.0,301.7 685.0,301.8 686.0,302.0 687.0,302.2 688.0,302.4 689.0,302.7 690.0,302.9 691.0,303.1 692.0,303.4 693.0,303.6 694.0,303.9 695.0,304.1 696.0,304.3 697.0,304.4 698.0,304.6 699.0,304.8 700.0,304.9 701.0,305.1 702.0,305.3 703.0,305.4 704.0,305.3 705.0,305.2 706.0,305.2 707.0,305.1 708.0,305.0 709.0,304.9 710.0,304.9 711.0,304.6 712.0,304.0 713.0,303.3 714.0,302.7 715.0,302.1 716.0,301.5 717.0,301.1 718.0,300.7 719.0,300.4 720.0,300.0 721.0,299.7 722.0,299.4 723.0,299.1 724.0,298.9 725.0,298.6 726.0,298.4 727.0,298.1 728.0,297.9 729.0,297.6 730.0,297.4 731.0,297.2 732.0,297.0 733.0,296.9 734.0,296.7 735.0,296.5 736.0,296.3 737.0,296.1 738.0,295.9 739.0,295.7 740.0,295.5 741.0,295.1 742.0,294.7 743.0,294.3 744.0,293.9 745.0,293.5 746.0,293.1 747.0,292.7 748.0,292.3 749.0,291.8 750.0,291.5 751.0,291.1 752.0,290.8 753.0,290.5 754.0,290.1 755.0,289.8 756.0,289.5 757.0,289.1 758.0,288.8 759.0,288.5 760.0,288.1 761.0,287.7 762.0,287.3 763.0,286.8 764.0,286.4 765.0,286.0 766.0,285.6 767.0,285.2 768.0,284.7 769.0,284.3 770.0,284.0 771.0,283.8 772.0,283.5 773.0,283.3 774.0,283.0 775.0,282.7 776.0,282.5 777.0,282.2 778.0,282.0 779.0,281.7 780.0,281.8 781.0,281.9 782.0,282.0 783.0,282.1 784.0,282.1 785.0,282.2 786.0,282.3 787.0,282.4 788.0,282.5 789.0,282.6 790.0,282.9 791.0,283.1 792.0,283.4 793.0,283.6 794.0,283.8 795.0,284.1 796.0,284.3 797.0,284.6 798.0,284.8 799.0,285.1 800.0,285.5 801.0,286.0 802.0,286.4 803.0,286.8 804.0,287.2 805.0,287.6 806.0,288.0 807.0,288.4 808.0,288.9 809.0,289.2 810.0,289.4 811.0,289.7 812.0,289.9 813.0,290.1 814.0,290.4 815.0,290.7 816.0,291.0 817.0,291.4 818.0,291.7 819.0,292.0 820.0,292.4 821.0,292.7 822.0,293.1 823.0,293.5 824.0,294.2 825.0,294.9 826.0,295.6 827.0,296.3 828.0,297.0 829.0,297.7 830.0,298.4 831.0,299.1 832.0,299.9 833.0,300.7 834.0,301.5 835.0,302.2 836.0,303.0 837.0,303.8 838.0,304.6 839.0,305.4 840.0,306.1 841.0,306.8 842.0,307.6 843.0,308.3 844.0,309.0 845.0,309.7 846.0,310.4 847.0,311.1 848.0,311.7 849.0,312.3 850.0,312.9 851.0,313.5 852.0,314.1 853.0,314.7 854.0,315.3 855.0,315.9 856.0,316.5 857.0,317.1 858.0,317.7 859.0,318.3 860.0,318.9 861.0,319.5 862.0,320.1 863.0,320.7 864.0,321.3 865.0,321.8 866.0,322.3 867.0,322.8 868.0,323.3 869.0,323.8 870.0,324.3 871.0,324.8 872.0,325.3 873.0,326.0 874.0,326.6 875.0,327.3 876.0,327.9 877.0,328.6 878.0,329.2 879.0,329.9 880.0,330.5 881.0,331.0 882.0,331.6 883.0,332.1 884.0,332.7 885.0,333.2 886.0,333.8 887.0,334.3 888.0,334.9 889.0,335.4 890.0,335.8 891.0,336.2 892.0,336.6 893.0,337.0 894.0,337.5 895.0,337.9 896.0,338.3 897.0,338.7 898.0,339.2 899.0,339.8 900.0,340.4 901.0,340.9 902.0,341.5 903.0,342.1 904.0,342.7 905.0,343.3 906.0,343.9 907.0,344.4 908.0,344.9 909.0,345.4 910.0,345.9 911.0,346.5 912.0,347.0 913.0,347.5 914.0,348.0 915.0,348.5 916.0,349.1 917.0,349.7 918.0,350.4 919.0,351.1 920.0,351.7 921.0,352.4 922.0,353.0 923.0,353.7 924.0,354.4 925.0,354.7 926.0,354.9 927.0,355.2 928.0,355.4 929.0,355.7 930.0,355.9 931.0,356.2 932.0,356.4 933.0,356.7 934.0,356.8 935.0,356.9 936.0,356.9 937.0,357.0 938.0,357.1 939.0,357.2 940.0,357.3 941.0,357.3 942.0,357.4 943.0,357.4 944.0,357.4 945.0,357.4 946.0,357.4 947.0,357.4 948.0,357.4 949.0,357.4 950.0,357.4 951.0,357.4 952.0,357.3 953.0,357.2 954.0,357.1 955.0,357.1 956.0,357.0 957.0,356.9 958.0,356.8 959.0,356.7 960.0,356.6 961.0,356.4 962.0,356.3 963.0,356.1 964.0,355.9 965.0,355.8 966.0,355.6 967.0,355.4 968.0,355.3 969.0,355.1 970.0,355.0 971.0,354.9 972.0,354.8 973.0,354.7 974.0,354.6 975.0,354.5 976.0,354.3 977.0,354.2 978.0,354.0 979.0,353.9 980.0,353.7 981.0,353.5 982.0,353.4 983.0,353.3 984.0,353.2 985.0,353.1 986.0,353.0 987.0,352.9 988.0,352.8 989.0,352.8 990.0,352.7 991.0,352.7 992.0,352.7 993.0,352.7 994.0,352.7 995.0,352.7 996.0,352.7 997.0,352.7 998.0,352.6 999.0,352.6 1000.0,352.6 1001.0,352.6 1002.0,352.6 1003.0,352.6 1004.0,352.6 1005.0,352.6 1006.0,352.6 1007.0,352.5 1008.0,352.5 1009.0,352.5 1010.0,352.5 1011.0,352.5 1012.0,352.4 1013.0,352.4 1014.0,352.4 1015.0,352.4 1016.0,352.4 1017.0,352.3 1018.0,352.3 1019.0,352.3 1020.0,352.3 1021.0,352.2 1022.0,352.2 1023.0,352.2 1024.0,352.1 1025.0,352.1 1026.0,352.1 1027.0,352.0 1028.0,352.0 1029.0,352.0 1030.0,351.9 1031.0,351.9 1032.0,351.9 1033.0,351.8 1034.0,351.8 1035.0,351.8 1036.0,351.8 1037.0,351.8 1038.0,351.8 1039.0,351.8 1040.0,351.8 1041.0,351.8 1042.0,351.8 1043.0,351.8 1044.0,351.8 1045.0,351.8 1046.0,351.8 1047.0,351.8 1048.0,351.8 1049.0,351.8 1050.0,351.9 1051.0,351.9 1052.0,352.0 1053.0,352.1 1054.0,352.1 1055.0,352.2 1056.0,352.2 1057.0,352.3 1058.0,352.4 1059.0,352.4 1060.0,352.5 1061.0,352.6 1062.0,352.6 1063.0,352.7 1064.0,352.8 1065.0,352.9 1066.0,353.0 1067.0,353.1 1068.0,353.2 1069.0,353.3 1070.0,353.4 1071.0,353.5 1072.0,353.6 1073.0,353.7 1074.0,353.8 1075.0,353.9 1076.0,354.0 1077.0,354.1 1078.0,354.2 1079.0,354.2 1080.0,354.2 1081.0,354.3 1082.0,354.3 1083.0,354.3 1084.0,354.3 1085.0,354.3 1086.0,354.3 1087.0,354.4 1088.0,354.4 1089.0,354.4 1090.0,354.4 1091.0,354.4 1092.0,354.5 1093.0,354.5 1094.0,354.5" fill="none" stroke="#d2d2d2" stroke-width="1"/>
<polyline points="0.0,435.0 1.0,434.8 2.0,434.6 3.0,434.4 4.0,434.2 5.0,434.0 6.0,433.8 7.0,433.6 8.0,433.4 9.0,433.2 10.0,433.0 11.0,432.8 12.0,432.5 13.0,432.3 14.0,432.1 15.0,431.9 16.0,431.7 17.0,431.5 18.0,431.3 19.0,431.1 20.0,430.9 21.0,430.7 22.0,430.5 23.0,430.2 24.0,430.0 25.0,429.8 26.0,429.5 27.0,429.2 28.0,429.0 29.0,428.8 30.0,428.5 31.0,428.3 32.0,428.1 33.0,427.9 34.0,427.6 35.0,427.4 36.0,427.2 37.0,427.0 38.0,426.8 39.0,426.6 40.0,426.4 41.0,426.2 42.0,426.0 43.0,426.0 44.0,426.0 45.0,426.0 46.0,426.0 47.0,426.0 48.0,426.0 49.0,426.0 50.0,426.0 51.0,425.9 52.0,425.8 53.0,425.6 54.0,425.5 55.0,425.4 56.0,425.2 57.0,425.0 58.0,424.8 59.0,424.6 60.0,424.4 61.0,424.2 62.0,424.0 63.0,423.8 64.0,423.6 65.0,423.4 66.0,423.2 67.0,423.0 68.0,422.8 69.0,422.6 70.0,422.4 71.0,422.2 72.0,422.0 73.0,421.8 74.0,421.6 75.0,421.4 76.0,421.2 77.0,421.0 78.0,420.8 79.0,420.6 80.0,420.4 81.0,420.2 82.0,420.0 83.0,419.7 84.0,419.5 85.0,419.2 86.0,419.0 87.0,418.7 88.0,418.5 89.0,418.2 90.0,418.0 91.0,417.7 92.0,417.5 93.0,417.2 94.0,417.0 95.0,416.9 96.0,416.9 97.0,416.9 98.0,417.0 99.0,417.0 100.0,417.0 101.0,416.7 102.0,416.4 103.0,416.1 104.0,415.8 105.0,415.5 106.0,415.1 107.0,414.6 108.0,414.2 109.0,413.8 110.0,413.4 111.0,412.9 112.0,412.4 113.0,411.9 114.0,411.4 115.0,410.7 116.0,409.7 117.0,408.7 118.0,407.8 119.0,406.8 120.0,405.8 121.0,404.8 122.0,403.8 123.0,402.9 124.0,401.9 125.0,400.9 126.0,399.9 127.0,398.9 128.0,397.8 129.0,396.8 130.0,395.9 131.0,395.0 132.0,394.1 133.0,393.2 134.0,392.3 135.0,391.4 136.0,390.5 137.0,389.6 138.0,388.7 139.0,387.8 140.0,386.7 141.0,385.5 142.0,384.2 143.0,383.0 144.0,381.8 145.0,380.7 146.0,379.6 147.0,378.5 148.0,377.4 149.0,376.3 150.0,375.3 151.0,374.3 152.0,373.3 153.0,372.3 154.0,371.3 155.0,370.4 156.0,369.4 157.0,368.4 158.0,367.4 159.0,366.4 160.0,364.9 161.0,363.4 162.0,361.9 163.0,360.4 164.0,358.9 165.0,357.4 166.0,355.9 167.0,354.4 168.0,352.9 169.0,351.4 170.0,349.9 171.0,348.4 172.0,346.9 173.0,345.4 174.0,343.9 175.0,342.6 176.0,341.6 177.0,340.6 178.0,339.6 179.0,338.5 180.0,337.5 181.0,336.5 182.0,335.5 183.0,334.6 184.0,333.9 185.0,333.1 186.0,332.3 187.0,331.6 188.0,330.8 189.0,330.1 190.0,329.3 191.0,328.7 192.0,328.2 193.0,327.7 194.0,327.2 195.0,326.8 196.0,326.3 197.0,325.8 198.0,325.3 199.0,324.6 200.0,323.8 201.0,323.1 202.0,322.3 203.0,321.6 204.0,320.8 205.0,320.1 206.0,319.3 207.0,318.8 208.0,318.3 209.0,317.8 210.0,317.4 211.0,316.9 212.0,316.4 213.0,315.9 214.0,315.4 215.0,315.2 216.0,314.9 217.0,314.7 218.0,314.4 219.0,314.2 220.0,314.0 221.0,313.7 222.0,313.5 223.0,313.4 224.0,313.4 225.0,313.4 226.0,313.4 227.0,313.4 228.0,313.4 229.0,313.4 230.0,313.4 231.0,313.4 232.0,313.4 233.0,313.4 234.0,313.4 235.0,313.4 236.0,313.4 237.0,313.4 238.0,313.5 239.0,313.5 240.0,313.6 241.0,313.7 242.0,313.7 243.0,313.8 244.0,313.9 245.0,313.9 246.0,313.8 247.0,313.7 248.0,313.7 249.0,313.6 250.0,313.5 251.0,313.5 252.0,313.4 253.0,313.4 254.0,313.5 255.0,313.5 256.0,313.6 257.0,313.6 258.0,313.7 259.0,313.7 260.0,313.6 261.0,313.5 262.0,313.4 263.0,313.3 264.0,313.2 265.0,313.1 266.0,313.0 267.0,313.0 268.0,313.0 269.0,313.1 270.0,313.1 271.0,313.1 272.0,313.1 273.0,313.2 274.0,313.2 275.0,313.2 276.0,313.1 277.0,313.1 278.0,313.1 279.0,313.1 280.0,313.0 281.0,313.0 282.0,312.8 283.0,312.5 284.0,312.2 285.0,311.9 286.0,311.6 287.0,311.3 288.0,310.8 289.0,310.2 290.0,309.7 291.0,309.1 292.0,308.6 293.0,308.0 294.0,307.4 295.0,306.5 296.0,305.6 297.0,304.7 298.0,303.8 299.0,302.9 300.0,302.0 301.0,301.2 302.0,300.4 303.0,299.6 304.0,298.8 305.0,298.0 306.0,297.2 307.0,296.4 308.0,295.6 309.0,294.8 310.0,294.0 311.0,293.0 312.0,292.0 313.0,291.0 314.0,290.0 315.0,289.0 316.0,288.0 317.0,287.0 318.0,286.0 319.0,285.0 320.0,284.0 321.0,282.8 322.0,281.6 323.0,280.4 324.0,279.2 325.0,278.0 326.0,276.8 327.0,275.6 328.0,274.4 329.0,273.2 330.0,272.0 331.0,270.6 332.0,269.2 333.0,267.8 334.0,266.4 335.0,265.0 336.0,263.6 337.0,262.2 338.0,260.8 339.0,259.4 340.0,258.0 341.0,256.2 342.0,254.4 343.0,252.6 344.0,250.8 345.0,249.0 346.0,247.2 347.0,245.4 348.0,243.6 349.0,241.8 350.0,240.0 351.0,238.1 352.0,236.2 353.0,234.4 354.0,232.5 355.0,230.6 356.0,228.8 357.0,226.9 358.0,225.0 359.0,223.1 360.0,221.2 361.0,219.3 362.0,217.3 363.0,215.4 364.0,213.5 365.0,211.6 366.0,209.7 367.0,208.6 368.0,207.6 369.0,206.6 370.0,205.6 371.0,204.6 372.0,203.6 373.0,202.6 374.0,201.6 375.0,200.8 376.0,200.4 377.0,200.0 378.0,198.9 379.0,197.8 380.0,196.6 381.0,195.5 382.0,194.4 383.0,193.3 384.0,192.2 385.0,191.0 386.0,189.9 387.0,188.8 388.0,187.7 389.0,186.6 390.0,185.5 391.0,184.4 392.0,183.3 393.0,182.2 394.0,181.1 395.0,180.0 396.0,178.9 397.0,177.8 398.0,176.8 399.0,175.8 400.0,174.9 401.0,173.9 402.0,172.9 403.0,171.9 404.0,170.8 405.0,169.7 406.0,168.6 407.0,167.5 408.0,166.4 409.0,165.3 410.0,164.2 411.0,163.3 412.0,162.4 413.0,161.6 414.0,160.7 415.0,159.8 416.0,158.9 417.0,158.0 418.0,157.2 419.0,156.4 420.0,155.6 421.0,154.8 422.0,154.0 423.0,153.2 424.0,152.1 425.0,151.0 426.0,149.9 427.0,148.8 428.0,147.7 429.0,146.6 430.0,145.6 431.0,144.6 432.0,143.6 433.0,142.5 434.0,141.5 435.0,140.5 436.0,139.5 437.0,138.4 438.0,137.3 439.0,136.3 440.0,135.2 441.0,134.0 442.0,132.8 443.0,131.7 444.0,130.5 445.0,129.5 446.0,128.6 447.0,127.7 448.0,127.0 449.0,126.4 450.0,125.8 451.0,125.1 452.0,124.5 453.0,124.0 454.0,123.8 455.0,123.5 456.0,123.2 457.0,123.0 458.0,122.8 459.0,123.1 460.0,123.3 461.0,123.6 462.0,123.8 463.0,124.1 464.0,124.8 465.0,125.5 466.0,126.3 467.0,127.0 468.0,127.8 469.0,128.3 470.0,128.8 471.0,129.3 472.0,129.8 473.0,131.8 474.0,134.0 475.0,135.5 476.0,136.9 477.0,138.4 478.0,139.9 479.0,141.7 480.0,143.7 481.0,145.7 482.0,147.6 483.0,149.6 484.0,151.6 485.0,153.0 486.0,154.3 487.0,155.6 488.0,156.9 489.0,158.2 490.0,159.5 491.0,161.2 492.0,162.9 493.0,164.7 494.0,166.4 495.0,168.1 496.0,169.8 497.0,171.5 498.0,173.3 499.0,175.0 500.0,176.7 501.0,178.4 502.0,180.2 503.0,182.3 504.0,184.3 505.0,186.4 506.0,188.4 507.0,190.5 508.0,192.5 509.0,194.4 510.0,196.3 511.0,198.3 512.0,200.2 513.0,202.2 514.0,204.3 515.0,206.4 516.0,209.0 517.0,211.5 518.0,213.7 519.0,215.2 520.0,216.7 521.0,218.2 522.0,219.7 523.0,221.2 524.0,222.9 525.0,224.9 526.0,226.8 527.0,228.6 528.0,230.1 529.0,231.6 530.0,233.1 531.0,234.6 532.0,236.1 533.0,237.1 534.0,237.6 535.0,238.1 536.0,238.6 537.0,239.0 538.0,239.4 539.0,239.8 540.0,240.1 541.0,240.3 542.0,240.6 543.0,240.8 544.0,241.0 545.0,241.1 546.0,240.7 547.0,240.3 548.0,240.0 549.0,239.6 550.0,239.2 551.0,238.9 552.0,238.5 553.0,238.1 554.0,237.7 555.0,237.4 556.0,237.0 557.0,237.1 558.0,237.8 559.0,238.5 560.0,239.2 561.0,240.0 562.0,241.6 563.0,243.3 564.0,244.9 565.0,246.6 566.0,248.0 567.0,249.2 568.0,250.5 569.0,251.7 570.0,253.0 571.0,254.2 572.0,255.5 573.0,256.8 574.0,258.0 575.0,259.3 576.0,260.5 577.0,261.8 578.0,263.2 579.0,264.7 580.0,266.2 581.0,267.7 582.0,269.2 583.0,270.7 584.0,271.7 585.0,272.7 586.0,273.7 587.0,274.7 588.0,275.7 589.0,276.7 590.0,277.6 591.0,278.4 592.0,279.3 593.0,280.1 594.0,281.0 595.0,282.0 596.0,283.5 597.0,285.0 598.0,286.6 599.0,288.1 600.0,289.1 601.0,289.9 602.0,290.7 603.0,291.5 604.0,292.4 605.0,293.2 606.0,294.1 607.0,295.1 608.0,296.1 609.0,297.1 610.0,298.1 611.0,299.1 612.0,300.1 613.0,301.4 614.0,302.8 615.0,304.2 616.0,305.6 617.0,306.9 618.0,308.3 619.0,309.8 620.0,311.5 621.0,313.1 622.0,314.8 623.0,316.5 624.0,318.0 625.0,319.3 626.0,320.6 627.0,321.9 628.0,323.2 629.0,324.2 630.0,324.7 631.0,325.2 632.0,325.7 633.0,326.2 634.0,326.4 635.0,326.3 636.0,326.2 637.0,326.0 638.0,325.9 639.0,325.7 640.0,325.6 641.0,325.1 642.0,324.6 643.0,324.2 644.0,323.7 645.0,323.2 646.0,322.6 647.0,322.0 648.0,321.5 649.0,320.9 650.0,320.3 651.0,319.8 652.0,319.5 653.0,319.2 654.0,318.9 655.0,318.6 656.0,318.3 657.0,318.0 658.0,317.7 659.0,317.4 660.0,317.0 661.0,316.6 662.0,316.2 663.0,315.8 664.0,315.3 665.0,314.9 666.0,314.5 667.0,314.1 668.0,313.6 669.0,313.2 670.0,312.6 671.0,312.0 672.0,311.5 673.0,310.9 674.0,310.3 675.0,309.7 676.0,309.2 677.0,308.6 678.0,308.0 679.0,307.2 680.0,306.3 681.0,305.5 682.0,304.7 683.0,303.8 684.0,303.0 685.0,302.2 686.0,301.3 687.0,300.4 688.0,299.5 689.0,298.6 690.0,297.7 691.0,296.9 692.0,296.0 693.0,295.1 694.0,294.1 695.0,293.2 696.0,292.3 697.0,291.4 698.0,290.5 699.0,289.6 700.0,288.9 701.0,288.2 702.0,287.6 703.0,286.9 704.0,286.2 705.0,285.5 706.0,284.8 707.0,284.1 708.0,283.5 709.0,282.8 710.0,282.2 711.0,281.5 712.0,280.9 713.0,280.2 714.0,280.0 715.0,280.0 716.0,280.0 717.0,280.0 718.0,280.0 719.0,280.0 720.0,280.0 721.0,280.0 722.0,279.7 723.0,279.4 724.0,279.0 725.0,278.7 726.0,278.3 727.0,278.0 728.0,277.6 729.0,277.3 730.0,277.2 731.0,277.1 732.0,276.9 733.0,276.8 734.0,276.7 735.0,276.6 736.0,276.5 737.0,276.3 738.0,276.2 739.0,276.1 740.0,276.0 741.0,275.9 742.0,275.8 743.0,275.7 744.0,275.7 745.0,275.6 746.0,275.5 747.0,275.4 748.0,275.3 749.0,275.2 750.0,275.2 751.0,275.1 752.0,275.0 753.0,274.9 754.0,274.8 755.0,274.8 756.0,274.7 757.0,274.6 758.0,274.5 759.0,274.4 760.0,274.4 761.0,274.4 762.0,274.4 763.0,274.4 764.0,274.4 765.0,274.4 766.0,274.4 767.0,274.4 768.0,274.4 769.0,274.4 770.0,274.5 771.0,274.5 772.0,274.6 773.0,274.7 774.0,274.8 775.0,274.9 776.0,274.9 777.0,275.0 778.0,275.1 779.0,275.2 780.0,275.8 781.0,276.4 782.0,277.0 783.0,277.7 784.0,278.3 785.0,278.9 786.0,279.6 787.0,280.5 788.0,281.4 789.0,282.2 790.0,283.1 791.0,284.0 792.0,284.8 793.0,285.6 794.0,286.3 795.0,287.1 796.0,287.8 797.0,288.5 798.0,289.3 799.0,290.0 800.0,291.1 801.0,292.2 802.0,293.3 803.0,294.4 804.0,295.5 805.0,296.6 806.0,297.8 807.0,298.8 808.0,299.8 809.0,300.8 810.0,301.8 811.0,302.9 812.0,303.9 813.0,304.9 814.0,305.9 815.0,307.0 816.0,308.2 817.0,309.4 818.0,310.6 819.0,311.8 820.0,313.0 821.0,314.2 822.0,315.4 823.0,316.6 824.0,317.8 825.0,318.9 826.0,320.1 827.0,321.3 828.0,322.5 829.0,323.7 830.0,324.9 831.0,326.1 832.0,327.5 833.0,328.9 834.0,330.3 835.0,331.8 836.0,333.2 837.0,334.6 838.0,336.0 839.0,337.4 840.0,338.6 841.0,339.8 842.0,341.0 843.0,342.2 844.0,343.4 845.0,344.6 846.0,345.7 847.0,346.9 848.0,348.0 849.0,349.0 850.0,350.0 851.0,351.0 852.0,352.0 853.0,353.0 854.0,354.0 855.0,355.0 856.0,355.8 857.0,356.4 858.0,357.0 859.0,357.6 860.0,358.2 861.0,358.8 862.0,359.4 863.0,360.0 864.0,360.6 865.0,361.1 866.0,361.6 867.0,362.1 868.0,362.6 869.0,363.1 870.0,363.6 871.0,364.1 872.0,364.5 873.0,364.8 874.0,365.0 875.0,365.2 876.0,365.4 877.0,365.6 878.0,365.9 879.0,366.1 880.0,366.3 881.0,366.4 882.0,366.5 883.0,366.7 884.0,366.8 885.0,366.9 886.0,367.0 887.0,367.2 888.0,367.4 889.0,367.5 890.0,367.7 891.0,367.9 892.0,367.9 893.0,367.7 894.0,367.4 895.0,367.1 896.0,366.8 897.0,366.5 898.0,366.1 899.0,365.5 900.0,364.9 901.0,364.2 902.0,363.6 903.0,363.0 904.0,362.4 905.0,361.9 906.0,361.4 907.0,360.9 908.0,360.4 909.0,359.9 910.0,359.5 911.0,359.2 912.0,359.0 913.0,358.8 914.0,358.5 915.0,358.3 916.0,358.0 917.0,357.8 918.0,357.5 919.0,357.3 920.0,357.0 921.0,356.8 922.0,356.6 923.0,356.5 924.0,356.4 925.0,356.2 926.0,356.1 927.0,356.0 928.0,355.8 929.0,355.5 930.0,355.3 931.0,355.0 932.0,354.8 933.0,354.5 934.0,354.1 935.0,353.8 936.0,353.4 937.0,353.0 938.0,352.6 939.0,352.2 940.0,351.7 941.0,351.2 942.0,350.7 943.0,350.2 944.0,349.7 945.0,349.2 946.0,348.9 947.0,348.6 948.0,348.3 949.0,347.9 950.0,347.6 951.0,347.4 952.0,347.3 953.0,347.2 954.0,347.1 955.0,347.0 956.0,346.9 957.0,346.7 958.0,346.5 959.0,346.4 960.0,346.2 961.0,346.0 962.0,345.8 963.0,345.6 964.0,345.5 965.0,345.4 966.0,345.2 967.0,345.1 968.0,345.0 969.0,344.8 970.0,344.7 971.0,344.5 972.0,344.4 973.0,344.2 974.0,344.1 975.0,343.9 976.0,344.0 977.0,344.1 978.0,344.2 979.0,344.4 980.0,344.5 981.0,344.6 982.0,344.7 983.0,344.8 984.0,344.9 985.0,345.2 986.0,345.4 987.0,345.7 988.0,345.9 989.0,346.2 990.0,346.4 991.0,346.7 992.0,346.9 993.0,347.2 994.0,347.3 995.0,347.5 996.0,347.7 997.0,347.8 998.0,348.0 999.0,348.2 1000.0,348.3 1001.0,348.5 1002.0,348.8 1003.0,349.1 1004.0,349.4 1005.0,349.8 1006.0,350.1 1007.0,350.4 1008.0,350.7 1009.0,351.1 1010.0,351.4 1011.0,351.6 1012.0,351.8 1013.0,352.0 1014.0,352.1 1015.0,352.3 1016.0,352.5 1017.0,352.6 1018.0,352.8 1019.0,353.0 1020.0,353.5 1021.0,354.1 1022.0,354.7 1023.0,355.2 1024.0,355.8 1025.0,356.4 1026.0,357.0 1027.0,357.6 1028.0,358.2 1029.0,358.2 1030.0,358.2 1031.0,358.2 1032.0,358.2 1033.0,358.2 1034.0,358.2 1035.0,358.2 1036.0,358.2 1037.0,358.2 1038.0,358.2 1039.0,358.2 1040.0,358.2 1041.0,358.2 1042.0,358.2 1043.0,358.2 1044.0,358.2 1045.0,358.2 1046.0,358.2 1047.0,358.4 1048.0,358.6 1049.0,358.7 1050.0,358.9 1051.0,359.0 1052.0,359.2 1053.0,359.4 1054.0,359.5 1055.0,359.6 1056.0,359.7 1057.0,359.8 1058.0,359.9 1059.0,360.0 1060.0,360.1 1061.0,360.2 1062.0,360.3 1063.0,360.4 1064.0,360.3 1065.0,360.3 1066.0,360.2 1067.0,360.1 1068.0,360.0 1069.0,359.9 1070.0,359.8 1071.0,359.7 1072.0,359.6 1073.0,359.4 1074.0,359.2 1075.0,358.9 1076.0,358.7 1077.0,358.4 1078.0,358.1 1079.0,357.9 1080.0,357.6 1081.0,357.4 1082.0,357.2 1083.0,357.0 1084.0,356.8 1085.0,356.6 1086.0,356.4 1087.0,356.2 1088.0,356.0 1089.0,355.8 1090.0,355.6 1091.0,355.4 1092.0,355.2 1093.0,355.1 1094.0,354.9" fill="none" stroke="#00ff00" stroke-width="1"/>
<polyline points="0.0,433.8 1.0,433.5 2.0,433.2 3.0,432.9 4.0,432.6 5.0,432.3 6.0,432.0 7.0,431.7 8.0,431.4 9.0,431.1 10.0,430.8 11.0,430.4 12.0,430.1 13.0,429.8 14.0,429.5 15.0,429.0 16.0,428.5 17.0,428.0 18.0,427.8 19.0,427.5 20.0,427.2 21.0,427.0 22.0,426.8 23.0,426.5 24.0,426.4 25.0,426.3 26.0,426.2 27.0,426.0 28.0,425.9 29.0,425.8 30.0,425.7 31.0,425.6 32.0,425.6 33.0,425.6 34.0,425.5 35.0,425.4 36.0,425.4 37.0,425.4 38.0,425.3 39.0,425.2 40.0,425.2 41.0,425.1 42.0,425.1 43.0,425.1 44.0,425.0 45.0,424.9 46.0,424.8 47.0,424.8 48.0,424.7 49.0,424.6 50.0,424.5 51.0,424.4 52.0,424.3 53.0,424.3 54.0,424.2 55.0,424.1 56.0,424.0 57.0,423.9 58.0,423.8 59.0,423.7 60.0,423.6 61.0,423.5 62.0,423.4 63.0,423.3 64.0,423.2 65.0,423.1 66.0,423.0 67.0,422.9 68.0,422.8 69.0,422.6 70.0,422.3 71.0,422.1 72.0,421.8 73.0,421.6 74.0,421.4 75.0,421.1 76.0,420.9 77.0,420.6 78.0,420.4 79.0,420.1 80.0,419.9 81.0,419.6 82.0,419.3 83.0,419.0 84.0,418.6 85.0,418.3 86.0,417.9 87.0,417.6 88.0,417.2 89.0,416.9 90.0,416.5 91.0,416.2 92.0,415.8 93.0,415.5 94.0,415.1 95.0,414.8 96.0,414.6 97.0,414.3 98.0,414.0 99.0,413.8 100.0,413.5 101.0,412.9 102.0,412.2 103.0,411.6 104.0,410.9 105.0,410.3 106.0,409.6 107.0,409.0 108.0,408.4 109.0,407.7 110.0,407.1 111.0,406.3 112.0,405.6 113.0,404.9 114.0,404.2 115.0,403.4 116.0,402.5 117.0,401.6 118.0,400.7 119.0,399.8 120.0,398.7 121.0,397.4 122.0,396.0 123.0,394.6 124.0,393.2 125.0,392.0 126.0,390.9 127.0,389.8 128.0,388.7 129.0,387.6 130.0,386.4 131.0,385.3 132.0,384.2 133.0,383.1 134.0,382.0 135.0,380.9 136.0,379.8 137.0,378.7 138.0,377.6 139.0,376.5 140.0,375.0 141.0,373.3 142.0,371.6 143.0,369.9 144.0,368.2 145.0,366.8 146.0,365.4 147.0,364.0 148.0,362.5 149.0,361.1 150.0,359.9 151.0,358.7 152.0,357.4 153.0,356.2 154.0,355.0 155.0,353.7 156.0,352.5 157.0,351.3 158.0,350.0 159.0,348.8 160.0,347.5 161.0,346.3 162.0,345.0 163.0,343.8 164.0,342.5 165.0,341.3 166.0,340.0 167.0,338.8 168.0,337.6 169.0,336.5 170.0,335.4 171.0,334.2 172.0,333.1 173.0,331.9 174.0,330.8 175.0,329.7 176.0,328.9 177.0,328.0 178.0,327.1 179.0,326.3 180.0,325.4 181.0,324.5 182.0,323.6 183.0,322.9 184.0,322.3 185.0,321.6 186.0,321.0 187.0,320.4 188.0,319.8 189.0,319.2 190.0,318.5 191.0,318.1 192.0,317.7 193.0,317.3 194.0,317.0 195.0,316.6 196.0,316.2 197.0,315.8 198.0,315.5 199.0,315.0 200.0,314.5 201.0,314.0 202.0,313.5 203.0,312.9 204.0,312.4 205.0,311.9 206.0,311.4 207.0,310.8 208.0,310.2 209.0,309.6 210.0,308.9 211.0,308.3 212.0,307.7 213.0,307.1 214.0,306.5 215.0,306.9 216.0,307.2 217.0,307.6 218.0,307.9 219.0,308.3 220.0,308.6 221.0,309.0 222.0,309.5 223.0,310.0 224.0,310.6 225.0,311.1 226.0,311.6 227.0,312.1 228.0,312.4 229.0,312.7 230.0,313.0 231.0,313.3 232.0,313.6 233.0,313.9 234.0,314.2 235.0,314.2 236.0,314.2 237.0,314.2 238.0,314.2 239.0,314.2 240.0,314.2 241.0,314.5 242.0,314.9 243.0,315.2 244.0,315.5 245.0,315.8 246.0,315.9 247.0,316.0 248.0,316.1 249.0,316.2 250.0,316.4 251.0,316.5 252.0,316.6 253.0,316.7 254.0,316.8 255.0,316.9 256.0,317.0 257.0,317.1 258.0,317.3 259.0,317.4 260.0,317.6 261.0,317.7 262.0,317.9 263.0,317.9 264.0,317.9 265.0,317.9 266.0,317.9 267.0,317.9 268.0,317.9 269.0,317.5 270.0,317.2 271.0,316.8 272.0,316.4 273.0,316.1 274.0,315.7 275.0,315.1 276.0,314.4 277.0,313.8 278.0,313.1 279.0,312.5 280.0,311.8 281.0,311.0 282.0,310.1 283.0,309.3 284.0,308.5 285.0,307.5 286.0,306.5 287.0,305.5 288.0,304.5 289.0,303.5 290.0,302.5 291.0,301.5 292.0,300.5 293.0,299.5 294.0,298.5 295.0,297.6 296.0,296.7 297.0,295.8 298.0,294.8 299.0,293.9 300.0,293.0 301.0,292.0 302.0,291.0 303.0,290.0 304.0,289.0 305.0,288.0 306.0,287.0 307.0,286.0 308.0,285.0 309.0,284.0 310.0,283.0 311.0,281.9 312.0,280.8 313.0,279.7 314.0,278.6 315.0,277.5 316.0,276.4 317.0,275.3 318.0,274.2 319.0,273.1 320.0,272.0 321.0,270.7 322.0,269.4 323.0,268.1 324.0,266.8 325.0,265.5 326.0,264.2 327.0,262.9 328.0,261.6 329.0,260.3 330.0,259.0 331.0,257.6 332.0,256.2 333.0,254.8 334.0,253.4 335.0,252.0 336.0,250.6 337.0,249.2 338.0,247.8 339.0,246.4 340.0,245.0 341.0,243.3 342.0,241.6 343.0,239.9 344.0,238.2 345.0,236.5 346.0,234.8 347.0,233.1 348.0,231.4 349.0,229.7 350.0,228.0 351.0,225.8 352.0,223.5 353.0,221.2 354.0,219.0 355.0,216.8 356.0,214.5 357.0,212.2 358.0,210.0 359.0,207.4 360.0,204.8 361.0,202.2 362.0,199.6 363.0,197.1 364.0,194.5 365.0,191.9 366.0,189.3 367.0,187.7 368.0,187.1 369.0,186.5 370.0,185.9 371.0,185.3 372.0,184.8 373.0,184.2 374.0,183.5 375.0,182.8 376.0,182.1 377.0,181.4 378.0,180.7 379.0,180.0 380.0,179.4 381.0,178.8 382.0,178.1 383.0,177.5 384.0,176.9 385.0,176.3 386.0,175.7 387.0,175.4 388.0,175.2 389.0,175.0 390.0,174.8 391.0,174.6 392.0,174.4 393.0,174.2 394.0,173.7 395.0,173.2 396.0,172.7 397.0,172.2 398.0,171.7 399.0,171.2 400.0,170.3 401.0,169.3 402.0,168.3 403.0,167.3 404.0,166.3 405.0,165.3 406.0,164.4 407.0,163.8 408.0,163.2 409.0,162.6 410.0,162.0 411.0,161.4 412.0,160.8 413.0,160.0 414.0,159.0 415.0,157.9 416.0,156.9 417.0,155.2 418.0,153.2 419.0,151.2 420.0,149.2 421.0,147.2 422.0,145.3 423.0,143.5 424.0,141.7 425.0,139.8 426.0,138.0 427.0,136.2 428.0,134.4 429.0,132.8 430.0,131.2 431.0,129.3 432.0,127.3 433.0,125.4 434.0,123.4 435.0,121.4 436.0,119.4 437.0,117.6 438.0,115.7 439.0,113.8 440.0,111.9 441.0,110.2 442.0,109.0 443.0,107.8 444.0,106.6 445.0,105.6 446.0,105.0 447.0,104.4 448.0,103.8 449.0,104.4 450.0,105.0 451.0,105.6 452.0,106.3 453.0,106.9 454.0,107.6 455.0,108.3 456.0,109.1 457.0,109.9 458.0,110.8 459.0,111.6 460.0,112.7 461.0,113.9 462.0,115.0 463.0,116.2 464.0,117.8 465.0,119.5 466.0,121.1 467.0,122.8 468.0,124.8 469.0,126.9 470.0,128.9 471.0,131.2 472.0,135.8 473.0,140.5 474.0,145.0 475.0,148.4 476.0,151.8 477.0,155.1 478.0,158.5 479.0,161.6 480.0,164.6 481.0,167.6 482.0,170.6 483.0,173.5 484.0,176.2 485.0,178.9 486.0,181.5 487.0,184.2 488.0,186.6 489.0,188.9 490.0,191.3 491.0,193.6 492.0,196.5 493.0,199.9 494.0,203.4 495.0,206.4 496.0,208.9 497.0,211.5 498.0,213.7 499.0,215.6 500.0,217.6 501.0,219.5 502.0,221.3 503.0,223.1 504.0,224.9 505.0,226.1 506.0,226.8 507.0,227.4 508.0,228.1 509.0,228.8 510.0,229.2 511.0,229.8 512.0,230.3 513.0,230.8 514.0,231.7 515.0,232.9 516.0,234.0 517.0,235.2 518.0,236.2 519.0,236.7 520.0,237.2 521.0,237.7 522.0,238.2 523.0,238.4 524.0,238.6 525.0,238.7 526.0,238.9 527.0,239.0 528.0,238.8 529.0,238.7 530.0,238.6 531.0,238.5 532.0,238.4 533.0,238.4 534.0,238.5 535.0,238.6 536.0,238.7 537.0,238.8 538.0,238.9 539.0,239.0 540.0,238.9 541.0,238.9 542.0,238.9 543.0,238.8 544.0,238.8 545.0,238.7 546.0,238.7 547.0,238.6 548.0,238.6 549.0,238.7 550.0,238.8 551.0,238.8 552.0,238.9 553.0,239.0 554.0,239.5 555.0,240.7 556.0,241.8 557.0,243.0 558.0,244.2 559.0,245.7 560.0,247.2 561.0,248.7 562.0,250.2 563.0,251.9 564.0,253.7 565.0,255.6 566.0,257.4 567.0,259.2 568.0,260.5 569.0,261.9 570.0,263.2 571.0,264.5 572.0,265.8 573.0,267.0 574.0,268.3 575.0,269.5 576.0,270.5 577.0,271.4 578.0,272.8 579.0,274.3 580.0,275.8 581.0,277.3 582.0,278.8 583.0,280.5 584.0,282.1 585.0,283.8 586.0,285.4 587.0,287.2 588.0,289.0 589.0,290.8 590.0,292.7 591.0,294.7 592.0,296.7 593.0,298.7 594.0,300.7 595.0,303.1 596.0,305.6 597.0,308.1 598.0,310.6 599.0,313.1 600.0,315.7 601.0,318.0 602.0,319.6 603.0,321.3 604.0,323.0 605.0,324.6 606.0,325.7 607.0,326.1 608.0,326.4 609.0,326.8 610.0,327.1 611.0,327.2 612.0,327.1 613.0,326.9 614.0,326.7 615.0,326.6 616.0,326.6 617.0,326.8 618.0,326.9 619.0,327.1 620.0,327.3 621.0,327.4 622.0,327.6 623.0,327.6 624.0,327.6 625.0,327.6 626.0,327.6 627.0,327.6 628.0,327.6 629.0,327.5 630.0,327.4 631.0,327.2 632.0,327.0 633.0,326.9 634.0,326.7 635.0,326.5 636.0,326.2 637.0,325.8 638.0,325.4 639.0,325.0 640.0,324.6 641.0,324.3 642.0,323.8 643.0,323.1 644.0,322.4 645.0,321.7 646.0,321.0 647.0,320.4 648.0,319.7 649.0,319.0 650.0,318.3 651.0,317.5 652.0,316.7 653.0,315.9 654.0,315.0 655.0,314.2 656.0,313.4 657.0,312.6 658.0,312.0 659.0,311.3 660.0,310.7 661.0,310.1 662.0,309.4 663.0,308.8 664.0,308.2 665.0,307.6 666.0,306.9 667.0,306.1 668.0,305.3 669.0,304.4 670.0,303.6 671.0,302.7 672.0,301.9 673.0,301.0 674.0,300.2 675.0,299.2 676.0,298.2 677.0,297.2 678.0,296.3 679.0,295.3 680.0,294.3 681.0,293.3 682.0,292.3 683.0,291.6 684.0,290.8 685.0,290.1 686.0,289.3 687.0,288.5 688.0,287.8 689.0,287.0 690.0,286.3 691.0,285.6 692.0,285.0 693.0,284.3 694.0,283.6 695.0,282.9 696.0,282.3 697.0,281.6 698.0,281.0 699.0,280.6 700.0,280.2 701.0,279.8 702.0,279.4 703.0,279.0 704.0,278.6 705.0,278.2 706.0,277.7 707.0,277.2 708.0,276.7 709.0,276.2 710.0,275.7 711.0,275.2 712.0,274.7 713.0,274.2 714.0,273.8 715.0,273.6 716.0,273.4 717.0,273.1 718.0,272.9 719.0,272.6 720.0,272.4 721.0,272.1 722.0,272.0 723.0,271.8 724.0,271.6 725.0,271.5 726.0,271.3 727.0,271.1 728.0,271.0 729.0,270.8 730.0,270.9 731.0,271.0 732.0,271.1 733.0,271.3 734.0,271.4 735.0,271.7 736.0,272.0 737.0,272.3 738.0,272.6 739.0,272.9 740.0,273.2 741.0,273.6 742.0,273.9 743.0,274.2 744.0,274.5 745.0,274.8 746.0,275.1 747.0,275.4 748.0,275.7 749.0,276.0 750.0,276.3 751.0,276.6 752.0,276.9 753.0,277.2 754.0,277.5 755.0,277.6 756.0,277.5 757.0,277.4 758.0,277.3 759.0,277.2 760.0,277.1 761.0,277.0 762.0,276.9 763.0,276.7 764.0,276.5 765.0,276.4 766.0,276.2 767.0,276.0 768.0,275.8 769.0,275.6 770.0,275.4 771.0,275.2 772.0,275.3 773.0,275.4 774.0,275.5 775.0,275.6 776.0,275.7 777.0,275.8 778.0,275.9 779.0,276.0 780.0,276.6 781.0,277.2 782.0,277.8 783.0,278.5 784.0,279.1 785.0,279.7 786.0,280.6 787.0,282.0 788.0,283.3 789.0,284.7 790.0,286.0 791.0,286.9 792.0,287.8 793.0,288.8 794.0,289.7 795.0,290.6 796.0,292.1 797.0,293.5 798.0,294.9 799.0,296.3 800.0,297.7 801.0,299.1 802.0,300.6 803.0,302.1 804.0,303.6 805.0,305.1 806.0,306.6 807.0,308.1 808.0,309.6 809.0,311.4 810.0,313.1 811.0,314.9 812.0,316.7 813.0,318.4 814.0,320.2 815.0,322.0 816.0,323.7 817.0,325.5 818.0,327.2 819.0,328.9 820.0,330.7 821.0,332.4 822.0,334.6 823.0,336.9 824.0,339.2 825.0,341.4 826.0,343.7 827.0,345.9 828.0,347.9 829.0,349.4 830.0,350.9 831.0,352.3 832.0,353.8 833.0,355.3 834.0,356.8 835.0,357.8 836.0,358.7 837.0,359.6 838.0,360.4 839.0,361.3 840.0,362.2 841.0,362.9 842.0,363.3 843.0,363.7 844.0,364.1 845.0,364.4 846.0,364.8 847.0,365.2 848.0,365.4 849.0,365.5 850.0,365.6 851.0,365.7 852.0,365.8 853.0,365.9 854.0,366.0 855.0,366.1 856.0,366.3 857.0,366.6 858.0,366.9 859.0,367.2 860.0,367.5 861.0,367.8 862.0,368.1 863.0,368.4 864.0,368.6 865.0,368.6 866.0,368.6 867.0,368.6 868.0,368.6 869.0,368.6 870.0,368.6 871.0,368.6 872.0,368.5 873.0,368.1 874.0,367.8 875.0,367.4 876.0,367.0 877.0,366.6 878.0,366.3 879.0,366.0 880.0,365.8 881.0,365.7 882.0,365.5 883.0,365.3 884.0,365.2 885.0,365.0 886.0,364.9 887.0,364.7 888.0,364.6 889.0,364.5 890.0,364.3 891.0,364.2 892.0,364.1 893.0,363.9 894.0,363.8 895.0,363.7 896.0,363.5 897.0,363.4 898.0,363.2 899.0,363.0 900.0,362.8 901.0,362.5 902.0,362.3 903.0,362.0 904.0,361.7 905.0,361.4 906.0,361.0 907.0,360.6 908.0,360.2 909.0,359.8 910.0,359.4 911.0,358.9 912.0,358.4 913.0,357.8 914.0,357.3 915.0,356.8 916.0,356.4 917.0,355.9 918.0,355.4 919.0,354.9 920.0,354.4 921.0,353.9 922.0,353.5 923.0,353.1 924.0,352.7 925.0,352.3 926.0,351.9 927.0,351.5 928.0,351.2 929.0,350.8 930.0,350.4 931.0,350.0 932.0,349.7 933.0,349.3 934.0,348.9 935.0,348.6 936.0,348.2 937.0,347.8 938.0,347.4 939.0,347.1 940.0,346.6 941.0,346.1 942.0,345.6 943.0,345.1 944.0,344.6 945.0,344.1 946.0,343.8 947.0,343.4 948.0,343.1 949.0,342.8 950.0,342.7 951.0,342.7 952.0,342.7 953.0,342.7 954.0,342.7 955.0,342.7 956.0,342.7 957.0,342.7 958.0,342.7 959.0,342.7 960.0,342.7 961.0,342.7 962.0,342.7 963.0,342.7 964.0,342.7 965.0,342.7 966.0,342.7 967.0,342.8 968.0,342.8 969.0,342.8 970.0,342.9 971.0,342.9 972.0,342.9 973.0,343.0 974.0,343.0 975.0,343.1 976.0,343.2 977.0,343.3 978.0,343.5 979.0,343.6 980.0,343.7 981.0,343.8 982.0,344.0 983.0,344.1 984.0,344.3 985.0,344.9 986.0,345.5 987.0,346.0 988.0,346.6 989.0,347.2 990.0,347.8 991.0,348.3 992.0,348.9 993.0,349.5 994.0,350.1 995.0,350.7 996.0,351.2 997.0,351.8 998.0,352.4 999.0,353.0 1000.0,353.6 1001.0,354.2 1002.0,354.7 1003.0,355.0 1004.0,355.3 1005.0,355.7 1006.0,356.0 1007.0,356.3 1008.0,356.6 1009.0,357.0 1010.0,357.3 1011.0,357.6 1012.0,357.8 1013.0,358.1 1014.0,358.3 1015.0,358.6 1016.0,358.8 1017.0,359.1 1018.0,359.3 1019.0,359.6 1020.0,359.9 1021.0,360.2 1022.0,360.6 1023.0,360.9 1024.0,361.2 1025.0,361.6 1026.0,361.9 1027.0,362.3 1028.0,362.6 1029.0,362.4 1030.0,362.3 1031.0,362.1 1032.0,361.9 1033.0,361.8 1034.0,361.6 1035.0,361.4 1036.0,361.3 1037.0,361.1 1038.0,361.0 1039.0,360.9 1040.0,360.9 1041.0,360.8 1042.0,360.7 1043.0,360.6 1044.0,360.5 1045.0,360.5 1046.0,360.3 1047.0,360.2 1048.0,360.0 1049.0,359.8 1050.0,359.7 1051.0,359.5 1052.0,359.3 1053.0,359.2 1054.0,359.0 1055.0,358.9 1056.0,358.8 1057.0,358.7 1058.0,358.6 1059.0,358.5 1060.0,358.5 1061.0,358.4 1062.0,358.3 1063.0,358.2 1064.0,358.1 1065.0,357.9 1066.0,357.8 1067.0,357.6 1068.0,357.4 1069.0,357.2 1070.0,357.1 1071.0,356.9 1072.0,356.7 1073.0,356.6 1074.0,356.5 1075.0,356.4 1076.0,356.3 1077.0,356.2 1078.0,356.0 1079.0,355.9 1080.0,355.8 1081.0,355.7 1082.0,355.6 1083.0,355.4 1084.0,355.3 1085.0,355.1 1086.0,355.0 1087.0,354.8 1088.0,354.7 1089.0,354.6 1090.0,354.4 1091.0,354.3 1092.0,354.1 1093.0,354.0 1094.0,353.8" fill="none" stroke="#ff00ff" stroke-width="1"/>
<polyline points="0.0,429.5 1.0,429.4 2.0,429.3 3.0,429.2 4.0,429.1 5.0,429.0 6.0,428.9 7.0,428.8 8.0,428.7 9.0,428.6 10.0,428.5 11.0,428.2 12.0,427.9 13.0,427.6 14.0,427.4 15.0,427.1 16.0,426.8 17.0,426.5 18.0,426.2 19.0,426.0 20.0,425.8 21.0,425.5 22.0,425.2 23.0,425.0 24.0,424.8 25.0,424.5 26.0,424.3 27.0,424.1 28.0,423.8 29.0,423.6 30.0,423.6 31.0,423.6 32.0,423.6 33.0,423.6 34.0,423.6 35.0,423.6 36.0,423.6 37.0,423.6 38.0,423.6 39.0,423.6 40.0,423.6 41.0,423.6 42.0,423.6 43.0,423.6 44.0,424.1 45.0,424.5 46.0,424.8 47.0,425.1 48.0,425.4 49.0,425.6 50.0,425.9 51.0,426.2 52.0,426.5 53.0,427.0 54.0,427.5 55.0,428.0 56.0,427.4 57.0,426.8 58.0,426.2 59.0,425.6 60.0,425.0 61.0,424.4 62.0,423.9 63.0,423.5 64.0,423.1 65.0,422.7 66.0,422.3 67.0,421.9 68.0,421.5 69.0,420.8 70.0,420.0 71.0,419.2 72.0,418.4 73.0,417.6 74.0,416.8 75.0,416.1 76.0,415.6 77.0,415.1 78.0,414.6 79.0,414.1 80.0,413.6 81.0,413.1 82.0,412.8 83.0,412.4 84.0,412.1 85.0,411.8 86.0,411.5 87.0,411.2 88.0,411.0 89.0,410.9 90.0,410.8 91.0,410.7 92.0,410.6 93.0,410.5 94.0,410.4 95.0,410.2 96.0,410.0 97.0,409.8 98.0,409.6 99.0,409.3 100.0,409.1 101.0,408.5 102.0,407.9 103.0,407.3 104.0,406.7 105.0,406.1 106.0,405.4 107.0,404.7 108.0,404.0 109.0,403.3 110.0,402.5 111.0,401.3 112.0,400.2 113.0,399.0 114.0,397.3 115.0,395.6 116.0,393.8 117.0,391.8 118.0,389.7 119.0,387.7 120.0,385.6 121.0,383.4 122.0,381.2 123.0,379.0 124.0,376.9 125.0,374.9 126.0,372.8 127.0,371.0 128.0,369.4 129.0,367.8 130.0,366.2 131.0,364.7 132.0,363.3 133.0,361.9 134.0,360.6 135.0,359.2 136.0,358.0 137.0,356.7 138.0,355.4 139.0,354.1 140.0,352.9 141.0,351.6 142.0,350.3 143.0,349.1 144.0,348.2 145.0,347.4 146.0,346.7 147.0,345.9 148.0,345.2 149.0,344.4 150.0,343.7 151.0,342.9 152.0,342.4 153.0,341.9 154.0,341.5 155.0,341.0 156.0,340.2 157.0,339.5 158.0,338.7 159.0,338.0 160.0,337.2 161.0,336.4 162.0,335.7 163.0,334.9 164.0,333.6 165.0,332.4 166.0,331.1 167.0,329.8 168.0,328.6 169.0,327.3 170.0,326.1 171.0,324.8 172.0,323.3 173.0,321.8 174.0,320.3 175.0,318.8 176.0,317.3 177.0,315.8 178.0,314.3 179.0,313.1 180.0,312.2 181.0,311.4 182.0,310.6 183.0,309.7 184.0,308.9 185.0,308.3 186.0,307.9 187.0,307.5 188.0,307.2 189.0,306.8 190.0,306.4 191.0,306.0 192.0,305.6 193.0,306.1 194.0,306.9 195.0,307.8 196.0,308.6 197.0,309.5 198.0,310.3 199.0,310.4 200.0,310.3 201.0,310.1 202.0,310.0 203.0,309.9 204.0,309.8 205.0,309.6 206.0,309.5 207.0,308.8 208.0,308.2 209.0,307.5 210.0,306.8 211.0,306.2 212.0,305.5 213.0,305.2 214.0,304.9 215.0,304.6 216.0,305.3 217.0,306.1 218.0,306.8 219.0,307.5 220.0,308.3 221.0,309.0 222.0,309.9 223.0,310.8 224.0,311.7 225.0,312.6 226.0,313.5 227.0,314.4 228.0,315.5 229.0,316.7 230.0,317.8 231.0,318.9 232.0,320.0 233.0,321.1 234.0,321.9 235.0,322.8 236.0,323.7 237.0,324.6 238.0,325.5 239.0,325.9 240.0,325.6 241.0,325.4 242.0,325.1 243.0,324.9 244.0,324.6 245.0,324.3 246.0,323.9 247.0,323.6 248.0,323.2 249.0,322.8 250.0,322.4 251.0,321.7 252.0,320.9 253.0,320.1 254.0,319.3 255.0,318.4 256.0,317.4 257.0,316.4 258.0,315.4 259.0,314.4 260.0,313.8 261.0,313.3 262.0,312.8 263.0,312.3 264.0,311.8 265.0,311.3 266.0,310.8 267.0,310.3 268.0,309.8 269.0,309.7 270.0,309.5 271.0,309.4 272.0,309.3 273.0,309.1 274.0,309.0 275.0,308.3 276.0,307.6 277.0,306.9 278.0,306.2 279.0,305.9 280.0,305.7 281.0,305.6 282.0,305.4 283.0,305.0 284.0,304.1 285.0,303.1 286.0,302.1 287.0,301.2 288.0,299.3 289.0,297.1 290.0,295.0 291.0,292.9 292.0,290.8 293.0,288.7 294.0,286.8 295.0,285.6 296.0,284.5 297.0,283.4 298.0,282.3 299.0,281.1 300.0,280.0 301.0,278.8 302.0,277.7 303.0,276.5 304.0,275.3 305.0,274.2 306.0,273.0 307.0,271.7 308.0,270.3 309.0,269.0 310.0,267.7 311.0,266.3 312.0,265.0 313.0,263.8 314.0,262.7 315.0,261.5 316.0,260.3 317.0,259.2 318.0,258.0 319.0,256.8 320.0,255.7 321.0,254.5 322.0,253.3 323.0,252.2 324.0,251.0 325.0,249.7 326.0,248.3 327.0,247.0 328.0,245.7 329.0,244.3 330.0,243.0 331.0,241.7 332.0,240.3 333.0,239.0 334.0,237.7 335.0,236.3 336.0,235.0 337.0,233.5 338.0,232.0 339.0,230.5 340.0,229.0 341.0,227.5 342.0,226.0 343.0,224.3 344.0,222.7 345.0,221.0 346.0,219.3 347.0,217.7 348.0,216.0 349.0,213.8 350.0,211.7 351.0,209.5 352.0,207.3 353.0,205.2 354.0,203.0 355.0,200.3 356.0,197.7 357.0,195.0 358.0,192.3 359.0,189.7 360.0,187.0 361.0,183.8 362.0,180.7 363.0,177.5 364.0,174.4 365.0,171.2 366.0,168.1 367.0,167.0 368.0,168.0 369.0,169.0 370.0,169.9 371.0,170.9 372.0,171.8 373.0,172.2 374.0,172.5 375.0,172.9 376.0,173.3 377.0,173.7 378.0,174.3 379.0,174.9 380.0,175.6 381.0,176.2 382.0,176.8 383.0,177.3 384.0,177.8 385.0,178.3 386.0,178.8 387.0,179.3 388.0,179.8 389.0,180.3 390.0,180.8 391.0,180.4 392.0,179.9 393.0,179.4 394.0,178.9 395.0,177.3 396.0,175.7 397.0,174.0 398.0,172.4 399.0,170.0 400.0,167.7 401.0,165.3 402.0,162.9 403.0,160.2 404.0,157.4 405.0,154.6 406.0,151.8 407.0,149.1 408.0,147.5 409.0,146.1 410.0,144.7 411.0,143.3 412.0,141.8 413.0,140.4 414.0,137.4 415.0,133.8 416.0,130.1 417.0,126.5 418.0,124.0 419.0,122.0 420.0,120.0 421.0,118.0 422.0,116.2 423.0,114.6 424.0,112.9 425.0,111.2 426.0,110.0 427.0,108.8 428.0,107.7 429.0,106.5 430.0,105.3 431.0,104.2 432.0,103.1 433.0,101.9 434.0,98.9 435.0,95.8 436.0,93.3 437.0,91.6 438.0,89.8 439.0,89.1 440.0,88.5 441.0,88.1 442.0,87.9 443.0,87.7 444.0,87.5 445.0,88.6 446.0,89.7 447.0,90.9 448.0,92.6 449.0,94.6 450.0,96.6 451.0,99.6 452.0,102.7 453.0,105.5 454.0,108.0 455.0,110.5 456.0,113.4 457.0,116.5 458.0,119.7 459.0,123.7 460.0,127.8 461.0,132.6 462.0,137.9 463.0,141.8 464.0,144.7 465.0,147.7 466.0,151.9 467.0,156.2 468.0,160.4 469.0,164.7 470.0,168.8 471.0,172.8 472.0,176.9 473.0,180.9 474.0,185.1 475.0,190.6 476.0,196.2 477.0,202.0 478.0,208.7 479.0,215.4 480.0,220.5 481.0,225.5 482.0,230.4 483.0,233.1 484.0,234.4 485.0,235.6 486.0,236.7 487.0,237.7 488.0,238.7 489.0,240.3 490.0,242.0 491.0,243.8 492.0,244.6 493.0,245.1 494.0,245.6 495.0,244.9 496.0,243.8 497.0,242.8 498.0,241.4 499.0,239.9 500.0,238.4 501.0,236.9 502.0,235.4 503.0,233.9 504.0,231.9 505.0,230.0 506.0,228.0 507.0,226.8 508.0,225.6 509.0,224.5 510.0,223.3 511.0,223.6 512.0,224.8 513.0,226.1 514.0,227.2 515.0,228.2 516.0,229.2 517.0,229.5 518.0,229.5 519.0,229.5 520.0,231.0 521.0,233.0 522.0,234.9 523.0,236.9 524.0,239.0 525.0,241.0 526.0,242.1 527.0,243.1 528.0,244.1 529.0,245.1 530.0,246.1 531.0,247.1 532.0,249.6 533.0,252.0 534.0,254.5 535.0,253.5 536.0,252.4 537.0,251.4 538.0,250.5 539.0,249.5 540.0,248.6 541.0,247.7 542.0,246.8 543.0,246.0 544.0,245.0 545.0,244.0 546.0,242.9 547.0,241.9 548.0,240.9 549.0,239.9 550.0,238.9 551.0,238.2 552.0,237.9 553.0,237.7 554.0,237.4 555.0,237.2 556.0,236.9 557.0,237.3 558.0,238.3 559.0,239.3 560.0,241.3 561.0,244.4 562.0,247.4 563.0,250.7 564.0,254.3 565.0,257.8 566.0,261.7 567.0,265.6 568.0,269.5 569.0,274.5 570.0,279.8 571.0,285.0 572.0,290.0 573.0,293.7 574.0,297.5 575.0,301.2 576.0,304.6 577.0,307.8 578.0,311.0 579.0,314.2 580.0,317.3 581.0,320.4 582.0,323.5 583.0,325.8 584.0,326.6 585.0,327.3 586.0,328.1 587.0,327.4 588.0,326.8 589.0,326.1 590.0,325.4 591.0,324.8 592.0,324.3 593.0,323.8 594.0,323.3 595.0,322.8 596.0,322.5 597.0,323.2 598.0,323.8 599.0,324.5 600.0,325.1 601.0,325.7 602.0,325.9 603.0,326.2 604.0,326.5 605.0,326.7 606.0,327.0 607.0,327.2 608.0,327.4 609.0,327.6 610.0,327.8 611.0,328.0 612.0,328.2 613.0,328.4 614.0,328.6 615.0,328.8 616.0,329.0 617.0,329.1 618.0,329.2 619.0,329.3 620.0,329.5 621.0,329.6 622.0,329.7 623.0,329.5 624.0,329.4 625.0,329.2 626.0,329.0 627.0,328.9 628.0,328.5 629.0,328.2 630.0,327.9 631.0,327.6 632.0,327.2 633.0,326.4 634.0,325.7 635.0,324.9 636.0,324.2 637.0,323.4 638.0,322.7 639.0,321.4 640.0,319.6 641.0,317.9 642.0,316.2 643.0,314.5 644.0,312.8 645.0,311.0 646.0,309.6 647.0,308.2 648.0,306.8 649.0,305.4 650.0,304.0 651.0,302.6 652.0,301.3 653.0,300.5 654.0,299.7 655.0,298.9 656.0,298.1 657.0,297.3 658.0,296.5 659.0,296.1 660.0,295.9 661.0,295.6 662.0,295.4 663.0,295.1 664.0,294.9 665.0,294.6 666.0,294.4 667.0,294.8 668.0,295.4 669.0,296.1 670.0,296.7 671.0,297.3 672.0,297.3 673.0,296.8 674.0,296.3 675.0,295.8 676.0,295.3 677.0,294.5 678.0,293.3 679.0,292.0 680.0,290.8 681.0,289.5 682.0,288.3 683.0,287.1 684.0,285.9 685.0,284.8 686.0,283.6 687.0,282.5 688.0,281.3 689.0,280.1 690.0,278.9 691.0,277.5 692.0,276.1 693.0,274.7 694.0,273.3 695.0,271.9 696.0,270.5 697.0,269.8 698.0,269.2 699.0,268.8 700.0,268.2 701.0,267.8 702.0,267.4 703.0,267.3 704.0,267.2 705.0,267.1 706.0,267.0 707.0,266.9 708.0,266.8 709.0,266.9 710.0,267.0 711.0,267.1 712.0,267.2 713.0,267.3 714.0,267.4 715.0,267.9 716.0,268.9 717.0,269.9 718.0,270.9 719.0,271.9 720.0,272.7 721.0,273.0 722.0,273.2 723.0,273.5 724.0,273.7 725.0,274.0 726.0,274.5 727.0,275.0 728.0,275.5 729.0,276.0 730.0,276.5 731.0,277.0 732.0,277.2 733.0,277.1 734.0,276.9 735.0,276.9 736.0,278.1 737.0,279.3 738.0,280.5 739.0,281.7 740.0,282.6 741.0,282.4 742.0,282.2 743.0,282.0 744.0,281.8 745.0,281.6 746.0,281.2 747.0,280.9 748.0,280.5 749.0,280.1 750.0,279.8 751.0,279.4 752.0,279.1 753.0,278.9 754.0,278.6 755.0,278.3 756.0,278.1 757.0,277.8 758.0,277.4 759.0,276.6 760.0,275.7 761.0,274.8 762.0,274.0 763.0,273.1 764.0,272.2 765.0,271.7 766.0,271.3 767.0,270.9 768.0,270.6 769.0,270.2 770.0,269.8 771.0,269.5 772.0,269.5 773.0,269.5 774.0,269.5 775.0,269.5 776.0,269.5 777.0,269.5 778.0,270.4 779.0,272.2 780.0,274.0 781.0,275.7 782.0,277.4 783.0,279.0 784.0,280.7 785.0,282.4 786.0,284.2 787.0,286.2 788.0,288.2 789.0,290.2 790.0,292.2 791.0,295.4 792.0,299.0 793.0,302.7 794.0,306.3 795.0,309.9 796.0,312.5 797.0,315.2 798.0,317.9 799.0,320.6 800.0,323.2 801.0,325.5 802.0,327.9 803.0,330.2 804.0,332.6 805.0,334.7 806.0,336.4 807.0,338.0 808.0,339.7 809.0,341.4 810.0,342.9 811.0,344.3 812.0,345.6 813.0,346.9 814.0,348.2 815.0,349.4 816.0,350.4 817.0,351.4 818.0,352.3 819.0,353.3 820.0,354.5 821.0,355.8 822.0,357.2 823.0,358.5 824.0,359.9 825.0,361.2 826.0,362.5 827.0,363.8 828.0,365.2 829.0,366.5 830.0,367.5 831.0,368.3 832.0,369.2 833.0,370.0 834.0,370.8 835.0,371.5 836.0,372.2 837.0,372.9 838.0,373.6 839.0,374.2 840.0,374.4 841.0,374.6 842.0,374.8 843.0,374.9 844.0,375.1 845.0,374.4 846.0,373.8 847.0,373.1 848.0,372.4 849.0,371.7 850.0,371.1 851.0,370.4 852.0,369.8 853.0,369.1 854.0,368.4 855.0,367.4 856.0,366.4 857.0,365.3 858.0,364.3 859.0,363.7 860.0,363.8 861.0,364.0 862.0,364.2 863.0,364.4 864.0,364.6 865.0,364.9 866.0,365.3 867.0,365.6 868.0,365.9 869.0,366.2 870.0,366.3 871.0,366.5 872.0,366.7 873.0,366.8 874.0,366.8 875.0,366.7 876.0,366.5 877.0,366.3 878.0,366.2 879.0,366.1 880.0,366.0 881.0,365.9 882.0,365.8 883.0,365.7 884.0,365.7 885.0,365.6 886.0,365.5 887.0,365.4 888.0,365.3 889.0,365.1 890.0,365.0 891.0,364.9 892.0,364.7 893.0,364.2 894.0,363.7 895.0,363.2 896.0,362.7 897.0,362.2 898.0,361.7 899.0,361.1 900.0,360.5 901.0,359.8 902.0,359.2 903.0,358.6 904.0,358.0 905.0,357.5 906.0,357.0 907.0,356.5 908.0,356.0 909.0,355.5 910.0,354.8 911.0,354.1 912.0,353.3 913.0,352.5 914.0,351.8 915.0,351.0 916.0,350.4 917.0,349.7 918.0,349.1 919.0,348.5 920.0,347.9 921.0,347.2 922.0,346.9 923.0,346.7 924.0,346.4 925.0,346.2 926.0,346.0 927.0,345.7 928.0,345.5 929.0,345.2 930.0,345.0 931.0,344.7 932.0,344.5 933.0,344.2 934.0,343.9 935.0,343.7 936.0,343.4 937.0,343.2 938.0,342.9 939.0,342.7 940.0,342.3 941.0,341.9 942.0,341.5 943.0,341.2 944.0,340.8 945.0,340.4 946.0,340.1 947.0,339.7 948.0,339.3 949.0,338.9 950.0,338.6 951.0,338.3 952.0,338.3 953.0,338.3 954.0,338.3 955.0,338.3 956.0,338.3 957.0,338.4 958.0,338.7 959.0,338.9 960.0,339.2 961.0,339.4 962.0,339.7 963.0,340.1 964.0,340.7 965.0,341.3 966.0,341.9 967.0,342.5 968.0,343.2 969.0,343.7 970.0,344.2 971.0,344.7 972.0,345.2 973.0,345.7 974.0,346.2 975.0,346.5 976.0,346.7 977.0,346.9 978.0,347.1 979.0,347.3 980.0,347.5 981.0,347.6 982.0,347.8 983.0,348.2 984.0,348.7 985.0,349.2 986.0,349.7 987.0,350.2 988.0,350.7 989.0,351.3 990.0,352.1 991.0,352.8 992.0,353.6 993.0,354.4 994.0,355.1 995.0,355.9 996.0,356.6 997.0,357.4 998.0,358.1 999.0,358.9 1000.0,359.6 1001.0,360.5 1002.0,361.4 1003.0,362.2 1004.0,363.1 1005.0,364.0 1006.0,364.8 1007.0,364.9 1008.0,365.0 1009.0,365.1 1010.0,365.2 1011.0,365.3 1012.0,365.4 1013.0,365.5 1014.0,365.5 1015.0,365.5 1016.0,365.5 1017.0,365.5 1018.0,365.5 1019.0,365.5 1020.0,365.6 1021.0,365.7 1022.0,365.9 1023.0,366.0 1024.0,366.2 1025.0,366.3 1026.0,365.7 1027.0,365.1 1028.0,364.5 1029.0,363.9 1030.0,363.2 1031.0,362.6 1032.0,362.1 1033.0,361.6 1034.0,361.1 1035.0,360.6 1036.0,360.1 1037.0,359.6 1038.0,359.1 1039.0,358.6 1040.0,358.1 1041.0,357.6 1042.0,357.1 1043.0,356.7 1044.0,356.5 1045.0,356.4 1046.0,356.3 1047.0,356.2 1048.0,356.1 1049.0,356.0 1050.0,356.2 1051.0,356.3 1052.0,356.4 1053.0,356.5 1054.0,356.6 1055.0,356.9 1056.0,357.3 1057.0,357.6 1058.0,358.0 1059.0,358.4 1060.0,358.8 1061.0,358.9 1062.0,358.9 1063.0,358.9 1064.0,358.9 1065.0,358.9 1066.0,358.9 1067.0,358.6 1068.0,358.3 1069.0,357.9 1070.0,357.5 1071.0,357.1 1072.0,356.8 1073.0,356.4 1074.0,356.0 1075.0,355.7 1076.0,355.3 1077.0,354.9 1078.0,354.5 1079.0,354.2 1080.0,353.8 1081.0,353.4 1082.0,353.0 1083.0,352.7 1084.0,352.3 1085.0,351.9 1086.0,351.6 1087.0,351.2 1088.0,350.8 1089.0,350.4 1090.0,350.0 1091.0,349.4 1092.0,348.7 1093.0,348.0 1094.0,347.3" fill="none" stroke="#ffff00" stroke-width="1"/>
<polyline points="0.0,431.4 1.0,431.1 2.0,430.8 3.0,430.5 4.0,430.2 5.0,429.9 6.0,429.6 7.0,429.3 8.0,429.0 9.0,428.5 10.0,428.0 11.0,427.5 12.0,427.0 13.0,426.5 14.0,425.9 15.0,425.2 16.0,424.6 17.0,424.0 18.0,423.7 19.0,423.4 20.0,423.2 21.0,422.9 22.0,422.6 23.0,422.4 24.0,422.1 25.0,421.9 26.0,421.6 27.0,421.9 28.0,422.1 29.0,422.4 30.0,422.6 31.0,422.9 32.0,423.2 33.0,423.4 34.0,423.7 35.0,424.0 36.0,424.0 37.0,424.0 38.0,424.0 39.0,424.0 40.0,424.0 41.0,424.6 42.0,425.2 43.0,425.8 44.0,426.3 45.0,426.9 46.0,427.5 47.0,428.0 48.0,428.5 49.0,429.0 50.0,429.5 51.0,429.2 52.0,429.0 53.0,428.8 54.0,428.5 55.0,426.8 56.0,425.8 57.0,424.7 58.0,423.7 59.0,422.7 60.0,421.7 61.0,420.8 62.0,419.8 63.0,418.8 64.0,418.0 65.0,417.1 66.0,416.3 67.0,415.6 68.0,415.6 69.0,415.6 70.0,415.6 71.0,415.5 72.0,415.0 73.0,414.5 74.0,414.0 75.0,413.6 76.0,413.2 77.0,412.9 78.0,412.6 79.0,412.2 80.0,411.7 81.0,411.2 82.0,410.7 83.0,410.1 84.0,409.6 85.0,409.1 86.0,408.6 87.0,408.6 88.0,408.9 89.0,409.3 90.0,409.6 91.0,409.9 92.0,410.3 93.0,410.6 94.0,410.9 95.0,410.8 96.0,410.4 97.0,410.1 98.0,409.8 99.0,409.0 100.0,408.1 101.0,406.9 102.0,405.7 103.0,404.5 104.0,403.3 105.0,402.0 106.0,400.4 107.0,398.9 108.0,397.3 109.0,395.7 110.0,394.0 111.0,392.2 112.0,390.4 113.0,388.6 114.0,386.8 115.0,384.8 116.0,382.6 117.0,380.4 118.0,378.2 119.0,376.0 120.0,373.5 121.0,370.6 122.0,367.7 123.0,364.7 124.0,361.8 125.0,359.5 126.0,358.3 127.0,357.1 128.0,355.9 129.0,354.6 130.0,353.4 131.0,352.2 132.0,351.8 133.0,352.0 134.0,352.1 135.0,352.3 136.0,352.5 137.0,352.6 138.0,351.8 139.0,350.4 140.0,349.1 141.0,347.7 142.0,346.4 143.0,345.1 144.0,343.5 145.0,341.8 146.0,340.1 147.0,338.5 148.0,336.8 149.0,335.2 150.0,334.7 151.0,334.3 152.0,334.0 153.0,334.6 154.0,335.2 155.0,335.8 156.0,336.4 157.0,337.0 158.0,336.3 159.0,335.6 160.0,335.0 161.0,334.3 162.0,333.6 163.0,332.8 164.0,331.3 165.0,329.8 166.0,328.2 167.0,326.5 168.0,324.2 169.0,321.9 170.0,319.6 171.0,317.3 172.0,315.0 173.0,312.9 174.0,311.0 175.0,309.2 176.0,307.4 177.0,305.5 178.0,303.7 179.0,303.1 180.0,304.4 181.0,305.6 182.0,306.9 183.0,307.5 184.0,307.5 185.0,307.5 186.0,307.5 187.0,307.5 188.0,307.5 189.0,308.0 190.0,308.8 191.0,309.7 192.0,310.5 193.0,311.3 194.0,312.2 195.0,312.3 196.0,312.1 197.0,311.9 198.0,311.8 199.0,311.6 200.0,311.4 201.0,310.6 202.0,309.6 203.0,308.6 204.0,307.5 205.0,306.5 206.0,305.5 207.0,304.5 208.0,303.5 209.0,302.6 210.0,301.6 211.0,300.6 212.0,299.6 213.0,300.5 214.0,301.5 215.0,302.4 216.0,303.9 217.0,305.3 218.0,306.8 219.0,308.8 220.0,310.7 221.0,312.7 222.0,314.4 223.0,316.1 224.0,317.8 225.0,319.5 226.0,321.0 227.0,322.3 228.0,323.7 229.0,325.0 230.0,326.2 231.0,326.7 232.0,327.2 233.0,327.7 234.0,328.2 235.0,328.0 236.0,327.9 237.0,327.7 238.0,327.5 239.0,327.0 240.0,326.0 241.0,325.0 242.0,324.0 243.0,323.0 244.0,322.0 245.0,321.0 246.0,320.0 247.0,319.0 248.0,318.0 249.0,317.0 250.0,316.0 251.0,315.0 252.0,314.0 253.0,312.8 254.0,311.6 255.0,310.4 256.0,309.2 257.0,308.6 258.0,308.2 259.0,307.7 260.0,307.9 261.0,308.2 262.0,308.5 263.0,308.8 264.0,308.9 265.0,308.7 266.0,308.4 267.0,308.5 268.0,308.8 269.0,309.1 270.0,309.5 271.0,309.8 272.0,309.5 273.0,309.1 274.0,308.8 275.0,308.4 276.0,307.7 277.0,306.6 278.0,305.6 279.0,304.1 280.0,302.5 281.0,300.8 282.0,299.2 283.0,297.3 284.0,295.0 285.0,292.7 286.0,290.4 287.0,288.2 288.0,285.2 289.0,282.0 290.0,278.8 291.0,276.4 292.0,273.9 293.0,271.5 294.0,270.3 295.0,269.1 296.0,267.9 297.0,266.6 298.0,265.4 299.0,264.2 300.0,263.0 301.0,261.8 302.0,260.7 303.0,259.5 304.0,258.3 305.0,257.2 306.0,256.0 307.0,255.0 308.0,254.0 309.0,253.0 310.0,252.0 311.0,251.0 312.0,250.0 313.0,249.3 314.0,248.7 315.0,248.0 316.0,247.3 317.0,246.7 318.0,246.0 319.0,244.7 320.0,243.3 321.0,242.0 322.0,240.7 323.0,239.3 324.0,238.0 325.0,236.8 326.0,235.7 327.0,234.5 328.0,233.3 329.0,232.2 330.0,231.0 331.0,229.5 332.0,228.0 333.0,226.5 334.0,225.0 335.0,223.5 336.0,222.0 337.0,220.3 338.0,218.7 339.0,217.0 340.0,215.3 341.0,213.7 342.0,212.0 343.0,210.5 344.0,209.0 345.0,207.5 346.0,206.0 347.0,204.5 348.0,203.0 349.0,200.8 350.0,198.7 351.0,196.5 352.0,194.3 353.0,192.2 354.0,190.0 355.0,187.7 356.0,185.3 357.0,183.0 358.0,180.7 359.0,178.3 360.0,176.0 361.0,173.8 362.0,171.7 363.0,169.5 364.0,167.3 365.0,165.2 366.0,163.0 367.0,163.5 368.0,166.8 369.0,170.1 370.0,173.4 371.0,176.2 372.0,178.5 373.0,180.8 374.0,183.1 375.0,184.9 376.0,186.3 377.0,187.7 378.0,188.3 379.0,186.8 380.0,185.4 381.0,184.0 382.0,182.4 383.0,180.7 384.0,179.1 385.0,177.5 386.0,176.9 387.0,176.2 388.0,175.5 389.0,175.0 390.0,175.0 391.0,175.0 392.0,175.0 393.0,174.7 394.0,173.7 395.0,172.6 396.0,171.6 397.0,169.8 398.0,167.0 399.0,164.1 400.0,160.0 401.0,155.5 402.0,150.9 403.0,145.9 404.0,140.8 405.0,134.3 406.0,127.4 407.0,124.9 408.0,122.3 409.0,121.3 410.0,121.3 411.0,121.3 412.0,121.3 413.0,121.3 414.0,121.2 415.0,121.1 416.0,121.1 417.0,121.0 418.0,121.0 419.0,120.9 420.0,119.6 421.0,117.9 422.0,114.4 423.0,110.3 424.0,106.5 425.0,103.5 426.0,100.5 427.0,97.6 428.0,94.8 429.0,92.0 430.0,89.9 431.0,87.8 432.0,85.7 433.0,83.6 434.0,82.4 435.0,81.2 436.0,80.1 437.0,79.0 438.0,79.2 439.0,79.4 440.0,79.6 441.0,81.2 442.0,83.3 443.0,85.4 444.0,87.9 445.0,90.4 446.0,93.4 447.0,96.7 448.0,100.9 449.0,105.7 450.0,111.2 451.0,117.1 452.0,121.0 453.0,124.1 454.0,127.1 455.0,130.3 456.0,133.4 457.0,139.1 458.0,147.3 459.0,153.8 460.0,159.2 461.0,163.8 462.0,167.2 463.0,170.6 464.0,174.1 465.0,177.7 466.0,181.2 467.0,185.7 468.0,191.0 469.0,197.4 470.0,206.2 471.0,211.1 472.0,214.9 473.0,218.7 474.0,222.6 475.0,226.5 476.0,230.4 477.0,235.1 478.0,240.4 479.0,246.0 480.0,251.8 481.0,254.9 482.0,257.3 483.0,257.4 484.0,256.2 485.0,254.9 486.0,253.1 487.0,251.2 488.0,249.2 489.0,246.8 490.0,244.3 491.0,241.7 492.0,239.6 493.0,237.7 494.0,235.7 495.0,234.9 496.0,234.4 497.0,233.9 498.0,233.2 499.0,232.5 500.0,231.8 501.0,230.1 502.0,228.3 503.0,226.5 504.0,224.0 505.0,221.6 506.0,219.1 507.0,217.6 508.0,216.1 509.0,214.7 510.0,214.3 511.0,214.0 512.0,216.7 513.0,219.7 514.0,222.7 515.0,225.6 516.0,228.6 517.0,232.0 518.0,235.5 519.0,239.1 520.0,242.9 521.0,246.8 522.0,250.7 523.0,253.1 524.0,255.2 525.0,255.8 526.0,255.6 527.0,255.3 528.0,255.4 529.0,255.7 530.0,255.9 531.0,256.7 532.0,257.7 533.0,258.7 534.0,258.1 535.0,257.1 536.0,255.4 537.0,253.2 538.0,251.0 539.0,248.2 540.0,245.1 541.0,242.8 542.0,240.8 543.0,238.7 544.0,236.7 545.0,234.5 546.0,231.8 547.0,229.1 548.0,227.1 549.0,226.9 550.0,226.6 551.0,227.1 552.0,228.6 553.0,230.0 554.0,231.3 555.0,232.3 556.0,233.4 557.0,235.9 558.0,239.8 559.0,243.7 560.0,248.7 561.0,254.7 562.0,260.9 563.0,267.6 564.0,274.3 565.0,281.8 566.0,289.3 567.0,305.8 568.0,314.7 569.0,321.5 570.0,326.7 571.0,329.3 572.0,331.9 573.0,332.4 574.0,332.6 575.0,332.8 576.0,333.0 577.0,330.8 578.0,328.1 579.0,325.4 580.0,323.8 581.0,323.5 582.0,323.2 583.0,322.9 584.0,322.5 585.0,322.5 586.0,322.7 587.0,322.8 588.0,323.0 589.0,323.2 590.0,322.9 591.0,322.5 592.0,322.0 593.0,321.6 594.0,321.1 595.0,320.7 596.0,322.1 597.0,323.5 598.0,324.9 599.0,326.4 600.0,327.8 601.0,329.3 602.0,330.8 603.0,331.3 604.0,331.1 605.0,330.9 606.0,330.7 607.0,330.2 608.0,329.5 609.0,328.8 610.0,328.1 611.0,327.4 612.0,326.6 613.0,326.6 614.0,326.8 615.0,327.0 616.0,327.1 617.0,327.3 618.0,328.2 619.0,329.2 620.0,330.2 621.0,331.2 622.0,332.2 623.0,332.2 624.0,332.2 625.0,332.2 626.0,332.2 627.0,331.3 628.0,330.3 629.0,329.3 630.0,328.3 631.0,326.9 632.0,325.4 633.0,323.9 634.0,322.4 635.0,320.9 636.0,318.6 637.0,316.2 638.0,313.8 639.0,311.4 640.0,309.0 641.0,307.6 642.0,306.1 643.0,304.7 644.0,303.2 645.0,301.8 646.0,300.7 647.0,299.7 648.0,298.8 649.0,297.8 650.0,296.8 651.0,296.2 652.0,296.0 653.0,295.8 654.0,295.6 655.0,295.4 656.0,295.2 657.0,295.0 658.0,294.8 659.0,294.6 660.0,294.4 661.0,294.2 662.0,294.0 663.0,293.8 664.0,293.9 665.0,294.4 666.0,294.9 667.0,295.4 668.0,295.9 669.0,296.4 670.0,297.1 671.0,297.7 672.0,298.3 673.0,299.0 674.0,299.6 675.0,298.1 676.0,296.6 677.0,295.2 678.0,293.7 679.0,291.0 680.0,288.3 681.0,285.6 682.0,282.9 683.0,279.5 684.0,276.1 685.0,272.8 686.0,269.9 687.0,268.7 688.0,267.5 689.0,266.3 690.0,265.5 691.0,265.5 692.0,265.5 693.0,265.5 694.0,265.7 695.0,266.4 696.0,267.0 697.0,267.7 698.0,268.2 699.0,268.4 700.0,268.5 701.0,268.7 702.0,268.7 703.0,268.4 704.0,268.2 705.0,267.9 706.0,267.7 707.0,267.4 708.0,267.0 709.0,266.7 710.0,266.3 711.0,265.9 712.0,265.5 713.0,266.0 714.0,266.5 715.0,267.0 716.0,267.7 717.0,269.7 718.0,271.7 719.0,273.7 720.0,275.6 721.0,276.9 722.0,278.2 723.0,279.5 724.0,280.7 725.0,281.0 726.0,281.3 727.0,281.7 728.0,281.7 729.0,281.0 730.0,280.4 731.0,279.7 732.0,279.3 733.0,279.3 734.0,279.3 735.0,279.3 736.0,279.8 737.0,280.3 738.0,280.8 739.0,281.3 740.0,281.8 741.0,282.1 742.0,282.5 743.0,282.8 744.0,283.2 745.0,283.2 746.0,282.5 747.0,281.9 748.0,281.2 749.0,280.5 750.0,279.7 751.0,278.7 752.0,277.7 753.0,276.7 754.0,275.7 755.0,274.6 756.0,273.5 757.0,272.4 758.0,271.2 759.0,270.1 760.0,269.1 761.0,268.2 762.0,267.4 763.0,266.6 764.0,265.7 765.0,265.2 766.0,264.9 767.0,264.7 768.0,265.0 769.0,266.3 770.0,267.7 771.0,269.0 772.0,270.3 773.0,271.4 774.0,272.3 775.0,273.1 776.0,273.9 777.0,274.8 778.0,276.9 779.0,280.2 780.0,283.5 781.0,286.8 782.0,290.3 783.0,293.8 784.0,297.3 785.0,300.8 786.0,304.2 787.0,307.7 788.0,310.8 789.0,313.8 790.0,316.8 791.0,319.8 792.0,322.9 793.0,326.0 794.0,328.9 795.0,331.4 796.0,333.9 797.0,336.4 798.0,339.1 799.0,341.8 800.0,344.3 801.0,345.8 802.0,347.3 803.0,348.8 804.0,349.1 805.0,349.4 806.0,349.6 807.0,349.4 808.0,348.9 809.0,348.4 810.0,348.4 811.0,349.2 812.0,349.9 813.0,350.6 814.0,350.9 815.0,351.1 816.0,351.4 817.0,352.4 818.0,353.6 819.0,354.9 820.0,356.8 821.0,359.3 822.0,361.8 823.0,364.3 824.0,366.8 825.0,369.3 826.0,371.8 827.0,374.0 828.0,376.3 829.0,378.5 830.0,379.2 831.0,379.2 832.0,379.2 833.0,379.2 834.0,379.2 835.0,378.7 836.0,378.0 837.0,377.3 838.0,376.6 839.0,376.0 840.0,375.3 841.0,374.7 842.0,374.0 843.0,373.4 844.0,372.7 845.0,371.9 846.0,371.0 847.0,370.2 848.0,369.4 849.0,368.5 850.0,367.1 851.0,365.8 852.0,364.4 853.0,363.1 854.0,361.8 855.0,360.8 856.0,359.8 857.0,358.8 858.0,357.8 859.0,357.3 860.0,358.1 861.0,358.8 862.0,359.6 863.0,361.1 864.0,362.6 865.0,364.1 866.0,365.6 867.0,367.0 868.0,368.4 869.0,369.7 870.0,371.1 871.0,372.4 872.0,373.2 873.0,371.9 874.0,370.5 875.0,369.2 876.0,367.8 877.0,366.5 878.0,365.2 879.0,363.9 880.0,362.6 881.0,361.3 882.0,360.3 883.0,360.0 884.0,359.8 885.0,359.5 886.0,360.1 887.0,360.8 888.0,361.4 889.0,361.9 890.0,361.9 891.0,361.9 892.0,361.9 893.0,361.9 894.0,361.4 895.0,360.7 896.0,360.1 897.0,359.4 898.0,358.6 899.0,357.6 900.0,356.6 901.0,355.6 902.0,354.6 903.0,353.3 904.0,352.0 905.0,350.6 906.0,349.3 907.0,348.2 908.0,347.3 909.0,346.5 910.0,345.7 911.0,344.9 912.0,344.7 913.0,344.5 914.0,344.3 915.0,344.7 916.0,345.9 917.0,347.1 918.0,348.2 919.0,348.4 920.0,348.0 921.0,347.7 922.0,347.3 923.0,346.9 924.0,346.2 925.0,345.6 926.0,344.9 927.0,344.3 928.0,343.6 929.0,342.9 930.0,342.2 931.0,341.5 932.0,341.1 933.0,341.0 934.0,340.8 935.0,340.7 936.0,340.5 937.0,340.5 938.0,340.5 939.0,340.5 940.0,340.5 941.0,340.3 942.0,340.0 943.0,339.6 944.0,339.3 945.0,338.9 946.0,338.4 947.0,337.9 948.0,337.4 949.0,336.9 950.0,336.7 951.0,336.5 952.0,336.4 953.0,336.2 954.0,336.3 955.0,336.8 956.0,337.3 957.0,337.8 958.0,338.3 959.0,339.3 960.0,340.5 961.0,341.7 962.0,342.8 963.0,343.8 964.0,344.7 965.0,345.5 966.0,346.3 967.0,347.1 968.0,347.5 969.0,347.8 970.0,348.2 971.0,348.5 972.0,348.7 973.0,348.9 974.0,349.0 975.0,349.2 976.0,349.2 977.0,348.8 978.0,348.4 979.0,348.1 980.0,347.9 981.0,347.9 982.0,347.9 983.0,347.9 984.0,348.1 985.0,349.3 986.0,350.4 987.0,351.5 988.0,352.7 989.0,354.2 990.0,355.9 991.0,357.5 992.0,359.2 993.0,360.7 994.0,361.5 995.0,362.3 996.0,363.2 997.0,364.0 998.0,364.2 999.0,364.4 1000.0,364.6 1001.0,364.7 1002.0,364.8 1003.0,364.8 1004.0,364.8 1005.0,364.8 1006.0,364.8 1007.0,365.1 1008.0,365.3 1009.0,365.6 1010.0,365.8 1011.0,366.1 1012.0,366.3 1013.0,366.3 1014.0,366.3 1015.0,366.3 1016.0,366.3 1017.0,366.3 1018.0,366.2 1019.0,366.0 1020.0,365.7 1021.0,365.5 1022.0,365.2 1023.0,365.0 1024.0,364.4 1025.0,363.4 1026.0,362.4 1027.0,361.4 1028.0,360.4 1029.0,359.6 1030.0,358.7 1031.0,357.9 1032.0,357.0 1033.0,356.2 1034.0,355.4 1035.0,354.6 1036.0,353.7 1037.0,353.0 1038.0,352.6 1039.0,352.3 1040.0,351.9 1041.0,351.6 1042.0,352.0 1043.0,352.7 1044.0,353.3 1045.0,354.0 1046.0,354.8 1047.0,355.8 1048.0,356.8 1049.0,357.8 1050.0,358.8 1051.0,358.8 1052.0,358.6 1053.0,358.4 1054.0,358.3 1055.0,358.3 1056.0,358.4 1057.0,358.6 1058.0,358.7 1059.0,358.9 1060.0,358.7 1061.0,358.6 1062.0,358.4 1063.0,358.3 1064.0,358.0 1065.0,357.7 1066.0,357.3 1067.0,357.0 1068.0,356.6 1069.0,356.3 1070.0,355.9 1071.0,355.6 1072.0,355.3 1073.0,355.2 1074.0,355.2 1075.0,355.2 1076.0,355.2 1077.0,355.0 1078.0,354.5 1079.0,354.0 1080.0,353.5 1081.0,353.0 1082.0,352.0 1083.0,351.0 1084.0,350.1 1085.0,349.1 1086.0,348.1 1087.0,347.1 1088.0,346.1 1089.0,345.1 1090.0,344.2 1091.0,344.0 1092.0,343.8 1093.0,343.6 1094.0,343.5" fill="none" stroke="#ffffff" stroke-width="1"/>
</g>
<!-- volume -->
<g shape-rendering="crispEdges">
<rect x="0" y="568.6" width="1" height="16.4" fill="#00e4ff"/>
<rect x="2" y="570.8" width="1" height="14.2" fill="#f65a4f"/>
<rect x="5" y="564.9" width="1" height="20.1" fill="#f65a4f"/>
<rect x="7" y="564.9" width="1" height="20.1" fill="#f65a4f"/>
<rect x="10" y="568.9" width="1" height="16.1" fill="#f65a4f"/>
<rect x="12" y="568.9" width="1" height="16.1" fill="#f65a4f"/>
<rect x="15" y="568.6" width="1" height="16.4" fill="#f65a4f"/>
<rect x="17" y="568.6" width="1" height="16.4" fill="#f65a4f"/>
<rect x="20" y="563.8" width="1" height="21.2" fill="#f65a4f"/>
<rect x="22" y="564.9" width="1" height="20.1" fill="#00e4ff"/>
<rect x="25" y="567.8" width="1" height="17.2" fill="#00e4ff"/>
<rect x="27" y="567.8" width="1" height="17.2" fill="#00e4ff"/>
<rect x="30" y="567.8" width="1" height="17.2" fill="#f65a4f"/>
<rect x="32" y="562.7" width="1" height="22.3" fill="#00e4ff"/>
<rect x="35" y="566.7" width="1" height="18.3" fill="#00e4ff"/>
<rect x="37" y="570.8" width="1" height="14.2" fill="#f65a4f"/>
<rect x="40" y="570.0" width="1" height="15.0" fill="#00e4ff"/>
<rect x="42" y="570.8" width="1" height="14.2" fill="#00e4ff"/>
<rect x="45" y="570.8" width="1" height="14.2" fill="#00e4ff"/>
<rect x="47" y="572.6" width="1" height="12.4" fill="#00e4ff"/>
<rect x="50" y="572.8" width="1" height="12.2" fill="#00e4ff"/>
<rect x="52" y="571.9" width="1" height="13.1" fill="#f65a4f"/>
<rect x="55" y="562.1" width="1" height="22.9" fill="#f65a4f"/>
<rect x="57" y="558.8" width="1" height="26.2" fill="#f65a4f"/>
<rect x="60" y="556.0" width="1" height="29.0" fill="#f65a4f"/>
<rect x="62" y="559.2" width="1" height="25.8" fill="#f65a4f"/>
<rect x="65" y="558.0" width="1" height="27.0" fill="#f65a4f"/>
<rect x="67" y="562.1" width="1" height="22.9" fill="#00e4ff"/>
<rect x="70" y="564.6" width="1" height="20.4" fill="#f65a4f"/>
<rect x="72" y="559.2" width="1" height="25.8" fill="#00e4ff"/>
<rect x="75" y="558.8" width="1" height="26.2" fill="#f65a4f"/>
<rect x="77" y="549.0" width="1" height="36.0" fill="#00e4ff"/>
<rect x="80" y="562.9" width="1" height="22.1" fill="#f65a4f"/>
<rect x="82" y="559.7" width="1" height="25.3" fill="#00e4ff"/>
<rect x="85" y="565.0" width="1" height="20.0" fill="#00e4ff"/>
<rect x="87" y="566.2" width="1" height="18.8" fill="#00e4ff"/>
<rect x="90" y="567.0" width="1" height="18.0" fill="#00e4ff"/>
<rect x="92" y="567.8" width="1" height="17.2" fill="#00e4ff"/>
<rect x="95" y="569.9" width="1" height="15.1" fill="#f65a4f"/>
<rect x="97" y="566.2" width="1" height="18.8" fill="#f65a4f"/>
<rect x="100" y="552.7" width="1" height="32.3" fill="#f65a4f"/>
<rect x="102" y="557.2" width="1" height="27.8" fill="#f65a4f"/>
<rect x="105" y="554.5" width="1" height="30.5" fill="#f65a4f"/>
<rect x="107" y="552.7" width="1" height="32.3" fill="#f65a4f"/>
<rect x="110" y="543.6" width="1" height="41.4" fill="#f65a4f"/>
<rect x="112" y="546.3" width="1" height="38.7" fill="#00e4ff"/>
<rect x="115" y="541.8" width="1" height="43.2" fill="#f65a4f"/>
<rect x="117" y="536.3" width="1" height="48.7" fill="#f65a4f"/>
<rect x="120" y="539.1" width="1" height="45.9" fill="#f65a4f"/>
<rect x="122" y="529.1" width="1" height="55.9" fill="#f65a4f"/>
<rect x="125" y="538.1" width="1" height="46.9" fill="#f65a4f"/>
<rect x="127" y="518.2" width="1" height="66.8" fill="#00e4ff"/>
<rect x="130" y="540.0" width="1" height="45.0" fill="#f65a4f"/>
<rect x="132" y="542.7" width="1" height="42.3" fill="#00e4ff"/>
<rect x="135" y="548.1" width="1" height="36.9" fill="#f65a4f"/>
<rect x="137" y="550.0" width="1" height="35.0" fill="#f65a4f"/>
<rect x="140" y="545.4" width="1" height="39.6" fill="#f65a4f"/>
<rect x="142" y="540.0" width="1" height="45.0" fill="#f65a4f"/>
<rect x="145" y="546.3" width="1" height="38.7" fill="#00e4ff"/>
<rect x="147" y="541.8" width="1" height="43.2" fill="#f65a4f"/>
<rect x="150" y="526.3" width="1" height="58.7" fill="#f65a4f"/>
<rect x="152" y="547.2" width="1" height="37.8" fill="#00e4ff"/>
<rect x="155" y="551.8" width="1" height="33.2" fill="#00e4ff"/>
<rect x="157" y="551.8" width="1" height="33.2" fill="#f65a4f"/>
<rect x="160" y="544.5" width="1" height="40.5" fill="#f65a4f"/>
<rect x="162" y="540.0" width="1" height="45.0" fill="#f65a4f"/>
<rect x="165" y="550.0" width="1" height="35.0" fill="#00e4ff"/>
<rect x="167" y="541.8" width="1" height="43.2" fill="#f65a4f"/>
<rect x="170" y="539.1" width="1" height="45.9" fill="#f65a4f"/>
<rect x="172" y="540.9" width="1" height="44.1" fill="#f65a4f"/>
<rect x="175" y="550.9" width="1" height="34.1" fill="#f65a4f"/>
<rect x="177" y="551.8" width="1" height="33.2" fill="#f65a4f"/>
<rect x="180" y="548.1" width="1" height="36.9" fill="#00e4ff"/>
<rect x="182" y="557.2" width="1" height="27.8" fill="#00e4ff"/>
<rect x="185" y="564.5" width="1" height="20.5" fill="#f65a4f"/>
<rect x="187" y="563.6" width="1" height="21.4" fill="#00e4ff"/>
<rect x="190" y="559.9" width="1" height="25.1" fill="#f65a4f"/>
<rect x="192" y="554.5" width="1" height="30.5" fill="#f65a4f"/>
<rect x="195" y="550.0" width="1" height="35.0" fill="#00e4ff"/>
<rect x="197" y="554.5" width="1" height="30.5" fill="#f65a4f"/>
<rect x="200" y="549.0" width="1" height="36.0" fill="#f65a4f"/>
<rect x="202" y="553.6" width="1" height="31.4" fill="#f65a4f"/>
<rect x="205" y="552.7" width="1" height="32.3" fill="#f65a4f"/>
<rect x="207" y="554.5" width="1" height="30.5" fill="#f65a4f"/>
<rect x="210" y="552.7" width="1" height="32.3" fill="#00e4ff"/>
<rect x="212" y="558.1" width="1" height="26.9" fill="#00e4ff"/>
<rect x="215" y="560.9" width="1" height="24.1" fill="#00e4ff"/>
<rect x="217" y="561.8" width="1" height="23.2" fill="#00e4ff"/>
<rect x="220" y="562.7" width="1" height="22.3" fill="#00e4ff"/>
<rect x="222" y="563.6" width="1" height="21.4" fill="#f65a4f"/>
<rect x="225" y="559.9" width="1" height="25.1" fill="#00e4ff"/>
<rect x="227" y="558.1" width="1" height="26.9" fill="#00e4ff"/>
<rect x="230" y="562.7" width="1" height="22.3" fill="#00e4ff"/>
<rect x="232" y="567.2" width="1" height="17.8" fill="#f65a4f"/>
<rect x="235" y="568.1" width="1" height="16.9" fill="#f65a4f"/>
<rect x="237" y="569.9" width="1" height="15.1" fill="#f65a4f"/>
<rect x="240" y="563.6" width="1" height="21.4" fill="#f65a4f"/>
<rect x="242" y="561.8" width="1" height="23.2" fill="#f65a4f"/>
<rect x="245" y="565.4" width="1" height="19.6" fill="#f65a4f"/>
<rect x="247" y="564.5" width="1" height="20.5" fill="#f65a4f"/>
<rect x="250" y="565.4" width="1" height="19.6" fill="#00e4ff"/>
<rect x="252" y="558.1" width="1" height="26.9" fill="#f65a4f"/>
<rect x="255" y="559.0" width="1" height="26.0" fill="#f65a4f"/>
<rect x="257" y="555.4" width="1" height="29.6" fill="#f65a4f"/>
<rect x="260" y="551.8" width="1" height="33.2" fill="#00e4ff"/>
<rect x="262" y="557.2" width="1" height="27.8" fill="#f65a4f"/>
<rect x="265" y="558.1" width="1" height="26.9" fill="#00e4ff"/>
<rect x="267" y="558.1" width="1" height="26.9" fill="#00e4ff"/>
<rect x="270" y="559.9" width="1" height="25.1" fill="#f65a4f"/>
<rect x="272" y="559.0" width="1" height="26.0" fill="#00e4ff"/>
<rect x="275" y="556.3" width="1" height="28.7" fill="#f65a4f"/>
<rect x="277" y="553.6" width="1" height="31.4" fill="#f65a4f"/>
<rect x="280" y="554.5" width="1" height="30.5" fill="#f65a4f"/>
<rect x="282" y="550.0" width="1" height="35.0" fill="#f65a4f"/>
<rect x="285" y="540.0" width="1" height="45.0" fill="#f65a4f"/>
<rect x="287" y="537.2" width="1" height="47.8" fill="#f65a4f"/>
<rect x="290" y="538.1" width="1" height="46.9" fill="#f65a4f"/>
<rect x="292" y="541.8" width="1" height="43.2" fill="#f65a4f"/>
<rect x="295" y="540.0" width="1" height="45.0" fill="#f65a4f"/>
<rect x="297" y="529.1" width="1" height="55.9" fill="#f65a4f"/>
<rect x="300" y="539.1" width="1" height="45.9" fill="#00e4ff"/>
<rect x="302" y="545.4" width="1" height="39.6" fill="#f65a4f"/>
<rect x="305" y="549.0" width="1" height="36.0" fill="#f65a4f"/>
<rect x="307" y="536.3" width="1" height="48.7" fill="#f65a4f"/>
<rect x="310" y="536.3" width="1" height="48.7" fill="#00e4ff"/>
<rect x="312" y="546.3" width="1" height="38.7" fill="#f65a4f"/>
<rect x="315" y="542.7" width="1" height="42.3" fill="#f65a4f"/>
<rect x="317" y="543.6" width="1" height="41.4" fill="#f65a4f"/>
<rect x="320" y="535.4" width="1" height="49.6" fill="#f65a4f"/>
<rect x="322" y="530.9" width="1" height="54.1" fill="#f65a4f"/>
<rect x="325" y="533.6" width="1" height="51.4" fill="#00e4ff"/>
<rect x="327" y="542.7" width="1" height="42.3" fill="#f65a4f"/>
<rect x="330" y="534.5" width="1" height="50.5" fill="#f65a4f"/>
<rect x="332" y="531.8" width="1" height="53.2" fill="#f65a4f"/>
<rect x="335" y="531.8" width="1" height="53.2" fill="#00e4ff"/>
<rect x="337" y="533.6" width="1" height="51.4" fill="#f65a4f"/>
<rect x="340" y="523.6" width="1" height="61.4" fill="#f65a4f"/>
<rect x="342" y="510.9" width="1" height="74.1" fill="#00e4ff"/>
<rect x="345" y="527.2" width="1" height="57.8" fill="#f65a4f"/>
<rect x="347" y="525.4" width="1" height="59.6" fill="#f65a4f"/>
<rect x="350" y="528.2" width="1" height="56.8" fill="#f65a4f"/>
<rect x="352" y="530.0" width="1" height="55.0" fill="#00e4ff"/>
<rect x="355" y="527.2" width="1" height="57.8" fill="#f65a4f"/>
<rect x="357" y="518.2" width="1" height="66.8" fill="#00e4ff"/>
<rect x="360" y="540.0" width="1" height="45.0" fill="#f65a4f"/>
<rect x="362" y="539.1" width="1" height="45.9" fill="#00e4ff"/>
<rect x="365" y="541.8" width="1" height="43.2" fill="#f65a4f"/>
<rect x="367" y="536.3" width="1" height="48.7" fill="#00e4ff"/>
<rect x="370" y="542.7" width="1" height="42.3" fill="#00e4ff"/>
<rect x="372" y="550.0" width="1" height="35.0" fill="#00e4ff"/>
<rect x="375" y="550.0" width="1" height="35.0" fill="#f65a4f"/>
<rect x="377" y="542.7" width="1" height="42.3" fill="#f65a4f"/>
<rect x="380" y="541.8" width="1" height="43.2" fill="#f65a4f"/>
<rect x="382" y="540.0" width="1" height="45.0" fill="#00e4ff"/>
<rect x="385" y="546.3" width="1" height="38.7" fill="#f65a4f"/>
<rect x="387" y="546.3" width="1" height="38.7" fill="#00e4ff"/>
<rect x="390" y="551.8" width="1" height="33.2" fill="#00e4ff"/>
<rect x="392" y="546.3" width="1" height="38.7" fill="#f65a4f"/>
<rect x="395" y="540.0" width="1" height="45.0" fill="#f65a4f"/>
<rect x="397" y="541.8" width="1" height="43.2" fill="#f65a4f"/>
<rect x="400" y="528.2" width="1" height="56.8" fill="#f65a4f"/>
<rect x="402" y="526.3" width="1" height="58.7" fill="#f65a4f"/>
<rect x="405" y="523.6" width="1" height="61.4" fill="#f65a4f"/>
<rect x="407" y="526.3" width="1" height="58.7" fill="#f65a4f"/>
<rect x="410" y="517.3" width="1" height="67.7" fill="#00e4ff"/>
<rect x="412" y="531.8" width="1" height="53.2" fill="#00e4ff"/>
<rect x="415" y="529.1" width="1" height="55.9" fill="#f65a4f"/>
<rect x="417" y="531.8" width="1" height="53.2" fill="#f65a4f"/>
<rect x="420" y="531.8" width="1" height="53.2" fill="#00e4ff"/>
<rect x="422" y="526.3" width="1" height="58.7" fill="#f65a4f"/>
<rect x="425" y="518.2" width="1" height="66.8" fill="#f65a4f"/>
<rect x="427" y="510.9" width="1" height="74.1" fill="#f65a4f"/>
<rect x="430" y="522.7" width="1" height="62.3" fill="#00e4ff"/>
<rect x="432" y="532.7" width="1" height="52.3" fill="#00e4ff"/>
<rect x="435" y="535.4" width="1" height="49.6" fill="#f65a4f"/>
<rect x="437" y="530.0" width="1" height="55.0" fill="#f65a4f"/>
<rect x="440" y="529.1" width="1" height="55.9" fill="#00e4ff"/>
<rect x="442" y="537.2" width="1" height="47.8" fill="#00e4ff"/>
<rect x="445" y="538.1" width="1" height="46.9" fill="#f65a4f"/>
<rect x="447" y="540.9" width="1" height="44.1" fill="#00e4ff"/>
<rect x="450" y="544.5" width="1" height="40.5" fill="#00e4ff"/>
<rect x="452" y="543.6" width="1" height="41.4" fill="#f65a4f"/>
<rect x="455" y="537.2" width="1" height="47.8" fill="#00e4ff"/>
<rect x="457" y="534.5" width="1" height="50.5" fill="#00e4ff"/>
<rect x="460" y="536.3" width="1" height="48.7" fill="#00e4ff"/>
<rect x="462" y="526.3" width="1" height="58.7" fill="#00e4ff"/>
<rect x="465" y="522.7" width="1" height="62.3" fill="#f65a4f"/>
<rect x="467" y="532.7" width="1" height="52.3" fill="#00e4ff"/>
<rect x="470" y="533.6" width="1" height="51.4" fill="#f65a4f"/>
<rect x="472" y="536.3" width="1" height="48.7" fill="#00e4ff"/>
<rect x="475" y="512.7" width="1" height="72.3" fill="#f65a4f"/>
<rect x="477" y="523.6" width="1" height="61.4" fill="#00e4ff"/>
<rect x="480" y="525.4" width="1" height="59.6" fill="#00e4ff"/>
<rect x="482" y="530.0" width="1" height="55.0" fill="#f65a4f"/>
<rect x="485" y="533.6" width="1" height="51.4" fill="#f65a4f"/>
<rect x="487" y="529.1" width="1" height="55.9" fill="#f65a4f"/>
<rect x="490" y="527.2" width="1" height="57.8" fill="#00e4ff"/>
<rect x="492" y="532.7" width="1" height="52.3" fill="#00e4ff"/>
<rect x="495" y="541.8" width="1" height="43.2" fill="#f65a4f"/>
<rect x="497" y="542.7" width="1" height="42.3" fill="#f65a4f"/>
<rect x="500" y="538.1" width="1" height="46.9" fill="#f65a4f"/>
<rect x="502" y="540.9" width="1" height="44.1" fill="#f65a4f"/>
<rect x="505" y="538.1" width="1" height="46.9" fill="#f65a4f"/>
<rect x="507" y="537.2" width="1" height="47.8" fill="#f65a4f"/>
<rect x="510" y="530.0" width="1" height="55.0" fill="#00e4ff"/>
<rect x="512" y="537.2" width="1" height="47.8" fill="#f65a4f"/>
<rect x="515" y="538.1" width="1" height="46.9" fill="#00e4ff"/>
<rect x="517" y="547.2" width="1" height="37.8" fill="#f65a4f"/>
<rect x="520" y="544.5" width="1" height="40.5" fill="#00e4ff"/>
<rect x="522" y="553.6" width="1" height="31.4" fill="#00e4ff"/>
<rect x="525" y="552.7" width="1" height="32.3" fill="#f65a4f"/>
<rect x="527" y="552.7" width="1" height="32.3" fill="#f65a4f"/>
<rect x="530" y="553.6" width="1" height="31.4" fill="#00e4ff"/>
<rect x="532" y="560.9" width="1" height="24.1" fill="#00e4ff"/>
<rect x="535" y="554.5" width="1" height="30.5" fill="#f65a4f"/>
<rect x="537" y="541.8" width="1" height="43.2" fill="#f65a4f"/>
<rect x="540" y="538.1" width="1" height="46.9" fill="#00e4ff"/>
<rect x="542" y="551.8" width="1" height="33.2" fill="#00e4ff"/>
<rect x="545" y="549.0" width="1" height="36.0" fill="#f65a4f"/>
<rect x="547" y="543.6" width="1" height="41.4" fill="#f65a4f"/>
<rect x="550" y="544.5" width="1" height="40.5" fill="#f65a4f"/>
<rect x="552" y="538.1" width="1" height="46.9" fill="#00e4ff"/>
<rect x="555" y="545.4" width="1" height="39.6" fill="#f65a4f"/>
<rect x="557" y="550.9" width="1" height="34.1" fill="#00e4ff"/>
<rect x="560" y="552.7" width="1" height="32.3" fill="#00e4ff"/>
<rect x="562" y="556.3" width="1" height="28.7" fill="#00e4ff"/>
<rect x="565" y="553.6" width="1" height="31.4" fill="#00e4ff"/>
<rect x="567" y="543.6" width="1" height="41.4" fill="#00e4ff"/>
<rect x="570" y="551.8" width="1" height="33.2" fill="#f65a4f"/>
<rect x="572" y="546.3" width="1" height="38.7" fill="#f65a4f"/>
<rect x="575" y="549.0" width="1" height="36.0" fill="#f65a4f"/>
<rect x="577" y="547.2" width="1" height="37.8" fill="#00e4ff"/>
<rect x="580" y="548.1" width="1" height="36.9" fill="#00e4ff"/>
<rect x="582" y="559.0" width="1" height="26.0" fill="#00e4ff"/>
<rect x="585" y="561.8" width="1" height="23.2" fill="#f65a4f"/>
<rect x="587" y="554.5" width="1" height="30.5" fill="#f65a4f"/>
<rect x="590" y="560.9" width="1" height="24.1" fill="#00e4ff"/>
<rect x="592" y="564.5" width="1" height="20.5" fill="#f65a4f"/>
<rect x="595" y="556.3" width="1" height="28.7" fill="#00e4ff"/>
<rect x="597" y="562.7" width="1" height="22.3" fill="#00e4ff"/>
<rect x="600" y="559.9" width="1" height="25.1" fill="#f65a4f"/>
<rect x="602" y="557.2" width="1" height="27.8" fill="#00e4ff"/>
<rect x="605" y="566.3" width="1" height="18.7" fill="#f65a4f"/>
<rect x="607" y="561.8" width="1" height="23.2" fill="#f65a4f"/>
<rect x="610" y="559.9" width="1" height="25.1" fill="#f65a4f"/>
<rect x="612" y="563.6" width="1" height="21.4" fill="#00e4ff"/>
<rect x="615" y="566.3" width="1" height="18.7" fill="#f65a4f"/>
<rect x="617" y="563.6" width="1" height="21.4" fill="#00e4ff"/>
<rect x="620" y="570.8" width="1" height="14.2" fill="#f65a4f"/>
<rect x="622" y="569.9" width="1" height="15.1" fill="#00e4ff"/>
<rect x="625" y="571.8" width="1" height="13.2" fill="#f65a4f"/>
<rect x="627" y="563.6" width="1" height="21.4" fill="#f65a4f"/>
<rect x="630" y="564.5" width="1" height="20.5" fill="#f65a4f"/>
<rect x="632" y="550.9" width="1" height="34.1" fill="#f65a4f"/>
<rect x="635" y="559.0" width="1" height="26.0" fill="#f65a4f"/>
<rect x="637" y="559.0" width="1" height="26.0" fill="#00e4ff"/>
<rect x="640" y="556.3" width="1" height="28.7" fill="#f65a4f"/>
<rect x="642" y="550.0" width="1" height="35.0" fill="#f65a4f"/>
<rect x="645" y="551.8" width="1" height="33.2" fill="#00e4ff"/>
<rect x="647" y="558.1" width="1" height="26.9" fill="#f65a4f"/>
<rect x="650" y="544.5" width="1" height="40.5" fill="#00e4ff"/>
<rect x="652" y="557.2" width="1" height="27.8" fill="#f65a4f"/>
<rect x="655" y="553.6" width="1" height="31.4" fill="#f65a4f"/>
<rect x="657" y="554.5" width="1" height="30.5" fill="#f65a4f"/>
<rect x="660" y="556.3" width="1" height="28.7" fill="#f65a4f"/>
<rect x="662" y="559.0" width="1" height="26.0" fill="#00e4ff"/>
<rect x="665" y="563.6" width="1" height="21.4" fill="#f65a4f"/>
<rect x="667" y="562.7" width="1" height="22.3" fill="#00e4ff"/>
<rect x="670" y="564.5" width="1" height="20.5" fill="#00e4ff"/>
<rect x="672" y="567.2" width="1" height="17.8" fill="#00e4ff"/>
<rect x="675" y="554.5" width="1" height="30.5" fill="#f65a4f"/>
<rect x="677" y="537.2" width="1" height="47.8" fill="#f65a4f"/>
<rect x="680" y="547.2" width="1" height="37.8" fill="#f65a4f"/>
<rect x="682" y="540.9" width="1" height="44.1" fill="#f65a4f"/>
<rect x="685" y="546.3" width="1" height="38.7" fill="#00e4ff"/>
<rect x="687" y="552.7" width="1" height="32.3" fill="#f65a4f"/>
<rect x="690" y="553.6" width="1" height="31.4" fill="#00e4ff"/>
<rect x="692" y="554.5" width="1" height="30.5" fill="#00e4ff"/>
<rect x="695" y="560.9" width="1" height="24.1" fill="#f65a4f"/>
<rect x="697" y="550.9" width="1" height="34.1" fill="#00e4ff"/>
<rect x="700" y="558.1" width="1" height="26.9" fill="#00e4ff"/>
<rect x="702" y="562.7" width="1" height="22.3" fill="#f65a4f"/>
<rect x="705" y="559.0" width="1" height="26.0" fill="#f65a4f"/>
<rect x="707" y="558.1" width="1" height="26.9" fill="#00e4ff"/>
<rect x="710" y="562.7" width="1" height="22.3" fill="#f65a4f"/>
<rect x="712" y="558.1" width="1" height="26.9" fill="#00e4ff"/>
<rect x="715" y="559.0" width="1" height="26.0" fill="#f65a4f"/>
<rect x="717" y="553.6" width="1" height="31.4" fill="#00e4ff"/>
<rect x="720" y="559.9" width="1" height="25.1" fill="#00e4ff"/>
<rect x="722" y="562.7" width="1" height="22.3" fill="#f65a4f"/>
<rect x="725" y="558.1" width="1" height="26.9" fill="#f65a4f"/>
<rect x="727" y="559.9" width="1" height="25.1" fill="#f65a4f"/>
<rect x="730" y="562.7" width="1" height="22.3" fill="#00e4ff"/>
<rect x="732" y="567.2" width="1" height="17.8" fill="#f65a4f"/>
<rect x="735" y="564.5" width="1" height="20.5" fill="#00e4ff"/>
<rect x="737" y="567.2" width="1" height="17.8" fill="#f65a4f"/>
<rect x="740" y="567.2" width="1" height="17.8" fill="#00e4ff"/>
<rect x="742" y="568.1" width="1" height="16.9" fill="#00e4ff"/>
<rect x="745" y="568.1" width="1" height="16.9" fill="#f65a4f"/>
<rect x="747" y="567.2" width="1" height="17.8" fill="#00e4ff"/>
<rect x="750" y="565.4" width="1" height="19.6" fill="#f65a4f"/>
<rect x="752" y="559.9" width="1" height="25.1" fill="#f65a4f"/>
<rect x="755" y="560.9" width="1" height="24.1" fill="#00e4ff"/>
<rect x="757" y="559.0" width="1" height="26.0" fill="#f65a4f"/>
<rect x="760" y="560.9" width="1" height="24.1" fill="#f65a4f"/>
<rect x="762" y="559.0" width="1" height="26.0" fill="#00e4ff"/>
<rect x="765" y="564.5" width="1" height="20.5" fill="#00e4ff"/>
<rect x="767" y="567.2" width="1" height="17.8" fill="#f65a4f"/>
<rect x="770" y="561.8" width="1" height="23.2" fill="#00e4ff"/>
<rect x="772" y="569.0" width="1" height="16.0" fill="#f65a4f"/>
<rect x="775" y="568.1" width="1" height="16.9" fill="#f65a4f"/>
<rect x="777" y="569.0" width="1" height="16.0" fill="#00e4ff"/>
<rect x="780" y="569.0" width="1" height="16.0" fill="#00e4ff"/>
<rect x="782" y="560.9" width="1" height="24.1" fill="#00e4ff"/>
<rect x="785" y="565.4" width="1" height="19.6" fill="#f65a4f"/>
<rect x="787" y="578.1" width="1" height="6.9" fill="#00e4ff"/>
<rect x="790" y="559.9" width="1" height="25.1" fill="#f65a4f"/>
<rect x="792" y="561.8" width="1" height="23.2" fill="#00e4ff"/>
<rect x="795" y="566.3" width="1" height="18.7" fill="#f65a4f"/>
<rect x="797" y="567.2" width="1" height="17.8" fill="#00e4ff"/>
<rect x="800" y="565.4" width="1" height="19.6" fill="#f65a4f"/>
<rect x="802" y="567.2" width="1" height="17.8" fill="#00e4ff"/>
<rect x="805" y="569.0" width="1" height="16.0" fill="#f65a4f"/>
<rect x="807" y="568.1" width="1" height="16.9" fill="#f65a4f"/>
<rect x="810" y="566.3" width="1" height="18.7" fill="#00e4ff"/>
<rect x="812" y="569.0" width="1" height="16.0" fill="#00e4ff"/>
<rect x="815" y="571.8" width="1" height="13.2" fill="#f65a4f"/>
<rect x="817" y="570.8" width="1" height="14.2" fill="#f65a4f"/>
<rect x="820" y="566.3" width="1" height="18.7" fill="#00e4ff"/>
<rect x="822" y="566.3" width="1" height="18.7" fill="#00e4ff"/>
<rect x="825" y="569.0" width="1" height="16.0" fill="#00e4ff"/>
<rect x="827" y="569.0" width="1" height="16.0" fill="#f65a4f"/>
<rect x="830" y="570.8" width="1" height="14.2" fill="#00e4ff"/>
<rect x="832" y="570.8" width="1" height="14.2" fill="#f65a4f"/>
<rect x="835" y="571.8" width="1" height="13.2" fill="#00e4ff"/>
<rect x="837" y="570.8" width="1" height="14.2" fill="#f65a4f"/>
<rect x="840" y="571.8" width="1" height="13.2" fill="#00e4ff"/>
<rect x="842" y="571.8" width="1" height="13.2" fill="#00e4ff"/>
<rect x="845" y="568.1" width="1" height="16.9" fill="#f65a4f"/>
<rect x="847" y="566.3" width="1" height="18.7" fill="#f65a4f"/>
<rect x="850" y="566.3" width="1" height="18.7" fill="#00e4ff"/>
<rect x="852" y="569.0" width="1" height="16.0" fill="#f65a4f"/>
<rect x="855" y="564.5" width="1" height="20.5" fill="#f65a4f"/>
<rect x="857" y="568.1" width="1" height="16.9" fill="#00e4ff"/>
<rect x="860" y="566.3" width="1" height="18.7" fill="#f65a4f"/>
<rect x="862" y="561.8" width="1" height="23.2" fill="#00e4ff"/>
<rect x="865" y="564.5" width="1" height="20.5" fill="#f65a4f"/>
<rect x="867" y="566.3" width="1" height="18.7" fill="#00e4ff"/>
<rect x="870" y="567.2" width="1" height="17.8" fill="#f65a4f"/>
<rect x="872" y="561.8" width="1" height="23.2" fill="#f65a4f"/>
<rect x="875" y="559.9" width="1" height="25.1" fill="#f65a4f"/>
<rect x="877" y="558.1" width="1" height="26.9" fill="#f65a4f"/>
<rect x="880" y="566.3" width="1" height="18.7" fill="#f65a4f"/>
<rect x="882" y="564.5" width="1" height="20.5" fill="#f65a4f"/>
<rect x="885" y="569.0" width="1" height="16.0" fill="#00e4ff"/>
<rect x="887" y="572.7" width="1" height="12.3" fill="#00e4ff"/>
<rect x="890" y="573.6" width="1" height="11.4" fill="#f65a4f"/>
<rect x="892" y="570.8" width="1" height="14.2" fill="#f65a4f"/>
<rect x="895" y="569.9" width="1" height="15.1" fill="#f65a4f"/>
<rect x="897" y="569.0" width="1" height="16.0" fill="#f65a4f"/>
<rect x="900" y="568.1" width="1" height="16.9" fill="#f65a4f"/>
<rect x="902" y="557.2" width="1" height="27.8" fill="#f65a4f"/>
<rect x="905" y="554.1" width="1" height="30.9" fill="#f65a4f"/>
<rect x="907" y="561.8" width="1" height="23.2" fill="#00e4ff"/>
<rect x="910" y="559.9" width="1" height="25.1" fill="#00e4ff"/>
<rect x="912" y="563.6" width="1" height="21.4" fill="#f65a4f"/>
<rect x="915" y="569.0" width="1" height="16.0" fill="#f65a4f"/>
<rect x="917" y="567.2" width="1" height="17.8" fill="#00e4ff"/>
<rect x="920" y="569.0" width="1" height="16.0" fill="#00e4ff"/>
<rect x="922" y="568.1" width="1" height="16.9" fill="#f65a4f"/>
<rect x="925" y="567.2" width="1" height="17.8" fill="#f65a4f"/>
<rect x="927" y="567.2" width="1" height="17.8" fill="#f65a4f"/>
<rect x="930" y="561.8" width="1" height="23.2" fill="#f65a4f"/>
<rect x="932" y="564.5" width="1" height="20.5" fill="#00e4ff"/>
<rect x="935" y="565.4" width="1" height="19.6" fill="#00e4ff"/>
<rect x="937" y="567.2" width="1" height="17.8" fill="#00e4ff"/>
<rect x="940" y="567.2" width="1" height="17.8" fill="#f65a4f"/>
<rect x="942" y="569.0" width="1" height="16.0" fill="#00e4ff"/>
<rect x="945" y="558.1" width="1" height="26.9" fill="#f65a4f"/>
<rect x="947" y="567.2" width="1" height="17.8" fill="#f65a4f"/>
<rect x="950" y="568.1" width="1" height="16.9" fill="#00e4ff"/>
<rect x="952" y="569.0" width="1" height="16.0" fill="#00e4ff"/>
<rect x="955" y="570.8" width="1" height="14.2" fill="#f65a4f"/>
<rect x="957" y="559.9" width="1" height="25.1" fill="#00e4ff"/>
<rect x="960" y="567.2" width="1" height="17.8" fill="#00e4ff"/>
<rect x="962" y="573.0" width="1" height="12.0" fill="#f65a4f"/>
<rect x="965" y="574.1" width="1" height="10.9" fill="#00e4ff"/>
<rect x="967" y="574.1" width="1" height="10.9" fill="#f65a4f"/>
<rect x="970" y="572.6" width="1" height="12.4" fill="#00e4ff"/>
<rect x="972" y="573.7" width="1" height="11.3" fill="#00e4ff"/>
<rect x="975" y="574.5" width="1" height="10.5" fill="#00e4ff"/>
<rect x="977" y="570.0" width="1" height="15.0" fill="#f65a4f"/>
<rect x="980" y="570.0" width="1" height="15.0" fill="#00e4ff"/>
<rect x="982" y="572.6" width="1" height="12.4" fill="#f65a4f"/>
<rect x="985" y="567.1" width="1" height="17.9" fill="#00e4ff"/>
<rect x="987" y="568.9" width="1" height="16.1" fill="#00e4ff"/>
<rect x="990" y="574.1" width="1" height="10.9" fill="#f65a4f"/>
<rect x="992" y="572.6" width="1" height="12.4" fill="#f65a4f"/>
<rect x="995" y="572.6" width="1" height="12.4" fill="#00e4ff"/>
<rect x="997" y="574.8" width="1" height="10.2" fill="#00e4ff"/>
<rect x="1000" y="575.2" width="1" height="9.8" fill="#f65a4f"/>
<rect x="1002" y="574.7" width="1" height="10.3" fill="#00e4ff"/>
<rect x="1005" y="573.2" width="1" height="11.8" fill="#00e4ff"/>
<rect x="1007" y="574.7" width="1" height="10.3" fill="#00e4ff"/>
<rect x="1010" y="574.7" width="1" height="10.3" fill="#f65a4f"/>
<rect x="1012" y="574.7" width="1" height="10.3" fill="#f65a4f"/>
<rect x="1015" y="574.7" width="1" height="10.3" fill="#00e4ff"/>
<rect x="1017" y="575.6" width="1" height="9.4" fill="#00e4ff"/>
<rect x="1020" y="576.1" width="1" height="8.9" fill="#f65a4f"/>
<rect x="1022" y="575.6" width="1" height="9.4" fill="#00e4ff"/>
<rect x="1025" y="576.1" width="1" height="8.9" fill="#f65a4f"/>
<rect x="1027" y="565.9" width="1" height="19.1" fill="#f65a4f"/>
<rect x="1030" y="567.8" width="1" height="17.2" fill="#00e4ff"/>
<rect x="1032" y="573.2" width="1" height="11.8" fill="#f65a4f"/>
<rect x="1035" y="571.2" width="1" height="13.8" fill="#f65a4f"/>
<rect x="1037" y="572.2" width="1" height="12.8" fill="#00e4ff"/>
<rect x="1040" y="572.2" width="1" height="12.8" fill="#f65a4f"/>
<rect x="1042" y="572.7" width="1" height="12.3" fill="#00e4ff"/>
<rect x="1045" y="569.8" width="1" height="15.2" fill="#00e4ff"/>
<rect x="1047" y="573.7" width="1" height="11.3" fill="#f65a4f"/>
<rect x="1050" y="570.3" width="1" height="14.7" fill="#f65a4f"/>
<rect x="1052" y="568.8" width="1" height="16.2" fill="#00e4ff"/>
<rect x="1055" y="570.3" width="1" height="14.7" fill="#f65a4f"/>
<rect x="1057" y="572.7" width="1" height="12.3" fill="#f65a4f"/>
<rect x="1060" y="571.2" width="1" height="13.8" fill="#00e4ff"/>
<rect x="1062" y="572.7" width="1" height="12.3" fill="#f65a4f"/>
<rect x="1065" y="571.2" width="1" height="13.8" fill="#00e4ff"/>
<rect x="1067" y="567.8" width="1" height="17.2" fill="#00e4ff"/>
<rect x="1070" y="571.2" width="1" height="13.8" fill="#f65a4f"/>
<rect x="1072" y="568.8" width="1" height="16.2" fill="#f65a4f"/>
<rect x="1075" y="567.8" width="1" height="17.2" fill="#f65a4f"/>
<rect x="1077" y="571.2" width="1" height="13.8" fill="#00e4ff"/>
<rect x="1080" y="571.2" width="1" height="13.8" fill="#f65a4f"/>
<rect x="1082" y="564.9" width="1" height="20.1" fill="#f65a4f"/>
<rect x="1085" y="563.9" width="1" height="21.1" fill="#f65a4f"/>
<rect x="1087" y="565.9" width="1" height="19.1" fill="#f65a4f"/>
<rect x="1090" y="564.9" width="1" height="20.1" fill="#00e4ff"/>
<rect x="1092" y="569.8" width="1" height="15.2" fill="#00e4ff"/>
<rect x="1095" y="564.9" width="1" height="20.1" fill="#f65a4f"/>
<polyline points="0.0,567.0 1.0,567.0 2.0,567.0 3.0,567.0 4.0,567.0 5.0,567.0 6.0,567.0 7.0,567.0 8.0,567.0 9.0,567.0 10.0,567.0 11.0,567.0 12.0,567.0 13.0,567.0 14.0,567.0 15.0,568.6 16.0,568.6 17.0,568.6 18.0,568.6 19.0,568.6 20.0,568.6 21.0,567.8 22.0,567.0 23.0,567.0 24.0,567.0 25.0,567.0 26.0,567.0 27.0,567.0 28.0,567.0 29.0,567.0 30.0,567.0 31.0,567.0 32.0,567.0 33.0,567.0 34.0,567.0 35.0,567.0 36.0,567.0 37.0,567.0 38.0,567.0 39.0,567.0 40.0,567.0 41.0,567.0 42.0,567.0 43.0,567.0 44.0,567.0 45.0,567.7 46.0,568.5 47.0,569.2 48.0,569.1 49.0,569.1 50.0,569.1 51.0,569.1 52.0,569.1 53.0,569.1 54.0,569.1 55.0,569.1 56.0,568.9 57.0,568.6 58.0,568.2 59.0,567.8 60.0,567.4 61.0,567.0 62.0,566.6 63.0,566.2 64.0,565.8 65.0,565.4 66.0,565.0 67.0,564.8 68.0,564.6 69.0,564.4 70.0,564.2 71.0,563.7 72.0,563.0 73.0,562.4 74.0,561.8 75.0,561.2 76.0,560.6 77.0,560.0 78.0,559.7 79.0,559.7 80.0,559.7 81.0,559.7 82.0,559.7 83.0,559.8 84.0,560.0 85.0,560.1 86.0,560.3 87.0,560.5 88.0,560.8 89.0,561.2 90.0,561.6 91.0,562.0 92.0,562.4 93.0,562.8 94.0,563.1 95.0,563.3 96.0,563.3 97.0,563.3 98.0,563.3 99.0,563.3 100.0,563.3 101.0,563.5 102.0,563.4 103.0,562.8 104.0,562.3 105.0,561.7 106.0,561.1 107.0,560.5 108.0,559.9 109.0,559.3 110.0,558.8 111.0,558.2 112.0,557.6 113.0,556.9 114.0,556.0 115.0,555.0 116.0,554.1 117.0,553.2 118.0,552.3 119.0,551.4 120.0,550.5 121.0,549.5 122.0,548.6 123.0,547.7 124.0,546.7 125.0,545.6 126.0,544.4 127.0,543.3 128.0,542.2 129.0,541.1 130.0,539.9 131.0,539.0 132.0,539.0 133.0,538.9 134.0,538.8 135.0,538.7 136.0,538.6 137.0,538.5 138.0,538.5 139.0,538.4 140.0,538.3 141.0,538.2 142.0,538.2 143.0,538.5 144.0,538.8 145.0,539.1 146.0,539.4 147.0,539.7 148.0,540.0 149.0,540.3 150.0,540.6 151.0,541.0 152.0,541.5 153.0,542.0 154.0,542.5 155.0,543.0 156.0,543.5 157.0,543.7 158.0,543.9 159.0,544.1 160.0,544.2 161.0,544.4 162.0,544.6 163.0,544.7 164.0,544.9 165.0,545.1 166.0,545.2 167.0,545.4 168.0,545.5 169.0,545.6 170.0,545.8 171.0,545.9 172.0,546.0 173.0,546.1 174.0,546.3 175.0,546.4 176.0,546.6 177.0,546.8 178.0,547.0 179.0,547.1 180.0,547.3 181.0,547.5 182.0,547.8 183.0,548.2 184.0,548.7 185.0,549.2 186.0,549.7 187.0,550.1 188.0,550.6 189.0,551.1 190.0,551.6 191.0,552.0 192.0,552.5 193.0,553.0 194.0,553.5 195.0,553.9 196.0,554.4 197.0,554.9 198.0,555.4 199.0,555.8 200.0,556.3 201.0,556.1 202.0,555.9 203.0,555.7 204.0,555.5 205.0,555.3 206.0,555.1 207.0,554.9 208.0,554.7 209.0,554.5 210.0,554.7 211.0,554.9 212.0,555.1 213.0,555.3 214.0,555.5 215.0,555.7 216.0,555.9 217.0,556.1 218.0,556.3 219.0,556.6 220.0,557.0 221.0,557.4 222.0,557.8 223.0,558.2 224.0,558.6 225.0,559.0 226.0,559.4 227.0,559.8 228.0,560.2 229.0,560.6 230.0,561.0 231.0,561.4 232.0,561.8 233.0,562.2 234.0,562.6 235.0,563.0 236.0,563.4 237.0,563.6 238.0,563.7 239.0,563.8 240.0,563.9 241.0,564.0 242.0,564.1 243.0,564.2 244.0,564.3 245.0,564.4 246.0,564.5 247.0,564.5 248.0,564.5 249.0,564.5 250.0,564.5 251.0,564.5 252.0,564.5 253.0,564.5 254.0,564.5 255.0,564.2 256.0,563.7 257.0,563.2 258.0,562.7 259.0,562.2 260.0,561.7 261.0,561.2 262.0,560.7 263.0,560.2 264.0,559.9 265.0,559.8 266.0,559.7 267.0,559.6 268.0,559.5 269.0,559.4 270.0,559.3 271.0,559.2 272.0,559.1 273.0,558.9 274.0,558.6 275.0,558.3 276.0,558.0 277.0,557.7 278.0,557.4 279.0,557.1 280.0,556.8 281.0,556.5 282.0,556.2 283.0,555.6 284.0,555.0 285.0,554.4 286.0,553.8 287.0,553.2 288.0,552.6 289.0,552.0 290.0,551.4 291.0,550.7 292.0,549.8 293.0,549.0 294.0,548.1 295.0,547.2 296.0,546.3 297.0,545.5 298.0,544.6 299.0,543.9 300.0,543.3 301.0,542.7 302.0,542.1 303.0,541.4 304.0,540.8 305.0,540.2 306.0,539.9 307.0,539.8 308.0,539.6 309.0,539.5 310.0,539.4 311.0,539.3 312.0,539.1 313.0,539.1 314.0,539.2 315.0,539.3 316.0,539.3 317.0,539.4 318.0,539.5 319.0,539.6 320.0,539.7 321.0,539.8 322.0,539.8 323.0,539.9 324.0,539.8 325.0,539.5 326.0,539.1 327.0,538.8 328.0,538.5 329.0,538.1 330.0,537.8 331.0,537.5 332.0,537.1 333.0,536.8 334.0,536.5 335.0,536.0 336.0,535.4 337.0,534.8 338.0,534.2 339.0,533.6 340.0,533.0 341.0,532.4 342.0,531.8 343.0,531.2 344.0,530.8 345.0,530.5 346.0,530.3 347.0,530.0 348.0,529.8 349.0,529.5 350.0,529.3 351.0,529.0 352.0,528.5 353.0,528.0 354.0,527.5 355.0,527.0 356.0,526.5 357.0,526.6 358.0,527.0 359.0,527.4 360.0,527.8 361.0,528.1 362.0,528.5 363.0,528.9 364.0,529.4 365.0,530.1 366.0,530.8 367.0,531.5 368.0,532.2 369.0,532.9 370.0,533.6 371.0,534.3 372.0,535.0 373.0,535.7 374.0,536.3 375.0,536.9 376.0,537.5 377.0,538.1 378.0,538.7 379.0,539.3 380.0,539.9 381.0,540.5 382.0,540.9 383.0,541.0 384.0,541.1 385.0,541.2 386.0,541.3 387.0,541.4 388.0,541.5 389.0,541.6 390.0,541.7 391.0,541.8 392.0,541.9 393.0,542.0 394.0,542.1 395.0,542.2 396.0,542.3 397.0,542.4 398.0,542.5 399.0,542.6 400.0,542.7 401.0,542.0 402.0,541.3 403.0,540.6 404.0,539.9 405.0,539.2 406.0,538.5 407.0,537.8 408.0,537.1 409.0,536.4 410.0,535.7 411.0,535.0 412.0,534.3 413.0,533.6 414.0,532.9 415.0,532.2 416.0,531.5 417.0,530.8 418.0,530.1 419.0,529.6 420.0,529.1 421.0,528.6 422.0,528.1 423.0,527.6 424.0,527.1 425.0,526.6 426.0,526.1 427.0,525.6 428.0,525.6 429.0,525.8 430.0,526.0 431.0,526.2 432.0,526.4 433.0,526.6 434.0,526.8 435.0,527.0 436.0,527.2 437.0,527.4 438.0,527.6 439.0,527.8 440.0,528.0 441.0,528.2 442.0,528.4 443.0,528.6 444.0,528.8 445.0,529.0 446.0,529.6 447.0,530.5 448.0,531.4 449.0,532.3 450.0,533.2 451.0,534.1 452.0,535.0 453.0,535.9 454.0,536.8 455.0,537.2 456.0,537.2 457.0,537.2 458.0,537.2 459.0,537.2 460.0,537.2 461.0,537.2 462.0,537.2 463.0,536.9 464.0,536.6 465.0,536.3 466.0,536.0 467.0,535.7 468.0,535.4 469.0,535.1 470.0,534.8 471.0,534.4 472.0,533.8 473.0,533.2 474.0,532.5 475.0,531.9 476.0,531.3 477.0,530.7 478.0,530.0 479.0,529.8 480.0,529.6 481.0,529.4 482.0,529.2 483.0,529.0 484.0,528.8 485.0,528.6 486.0,528.4 487.0,528.2 488.0,528.4 489.0,528.6 490.0,528.9 491.0,529.1 492.0,529.4 493.0,529.6 494.0,529.9 495.0,530.3 496.0,530.9 497.0,531.5 498.0,532.0 499.0,532.6 500.0,533.2 501.0,533.8 502.0,534.4 503.0,535.0 504.0,535.5 505.0,536.1 506.0,536.4 507.0,536.5 508.0,536.6 509.0,536.7 510.0,536.8 511.0,536.9 512.0,537.0 513.0,537.1 514.0,537.2 515.0,537.5 516.0,537.9 517.0,538.3 518.0,538.7 519.0,539.1 520.0,539.5 521.0,539.9 522.0,540.3 523.0,540.7 524.0,541.1 525.0,541.6 526.0,542.1 527.0,542.6 528.0,543.1 529.0,543.6 530.0,544.1 531.0,544.7 532.0,545.4 533.0,546.2 534.0,546.9 535.0,547.7 536.0,548.4 537.0,549.2 538.0,549.9 539.0,550.0 540.0,550.0 541.0,550.0 542.0,550.0 543.0,550.0 544.0,550.0 545.0,550.0 546.0,549.7 547.0,549.3 548.0,549.0 549.0,548.6 550.0,548.2 551.0,547.8 552.0,547.5 553.0,547.1 554.0,546.9 555.0,546.6 556.0,546.4 557.0,546.1 558.0,545.9 559.0,545.6 560.0,545.4 561.0,545.7 562.0,545.9 563.0,546.2 564.0,546.4 565.0,546.7 566.0,546.9 567.0,547.2 568.0,547.3 569.0,547.5 570.0,547.6 571.0,547.7 572.0,547.8 573.0,548.0 574.0,548.1 575.0,548.2 576.0,548.3 577.0,548.5 578.0,548.6 579.0,548.7 580.0,548.8 581.0,549.0 582.0,549.2 583.0,549.6 584.0,550.1 585.0,550.5 586.0,551.0 587.0,551.4 588.0,551.9 589.0,552.3 590.0,552.8 591.0,553.2 592.0,553.7 593.0,554.1 594.0,554.5 595.0,555.0 596.0,555.4 597.0,555.9 598.0,556.3 599.0,556.8 600.0,557.2 601.0,557.6 602.0,558.0 603.0,558.4 604.0,558.8 605.0,559.2 606.0,559.6 607.0,560.0 608.0,560.4 609.0,560.8 610.0,561.0 611.0,561.2 612.0,561.4 613.0,561.6 614.0,561.8 615.0,562.0 616.0,562.2 617.0,562.4 618.0,562.6 619.0,563.0 620.0,563.4 621.0,563.8 622.0,564.2 623.0,564.6 624.0,565.0 625.0,565.4 626.0,565.8 627.0,566.2 628.0,566.1 629.0,565.8 630.0,565.5 631.0,565.2 632.0,564.9 633.0,564.6 634.0,564.3 635.0,564.0 636.0,563.7 637.0,563.2 638.0,562.6 639.0,562.0 640.0,561.4 641.0,560.8 642.0,560.2 643.0,559.6 644.0,559.0 645.0,558.4 646.0,557.8 647.0,557.3 648.0,556.8 649.0,556.3 650.0,555.8 651.0,555.3 652.0,554.8 653.0,554.5 654.0,554.5 655.0,554.5 656.0,554.5 657.0,554.5 658.0,554.5 659.0,554.5 660.0,554.5 661.0,554.5 662.0,554.6 663.0,555.0 664.0,555.3 665.0,555.7 666.0,556.1 667.0,556.5 668.0,556.8 669.0,557.2 670.0,557.3 671.0,557.5 672.0,557.6 673.0,557.7 674.0,557.8 675.0,558.0 676.0,558.1 677.0,557.8 678.0,557.4 679.0,557.0 680.0,556.6 681.0,556.2 682.0,555.8 683.0,555.4 684.0,555.0 685.0,554.6 686.0,554.3 687.0,553.9 688.0,553.5 689.0,553.1 690.0,552.8 691.0,552.4 692.0,552.0 693.0,551.7 694.0,551.4 695.0,551.1 696.0,550.8 697.0,550.5 698.0,550.2 699.0,550.0 700.0,550.7 701.0,551.4 702.0,552.1 703.0,552.8 704.0,553.5 705.0,554.2 706.0,554.8 707.0,555.3 708.0,555.8 709.0,556.3 710.0,556.8 711.0,557.3 712.0,557.8 713.0,558.2 714.0,558.2 715.0,558.3 716.0,558.4 717.0,558.5 718.0,558.6 719.0,558.7 720.0,558.7 721.0,558.8 722.0,558.9 723.0,559.0 724.0,559.2 725.0,559.4 726.0,559.7 727.0,559.9 728.0,560.2 729.0,560.4 730.0,560.7 731.0,560.9 732.0,561.2 733.0,561.4 734.0,561.7 735.0,562.0 736.0,562.3 737.0,562.6 738.0,563.0 739.0,563.3 740.0,563.6 741.0,564.0 742.0,564.3 743.0,564.6 744.0,565.0 745.0,565.3 746.0,565.5 747.0,565.6 748.0,565.7 749.0,565.8 750.0,565.9 751.0,566.0 752.0,566.1 753.0,566.2 754.0,566.3 755.0,566.1 756.0,565.8 757.0,565.5 758.0,565.2 759.0,564.9 760.0,564.6 761.0,564.3 762.0,564.0 763.0,563.7 764.0,563.6 765.0,563.6 766.0,563.6 767.0,563.6 768.0,563.6 769.0,563.6 770.0,563.6 771.0,563.6 772.0,563.6 773.0,563.7 774.0,563.9 775.0,564.1 776.0,564.3 777.0,564.5 778.0,564.7 779.0,564.9 780.0,565.1 781.0,565.3 782.0,565.4 783.0,565.4 784.0,565.4 785.0,565.4 786.0,565.4 787.0,565.4 788.0,565.4 789.0,565.4 790.0,565.4 791.0,565.4 792.0,565.4 793.0,565.4 794.0,565.4 795.0,565.4 796.0,565.4 797.0,565.4 798.0,565.4 799.0,565.4 800.0,565.4 801.0,565.6 802.0,565.8 803.0,566.0 804.0,566.2 805.0,566.4 806.0,566.6 807.0,566.8 808.0,567.0 809.0,567.2 810.0,567.3 811.0,567.4 812.0,567.5 813.0,567.6 814.0,567.7 815.0,567.8 816.0,567.9 817.0,568.0 818.0,568.1 819.0,568.1 820.0,568.1 821.0,568.1 822.0,568.1 823.0,568.1 824.0,568.1 825.0,568.1 826.0,568.1 827.0,568.1 828.0,568.3 829.0,568.5 830.0,568.7 831.0,568.9 832.0,569.1 833.0,569.3 834.0,569.5 835.0,569.7 836.0,569.9 837.0,569.9 838.0,569.9 839.0,569.9 840.0,569.9 841.0,569.9 842.0,569.9 843.0,569.9 844.0,569.9 845.0,569.9 846.0,569.9 847.0,569.8 848.0,569.7 849.0,569.6 850.0,569.5 851.0,569.4 852.0,569.3 853.0,569.2 854.0,569.1 855.0,568.9 856.0,568.6 857.0,568.3 858.0,568.0 859.0,567.7 860.0,567.4 861.0,567.1 862.0,566.8 863.0,566.5 864.0,566.2 865.0,566.0 866.0,565.8 867.0,565.6 868.0,565.4 869.0,565.2 870.0,565.0 871.0,564.8 872.0,564.6 873.0,564.5 874.0,564.4 875.0,564.3 876.0,564.2 877.0,564.1 878.0,564.0 879.0,563.9 880.0,563.8 881.0,563.7 882.0,563.7 883.0,564.0 884.0,564.3 885.0,564.6 886.0,564.9 887.0,565.2 888.0,565.5 889.0,565.8 890.0,566.1 891.0,566.3 892.0,566.6 893.0,566.8 894.0,567.1 895.0,567.3 896.0,567.6 897.0,567.8 898.0,568.1 899.0,567.9 900.0,567.6 901.0,567.4 902.0,567.1 903.0,566.9 904.0,566.6 905.0,566.4 906.0,566.2 907.0,566.1 908.0,566.0 909.0,565.8 910.0,565.7 911.0,565.6 912.0,565.5 913.0,565.3 914.0,565.2 915.0,565.1 916.0,565.0 917.0,564.8 918.0,564.7 919.0,564.6 920.0,564.5 921.0,564.5 922.0,564.5 923.0,564.5 924.0,564.5 925.0,564.5 926.0,564.5 927.0,564.5 928.0,564.6 929.0,564.7 930.0,564.8 931.0,564.9 932.0,565.0 933.0,565.1 934.0,565.2 935.0,565.3 936.0,565.4 937.0,565.4 938.0,565.4 939.0,565.4 940.0,565.4 941.0,565.4 942.0,565.4 943.0,565.4 944.0,565.4 945.0,565.4 946.0,565.5 947.0,565.6 948.0,565.7 949.0,565.8 950.0,565.9 951.0,566.0 952.0,566.1 953.0,566.2 954.0,566.3 955.0,566.4 956.0,566.6 957.0,566.8 958.0,567.0 959.0,567.2 960.0,567.4 961.0,567.6 962.0,567.8 963.0,568.0 964.0,568.3 965.0,568.6 966.0,568.9 967.0,569.2 968.0,569.5 969.0,569.8 970.0,570.1 971.0,570.4 972.0,570.7 973.0,570.9 974.0,571.0 975.0,571.0 976.0,571.1 977.0,571.2 978.0,571.3 979.0,571.3 980.0,571.4 981.0,571.5 982.0,571.6 983.0,571.7 984.0,571.7 985.0,571.8 986.0,571.9 987.0,572.0 988.0,572.1 989.0,572.1 990.0,572.2 991.0,572.1 992.0,572.0 993.0,572.0 994.0,571.9 995.0,571.8 996.0,571.7 997.0,571.8 998.0,571.8 999.0,571.9 1000.0,571.9 1001.0,572.0 1002.0,572.0 1003.0,572.1 1004.0,572.1 1005.0,572.2 1006.0,572.4 1007.0,572.7 1008.0,573.1 1009.0,573.5 1010.0,573.7 1011.0,573.8 1012.0,573.8 1013.0,573.9 1014.0,574.0 1015.0,574.0 1016.0,574.1 1017.0,574.2 1018.0,574.2 1019.0,574.3 1020.0,574.4 1021.0,574.4 1022.0,574.5 1023.0,574.6 1024.0,574.6 1025.0,574.4 1026.0,574.1 1027.0,573.8 1028.0,573.5 1029.0,573.2 1030.0,573.0 1031.0,572.8 1032.0,572.6 1033.0,572.4 1034.0,572.2 1035.0,572.2 1036.0,572.1 1037.0,572.0 1038.0,572.0 1039.0,571.9 1040.0,571.9 1041.0,571.8 1042.0,571.8 1043.0,571.7 1044.0,571.6 1045.0,571.5 1046.0,571.4 1047.0,571.4 1048.0,571.3 1049.0,571.2 1050.0,571.2 1051.0,571.2 1052.0,571.2 1053.0,571.2 1054.0,571.2 1055.0,571.2 1056.0,571.2 1057.0,571.2 1058.0,571.2 1059.0,571.2 1060.0,571.2 1061.0,571.2 1062.0,571.2 1063.0,571.2 1064.0,571.2 1065.0,571.2 1066.0,571.2 1067.0,571.2 1068.0,571.2 1069.0,571.2 1070.0,571.2 1071.0,571.2 1072.0,571.2 1073.0,571.2 1074.0,571.2 1075.0,571.2 1076.0,571.2 1077.0,571.2 1078.0,571.2 1079.0,571.0 1080.0,570.8 1081.0,570.6 1082.0,570.4 1083.0,570.2 1084.0,570.0 1085.0,569.8 1086.0,569.6 1087.0,569.4 1088.0,569.2 1089.0,569.1 1090.0,568.9 1091.0,568.7 1092.0,568.6 1093.0,568.4" fill="none" stroke="#ff00ff" stroke-width="1"/>
<polyline points="0.0,566.4 1.0,567.7 2.0,569.0 3.0,569.3 4.0,569.3 5.0,569.3 6.0,569.3 7.0,569.2 8.0,569.1 9.0,569.0 10.0,569.0 11.0,568.9 12.0,568.8 13.0,568.7 14.0,568.6 15.0,568.4 16.0,568.1 17.0,567.9 18.0,567.6 19.0,567.4 20.0,567.1 21.0,566.7 22.0,566.4 23.0,566.4 24.0,566.4 25.0,566.4 26.0,566.4 27.0,566.4 28.0,566.4 29.0,566.4 30.0,566.4 31.0,566.4 32.0,566.4 33.0,566.4 34.0,566.4 35.0,566.7 36.0,566.9 37.0,567.2 38.0,567.4 39.0,567.7 40.0,567.9 41.0,568.2 42.0,568.4 43.0,568.7 44.0,569.2 45.0,569.7 46.0,570.1 47.0,570.6 48.0,571.1 49.0,571.6 50.0,572.1 51.0,572.1 52.0,571.4 53.0,570.8 54.0,570.0 55.0,569.0 56.0,568.0 57.0,567.0 58.0,566.1 59.0,565.1 60.0,564.0 61.0,562.7 62.0,561.5 63.0,560.2 64.0,559.8 65.0,559.6 66.0,559.4 67.0,559.3 68.0,559.6 69.0,559.9 70.0,560.2 71.0,560.5 72.0,560.9 73.0,561.3 74.0,561.6 75.0,561.2 76.0,560.6 77.0,560.0 78.0,559.6 79.0,559.3 80.0,559.0 81.0,558.8 82.0,558.5 83.0,558.6 84.0,559.0 85.0,559.4 86.0,560.0 87.0,561.0 88.0,561.9 89.0,562.9 90.0,563.4 91.0,564.0 92.0,564.5 93.0,565.2 94.0,566.0 95.0,566.7 96.0,567.5 97.0,568.2 98.0,567.6 99.0,566.9 100.0,566.2 101.0,565.1 102.0,564.0 103.0,562.9 104.0,561.8 105.0,560.7 106.0,559.6 107.0,558.5 108.0,557.4 109.0,556.3 110.0,554.9 111.0,553.5 112.0,552.1 113.0,550.7 114.0,549.3 115.0,547.9 116.0,546.5 117.0,545.1 118.0,543.7 119.0,542.4 120.0,541.1 121.0,539.8 122.0,538.5 123.0,537.2 124.0,535.9 125.0,534.6 126.0,533.3 127.0,532.0 128.0,532.2 129.0,532.7 130.0,533.2 131.0,533.7 132.0,534.2 133.0,535.1 134.0,536.4 135.0,537.8 136.0,539.2 137.0,540.6 138.0,541.9 139.0,543.3 140.0,544.5 141.0,544.9 142.0,545.2 143.0,545.5 144.0,545.9 145.0,546.2 146.0,545.3 147.0,543.8 148.0,542.3 149.0,540.9 150.0,541.2 151.0,541.6 152.0,541.9 153.0,542.2 154.0,542.6 155.0,542.9 156.0,543.2 157.0,543.6 158.0,543.9 159.0,544.2 160.0,544.7 161.0,545.7 162.0,546.7 163.0,547.7 164.0,547.9 165.0,547.5 166.0,547.1 167.0,546.7 168.0,546.3 169.0,545.9 170.0,545.5 171.0,545.1 172.0,544.7 173.0,544.6 174.0,545.0 175.0,545.3 176.0,545.6 177.0,545.9 178.0,546.3 179.0,546.6 180.0,547.1 181.0,548.3 182.0,549.5 183.0,550.8 184.0,552.0 185.0,553.2 186.0,553.5 187.0,553.5 188.0,553.4 189.0,553.4 190.0,553.3 191.0,553.2 192.0,553.2 193.0,553.1 194.0,553.0 195.0,553.0 196.0,552.9 197.0,552.9 198.0,552.8 199.0,552.7 200.0,552.7 201.0,552.9 202.0,553.1 203.0,553.3 204.0,553.5 205.0,553.7 206.0,553.9 207.0,554.1 208.0,554.3 209.0,554.5 210.0,555.0 211.0,555.5 212.0,556.0 213.0,556.5 214.0,557.0 215.0,557.5 216.0,558.0 217.0,558.5 218.0,559.0 219.0,559.4 220.0,559.8 221.0,560.2 222.0,560.6 223.0,561.0 224.0,561.4 225.0,561.8 226.0,562.2 227.0,562.6 228.0,562.9 229.0,563.2 230.0,563.5 231.0,563.8 232.0,564.1 233.0,564.4 234.0,564.7 235.0,565.0 236.0,565.3 237.0,565.6 238.0,566.0 239.0,566.3 240.0,566.6 241.0,567.0 242.0,567.1 243.0,566.8 244.0,566.5 245.0,566.2 246.0,565.9 247.0,565.6 248.0,565.3 249.0,565.0 250.0,564.7 251.0,564.4 252.0,563.6 253.0,562.9 254.0,562.1 255.0,561.4 256.0,560.6 257.0,559.9 258.0,559.1 259.0,558.4 260.0,557.6 261.0,556.9 262.0,556.4 263.0,556.6 264.0,556.9 265.0,557.1 266.0,557.4 267.0,557.6 268.0,557.9 269.0,558.1 270.0,558.1 271.0,558.1 272.0,558.1 273.0,558.1 274.0,558.1 275.0,558.1 276.0,558.1 277.0,557.4 278.0,556.4 279.0,555.4 280.0,554.4 281.0,553.4 282.0,552.4 283.0,551.4 284.0,550.4 285.0,549.4 286.0,548.1 287.0,546.6 288.0,545.1 289.0,543.6 290.0,542.1 291.0,540.8 292.0,540.3 293.0,539.8 294.0,539.3 295.0,538.8 296.0,538.3 297.0,537.8 298.0,537.3 299.0,537.5 300.0,537.7 301.0,538.0 302.0,538.2 303.0,538.5 304.0,538.7 305.0,539.0 306.0,539.3 307.0,539.7 308.0,540.0 309.0,540.4 310.0,540.8 311.0,541.2 312.0,541.5 313.0,541.7 314.0,541.6 315.0,541.5 316.0,541.4 317.0,541.2 318.0,541.1 319.0,541.0 320.0,540.8 321.0,540.3 322.0,539.8 323.0,539.3 324.0,538.8 325.0,538.3 326.0,537.8 327.0,537.3 328.0,536.9 329.0,536.5 330.0,536.2 331.0,535.8 332.0,535.4 333.0,535.0 334.0,534.7 335.0,534.4 336.0,534.3 337.0,534.1 338.0,533.9 339.0,533.8 340.0,533.4 341.0,531.6 342.0,529.9 343.0,528.1 344.0,527.0 345.0,526.5 346.0,526.0 347.0,525.5 348.0,525.0 349.0,524.5 350.0,524.0 351.0,523.8 352.0,524.4 353.0,525.1 354.0,525.8 355.0,526.4 356.0,527.1 357.0,527.7 358.0,528.4 359.0,529.0 360.0,529.6 361.0,530.2 362.0,530.9 363.0,531.5 364.0,532.4 365.0,533.7 366.0,534.9 367.0,536.2 368.0,537.4 369.0,538.7 370.0,539.9 371.0,541.0 372.0,541.5 373.0,542.0 374.0,542.5 375.0,543.0 376.0,543.5 377.0,544.0 378.0,544.5 379.0,544.6 380.0,544.8 381.0,544.9 382.0,545.0 383.0,545.1 384.0,545.3 385.0,545.4 386.0,545.3 387.0,545.1 388.0,544.9 389.0,544.7 390.0,544.5 391.0,544.4 392.0,544.2 393.0,544.0 394.0,543.8 395.0,543.6 396.0,543.4 397.0,543.2 398.0,543.1 399.0,542.9 400.0,542.7 401.0,540.9 402.0,539.0 403.0,537.2 404.0,535.4 405.0,533.5 406.0,531.9 407.0,530.4 408.0,528.9 409.0,527.4 410.0,525.9 411.0,524.6 412.0,525.1 413.0,525.6 414.0,526.1 415.0,526.6 416.0,527.1 417.0,527.6 418.0,528.1 419.0,528.6 420.0,529.1 421.0,529.6 422.0,529.7 423.0,528.6 424.0,527.5 425.0,526.4 426.0,525.2 427.0,524.1 428.0,523.0 429.0,521.9 430.0,522.1 431.0,522.4 432.0,522.8 433.0,523.1 434.0,523.4 435.0,524.3 436.0,525.7 437.0,527.0 438.0,528.4 439.0,529.8 440.0,531.2 441.0,532.5 442.0,533.7 443.0,534.1 444.0,534.4 445.0,534.8 446.0,535.2 447.0,535.6 448.0,535.9 449.0,536.3 450.0,537.5 451.0,538.7 452.0,539.9 453.0,541.1 454.0,541.6 455.0,541.2 456.0,540.7 457.0,540.3 458.0,539.9 459.0,539.5 460.0,539.0 461.0,538.0 462.0,537.0 463.0,536.0 464.0,535.0 465.0,534.0 466.0,533.0 467.0,532.0 468.0,531.7 469.0,531.5 470.0,531.3 471.0,531.2 472.0,531.0 473.0,530.7 474.0,530.2 475.0,529.7 476.0,529.2 477.0,528.7 478.0,528.2 479.0,527.9 480.0,527.7 481.0,527.4 482.0,527.2 483.0,526.9 484.0,526.7 485.0,526.4 486.0,526.7 487.0,527.2 488.0,527.7 489.0,528.2 490.0,528.7 491.0,529.2 492.0,529.9 493.0,530.7 494.0,531.4 495.0,532.2 496.0,532.9 497.0,533.7 498.0,534.4 499.0,535.2 500.0,535.9 501.0,536.7 502.0,537.4 503.0,538.2 504.0,538.9 505.0,539.7 506.0,539.7 507.0,539.3 508.0,539.0 509.0,538.6 510.0,538.2 511.0,537.8 512.0,537.5 513.0,537.3 514.0,537.6 515.0,537.8 516.0,538.1 517.0,538.3 518.0,538.6 519.0,538.8 520.0,539.2 521.0,540.6 522.0,542.0 523.0,543.3 524.0,544.7 525.0,546.1 526.0,547.5 527.0,548.8 528.0,549.9 529.0,550.9 530.0,551.9 531.0,552.9 532.0,553.9 533.0,554.9 534.0,554.9 535.0,553.9 536.0,552.9 537.0,551.9 538.0,550.9 539.0,549.9 540.0,549.0 541.0,548.2 542.0,547.5 543.0,546.7 544.0,546.0 545.0,545.2 546.0,544.5 547.0,543.7 548.0,543.7 549.0,543.8 550.0,544.0 551.0,544.1 552.0,544.2 553.0,544.3 554.0,544.5 555.0,544.7 556.0,545.0 557.0,545.4 558.0,545.7 559.0,546.0 560.0,546.5 561.0,547.5 562.0,548.5 563.0,549.5 564.0,550.5 565.0,551.5 566.0,551.7 567.0,551.6 568.0,551.4 569.0,551.3 570.0,551.2 571.0,551.1 572.0,550.9 573.0,550.7 574.0,550.3 575.0,550.0 576.0,549.6 577.0,549.2 578.0,548.8 579.0,548.5 580.0,548.3 581.0,549.3 582.0,550.3 583.0,551.3 584.0,552.3 585.0,553.3 586.0,553.9 587.0,554.4 588.0,554.9 589.0,555.4 590.0,555.9 591.0,556.4 592.0,556.9 593.0,557.4 594.0,557.9 595.0,558.4 596.0,558.9 597.0,559.4 598.0,559.9 599.0,560.4 600.0,560.9 601.0,561.0 602.0,561.1 603.0,561.2 604.0,561.3 605.0,561.4 606.0,561.5 607.0,561.6 608.0,561.7 609.0,561.8 610.0,562.0 611.0,562.3 612.0,562.6 613.0,562.9 614.0,563.2 615.0,563.5 616.0,563.8 617.0,564.1 618.0,564.4 619.0,564.9 620.0,565.4 621.0,565.9 622.0,566.4 623.0,566.9 624.0,567.4 625.0,567.9 626.0,567.9 627.0,567.5 628.0,567.2 629.0,566.8 630.0,566.4 631.0,566.0 632.0,565.7 633.0,565.2 634.0,564.4 635.0,563.7 636.0,562.9 637.0,562.2 638.0,561.4 639.0,560.7 640.0,559.9 641.0,559.1 642.0,558.2 643.0,557.4 644.0,556.6 645.0,555.7 646.0,555.1 647.0,554.6 648.0,554.1 649.0,553.6 650.0,553.1 651.0,552.7 652.0,552.8 653.0,552.9 654.0,553.1 655.0,553.2 656.0,553.3 657.0,553.4 658.0,553.6 659.0,553.9 660.0,554.3 661.0,554.7 662.0,555.0 663.0,555.4 664.0,555.8 665.0,556.2 666.0,556.9 667.0,557.9 668.0,558.9 669.0,559.9 670.0,560.9 671.0,561.9 672.0,562.9 673.0,563.1 674.0,561.8 675.0,560.5 676.0,559.1 677.0,557.8 678.0,556.5 679.0,555.0 680.0,553.5 681.0,552.0 682.0,550.5 683.0,549.0 684.0,547.8 685.0,547.1 686.0,546.3 687.0,545.6 688.0,546.2 689.0,547.2 690.0,548.2 691.0,549.2 692.0,549.8 693.0,550.5 694.0,551.2 695.0,551.8 696.0,552.5 697.0,553.2 698.0,554.0 699.0,554.7 700.0,555.5 701.0,556.2 702.0,557.0 703.0,557.7 704.0,558.2 705.0,558.3 706.0,558.4 707.0,558.5 708.0,558.6 709.0,558.7 710.0,558.8 711.0,558.9 712.0,559.0 713.0,559.0 714.0,559.0 715.0,559.0 716.0,559.0 717.0,559.0 718.0,559.0 719.0,559.0 720.0,559.1 721.0,559.2 722.0,559.3 723.0,559.4 724.0,559.6 725.0,559.7 726.0,559.8 727.0,559.9 728.0,560.3 729.0,560.6 730.0,561.0 731.0,561.4 732.0,561.8 733.0,562.1 734.0,562.5 735.0,563.0 736.0,563.7 737.0,564.3 738.0,564.9 739.0,565.5 740.0,566.2 741.0,566.8 742.0,567.2 743.0,567.2 744.0,567.2 745.0,567.2 746.0,567.2 747.0,567.2 748.0,567.2 749.0,567.2 750.0,566.6 751.0,565.9 752.0,565.3 753.0,564.7 754.0,564.1 755.0,563.4 756.0,562.8 757.0,562.3 758.0,561.8 759.0,561.3 760.0,560.8 761.0,560.3 762.0,560.1 763.0,560.4 764.0,560.8 765.0,561.2 766.0,561.6 767.0,561.9 768.0,562.3 769.0,562.7 770.0,563.3 771.0,564.0 772.0,564.6 773.0,565.2 774.0,565.8 775.0,566.5 776.0,567.1 777.0,567.2 778.0,567.2 779.0,567.2 780.0,567.2 781.0,567.2 782.0,567.2 783.0,567.2 784.0,567.2 785.0,567.0 786.0,566.9 787.0,566.8 788.0,566.7 789.0,566.6 790.0,566.5 791.0,566.4 792.0,566.3 793.0,566.2 794.0,566.1 795.0,565.9 796.0,565.8 797.0,565.7 798.0,565.6 799.0,565.5 800.0,565.4 801.0,565.7 802.0,566.0 803.0,566.3 804.0,566.6 805.0,566.9 806.0,567.2 807.0,567.5 808.0,567.8 809.0,568.1 810.0,568.2 811.0,568.2 812.0,568.3 813.0,568.4 814.0,568.4 815.0,568.5 816.0,568.5 817.0,568.6 818.0,568.7 819.0,568.7 820.0,568.7 821.0,568.8 822.0,568.8 823.0,568.9 824.0,568.9 825.0,568.9 826.0,569.0 827.0,569.0 828.0,569.2 829.0,569.4 830.0,569.6 831.0,569.8 832.0,570.0 833.0,570.2 834.0,570.4 835.0,570.6 836.0,570.8 837.0,570.8 838.0,570.8 839.0,570.8 840.0,570.8 841.0,570.8 842.0,570.8 843.0,570.8 844.0,570.8 845.0,570.8 846.0,570.7 847.0,570.4 848.0,570.1 849.0,569.8 850.0,569.5 851.0,569.2 852.0,568.9 853.0,568.6 854.0,568.3 855.0,568.0 856.0,567.8 857.0,567.6 858.0,567.4 859.0,567.2 860.0,567.0 861.0,566.8 862.0,566.6 863.0,566.4 864.0,566.3 865.0,566.2 866.0,566.1 867.0,566.0 868.0,565.9 869.0,565.8 870.0,565.7 871.0,565.6 872.0,565.5 873.0,565.2 874.0,564.7 875.0,564.2 876.0,563.7 877.0,563.2 878.0,562.7 879.0,562.7 880.0,562.7 881.0,562.7 882.0,562.7 883.0,562.7 884.0,563.2 885.0,564.5 886.0,565.7 887.0,567.0 888.0,567.6 889.0,568.1 890.0,568.6 891.0,569.1 892.0,569.6 893.0,570.1 894.0,570.6 895.0,570.5 896.0,569.9 897.0,569.3 898.0,568.6 899.0,568.0 900.0,567.4 901.0,566.8 902.0,566.1 903.0,565.2 904.0,564.4 905.0,563.6 906.0,562.7 907.0,561.9 908.0,561.4 909.0,561.0 910.0,560.6 911.0,560.2 912.0,560.2 913.0,561.2 914.0,562.2 915.0,563.2 916.0,564.2 917.0,564.8 918.0,565.1 919.0,565.5 920.0,565.9 921.0,566.3 922.0,566.6 923.0,567.0 924.0,567.2 925.0,567.0 926.0,566.9 927.0,566.8 928.0,566.7 929.0,566.5 930.0,566.4 931.0,566.3 932.0,566.2 933.0,566.1 934.0,566.0 935.0,566.0 936.0,565.9 937.0,565.8 938.0,565.7 939.0,565.6 940.0,565.5 941.0,565.5 942.0,565.4 943.0,565.4 944.0,565.4 945.0,565.4 946.0,565.4 947.0,565.4 948.0,565.4 949.0,565.4 950.0,565.6 951.0,565.8 952.0,566.0 953.0,566.2 954.0,566.4 955.0,566.6 956.0,566.8 957.0,567.0 958.0,567.2 959.0,567.5 960.0,567.8 961.0,568.1 962.0,568.4 963.0,568.7 964.0,569.0 965.0,569.3 966.0,569.6 967.0,569.9 968.0,570.5 969.0,571.1 970.0,571.7 971.0,572.4 972.0,573.0 973.0,573.6 974.0,574.2 975.0,574.3 976.0,574.1 977.0,573.9 978.0,573.6 979.0,573.4 980.0,573.1 981.0,572.9 982.0,572.7 983.0,572.4 984.0,572.2 985.0,571.9 986.0,571.7 987.0,571.5 988.0,571.2 989.0,571.0 990.0,570.7 991.0,571.0 992.0,571.2 993.0,571.5 994.0,571.7 995.0,572.0 996.0,572.3 997.0,572.8 998.0,573.3 999.0,573.8 1000.0,574.2 1001.0,574.2 1002.0,574.2 1003.0,574.2 1004.0,574.2 1005.0,574.2 1006.0,574.2 1007.0,574.2 1008.0,574.2 1009.0,574.2 1010.0,574.2 1011.0,574.4 1012.0,574.5 1013.0,574.7 1014.0,574.8 1015.0,575.0 1016.0,575.1 1017.0,575.3 1018.0,575.3 1019.0,575.3 1020.0,575.3 1021.0,575.3 1022.0,575.3 1023.0,575.3 1024.0,575.3 1025.0,574.8 1026.0,574.1 1027.0,573.4 1028.0,572.7 1029.0,572.3 1030.0,572.0 1031.0,571.6 1032.0,571.2 1033.0,570.8 1034.0,570.4 1035.0,570.0 1036.0,569.6 1037.0,569.4 1038.0,569.9 1039.0,570.4 1040.0,570.9 1041.0,571.3 1042.0,571.4 1043.0,571.6 1044.0,571.8 1045.0,571.9 1046.0,572.1 1047.0,572.2 1048.0,572.2 1049.0,572.2 1050.0,572.2 1051.0,572.1 1052.0,571.9 1053.0,571.7 1054.0,571.6 1055.0,571.4 1056.0,571.2 1057.0,571.0 1058.0,570.8 1059.0,570.9 1060.0,571.2 1061.0,571.4 1062.0,571.7 1063.0,571.9 1064.0,572.2 1065.0,572.0 1066.0,571.8 1067.0,571.5 1068.0,571.3 1069.0,571.1 1070.0,570.9 1071.0,570.7 1072.0,570.5 1073.0,570.3 1074.0,570.0 1075.0,569.8 1076.0,569.5 1077.0,569.3 1078.0,569.6 1079.0,569.8 1080.0,570.1 1081.0,570.1 1082.0,569.6 1083.0,569.1 1084.0,568.7 1085.0,568.5 1086.0,568.2 1087.0,568.0 1088.0,567.7 1089.0,567.4 1090.0,567.0 1091.0,566.8 1092.0,566.6 1093.0,566.4" fill="none" stroke="#ffff00" stroke-width="1"/>
</g>
<!-- crosshair -->
<g shape-rendering="crispEdges" fill="#9a9a9a">
<rect x="491" y="50" width="1" height="436"/>
<rect x="491" y="511" width="1" height="74"/>
<rect x="0" y="307" width="1095" height="1"/>
<rect x="491" y="307" width="1" height="1" fill="#080808"/>
</g>
<!-- peak marker -->
<g fill="#fff" stroke="#fff">
<polygon points="440,72 446.5,72 443.5,75" stroke="none"/>
<line x1="443.5" y1="73.5" x2="453" y2="77.5" stroke-width="1"/>
</g>
<!-- red arrow -->
<defs><linearGradient id="ag" x1="594" y1="51" x2="497" y2="190" gradientUnits="userSpaceOnUse"><stop offset="0" stop-color="#501010"/><stop offset="0.22" stop-color="#e8281e"/><stop offset="1" stop-color="#ff2a1c"/></linearGradient></defs>
<polygon points="595.2,51.2 594.8,50.8 502.9,187.3 499.1,184.7" fill="url(#ag)"/>
<polygon points="494,197 495.3,182 500.5,185.8 503,189 507,190.5" fill="#ff2a1c"/>
<!-- legend arrows -->
<g fill="#00d8f0" shape-rendering="crispEdges"><rect x="85" y="32" width="1" height="14"/><rect x="84" y="34" width="3" height="2"/><rect x="83" y="36" width="1" height="2"/><rect x="87" y="36" width="1" height="2"/><rect x="82" y="38" width="1" height="1"/><rect x="88" y="38" width="1" height="1"/></g>
<g fill="#fffaa0" shape-rendering="crispEdges"><rect x="182" y="32" width="1" height="14"/><rect x="181" y="34" width="3" height="2"/><rect x="180" y="36" width="1" height="2"/><rect x="184" y="36" width="1" height="2"/><rect x="179" y="38" width="1" height="1"/><rect x="185" y="38" width="1" height="1"/></g>
<!-- price box -->
<rect x="1098" y="291" width="40" height="15" rx="2" fill="#2c2c2c"/>
<!-- X boxes -->
<g fill="none" stroke="#6a6a6a" stroke-width="1">
<rect x="1080.5" y="492.5" width="14" height="14" rx="2.5"/>
<path d="M1084.5 496.5 L1090.5 502.5 M1090.5 496.5 L1084.5 502.5"/>
<rect x="1080.5" y="591.5" width="14" height="14" rx="2.5"/>
<path d="M1084.5 595.5 L1090.5 601.5 M1090.5 595.5 L1084.5 601.5"/>
</g>
<!-- bottom marks -->
<rect x="354" y="609" width="8" height="2" fill="#e8e8e8"/>
<rect x="491" y="609" width="1" height="2" fill="#e8e8e8"/>
</svg>

<!-- toolbar -->
<svg style="position:absolute;left:0;top:0" width="1127" height="27">
<g shape-rendering="crispEdges">
<rect x="803.5" y="2.5" width="340" height="22" fill="none" stroke="#4a4a4a"/>
<rect x="825" y="3" width="1" height="21" fill="#4a4a4a"/>
<rect x="943" y="3" width="1" height="21" fill="#4a4a4a"/>
<rect x="990" y="3" width="1" height="21" fill="#4a4a4a"/>
<rect x="1037" y="3" width="1" height="21" fill="#4a4a4a"/>
<rect x="1084" y="3" width="1" height="21" fill="#4a4a4a"/>
<rect x="847.5" y="2.5" width="48" height="22" fill="#080808" stroke="#f06a10"/>
</g>
<path d="M809 13.5 H820 M814.5 8 V19" stroke="#c8c8c8" stroke-width="1" shape-rendering="crispEdges"/>
<path d="M831 13.5 H842" stroke="#c8c8c8" stroke-width="1" shape-rendering="crispEdges"/>
<path d="M884.5 12 H890.5 L887.5 15.5 Z" fill="#f06a10"/>
<path d="M932.5 12 H938.5 L935.5 15.5 Z" fill="#a8a8a8"/>
<circle cx="984" cy="11" r="3" fill="#f43c3c"/>
<path d="M1116 14.5 L1120 11 V18 Z M1121 14.5 L1125 11 V18 Z" fill="#a8a8a8"/>
</svg>

<!-- legend -->
<svg style="position:absolute;left:1080px;top:37px" width="7" height="4"><path d="M0 0 H6 L3 3 Z" fill="#8a8a8a"/></svg>

<!-- axis labels -->
<div class="ax" style="top:88px;">5000</div>
<div class="ax" style="top:150px;">4500</div>
<div class="ax" style="top:213px;">4000</div>
<div class="ax" style="top:275px;">3500</div>
<div class="ax" style="top:337px;">3000</div>
<div class="ax" style="top:400px;">2500</div>
<div class="ax" style="top:293px;left:1107px;color:#e8e8e8;">3292</div>
<div class="ax" style="top:505px;left:1125px;">8</div>
<div class="ax" style="top:542px;left:1125px;">4</div>
<div class="ax" style="top:572px;left:1125px;">0</div>
<div class="ax" style="top:604px;left:1113px;">225</div>

<!-- tooltip -->
<div id="tip">
<div class="r" style="top:37px;color:#d0d0d0;">2015</div>
<div class="r" style="top:53px;color:#d0d0d0;">07/14</div>
<div class="r" style="top:85px;color:#3ad35a;">3958.37</div>
<div class="r" style="top:117px;color:#f0524a;">4035.44</div>
<div class="r" style="top:149px;color:#3ad35a;">3855.56</div>
<div class="r" style="top:181px;color:#3ad35a;">3924.49</div>
<div class="r" style="top:213px;color:#3ad35a;"><svg width="10" height="9" style="vertical-align:-1px;margin-right:5px"><path d="M0 0 H10 L5 9 Z" fill="#3ad35a"/></svg>45.90</div>
<div class="r" style="top:245px;color:#3ad35a;">-1.16%</div>
<div class="r" style="top:277px;right:17px;color:#d0d0d0;">6.71</div>
<div class="r" style="top:309px;right:17px;color:#5cd8f0;">8301</div>
</div>
<svg width="1127" height="611" style="position:absolute;left:0;top:0" shape-rendering="crispEdges">
<path fill="#f06a10" d="M858 8h1v1h-1zM858 9h9v1h-9zM857 10h2v1h-2zM864 10h1v1h-1zM856 11h1v1h-1zM858 11h7v1h-7zM858 12h1v1h-1zM864 12h1v1h-1zM858 13h7v1h-7zM859 14h1v1h-1zM858 15h7v1h-7zM856 16h2v1h-2zM860 16h1v1h-1zM863 16h1v1h-1zM861 17h2v1h-2zM856 18h5v1h-5zM863 18h4v1h-4zM870 8h1v1h-1zM870 9h1v1h-1zM872 9h6v1h-6zM868 10h4v1h-4zM873 10h1v1h-1zM877 10h1v1h-1zM870 11h1v1h-1zM873 11h1v1h-1zM877 11h1v1h-1zM870 12h1v1h-1zM873 12h1v1h-1zM877 12h1v1h-1zM869 13h3v1h-3zM874 13h1v1h-1zM876 13h1v1h-1zM869 14h2v1h-2zM872 14h1v1h-1zM874 14h1v1h-1zM876 14h1v1h-1zM868 15h1v1h-1zM870 15h1v1h-1zM875 15h1v1h-1zM870 16h1v1h-1zM874 16h1v1h-1zM876 16h1v1h-1zM870 17h1v1h-1zM873 17h1v1h-1zM877 17h1v1h-1zM870 18h1v1h-1zM872 18h1v1h-1zM878 18h1v1h-1z"/>
<path fill="#bcbcbc" d="M906 8h7v1h-7zM908 9h1v1h-1zM910 9h1v1h-1zM907 10h1v1h-1zM909 10h1v1h-1zM911 10h1v1h-1zM904 11h11v1h-11zM905 12h1v1h-1zM907 12h1v1h-1zM910 12h1v1h-1zM912 12h1v1h-1zM904 13h1v1h-1zM906 13h1v1h-1zM908 13h2v1h-2zM911 13h1v1h-1zM913 13h1v1h-1zM904 14h11v1h-11zM904 15h1v1h-1zM906 15h1v1h-1zM912 15h1v1h-1zM914 15h1v1h-1zM906 16h7v1h-7zM906 17h1v1h-1zM912 17h1v1h-1zM904 18h11v1h-11zM918 8h1v1h-1zM918 9h1v1h-1zM916 10h6v1h-6zM923 10h4v1h-4zM918 11h1v1h-1zM921 11h1v1h-1zM923 11h1v1h-1zM926 11h1v1h-1zM918 12h1v1h-1zM921 12h1v1h-1zM923 12h1v1h-1zM926 12h1v1h-1zM918 13h1v1h-1zM921 13h1v1h-1zM923 13h1v1h-1zM926 13h1v1h-1zM918 14h1v1h-1zM921 14h1v1h-1zM923 14h1v1h-1zM926 14h1v1h-1zM918 15h1v1h-1zM921 15h1v1h-1zM923 15h1v1h-1zM926 15h1v1h-1zM917 16h1v1h-1zM921 16h1v1h-1zM923 16h1v1h-1zM926 16h1v1h-1zM917 17h1v1h-1zM919 17h1v1h-1zM921 17h1v1h-1zM923 17h4v1h-4zM916 18h1v1h-1zM920 18h1v1h-1zM923 18h1v1h-1zM926 18h1v1h-1z"/>
<path fill="#bcbcbc" d="M956 8h4v1h-4zM961 8h5v1h-5zM955 9h1v1h-1zM958 9h1v1h-1zM960 9h1v1h-1zM963 9h1v1h-1zM956 10h9v1h-9zM959 11h1v1h-1zM957 12h7v1h-7zM958 13h1v1h-1zM955 14h11v1h-11zM957 15h1v1h-1zM962 15h1v1h-1zM956 16h10v1h-10zM955 17h1v1h-1zM958 17h1v1h-1zM962 17h1v1h-1zM959 18h1v1h-1zM961 18h2v1h-2zM972 8h5v1h-5zM967 9h5v1h-5zM976 9h1v1h-1zM969 10h1v1h-1zM973 10h1v1h-1zM976 10h1v1h-1zM969 11h1v1h-1zM973 11h1v1h-1zM976 11h1v1h-1zM968 12h4v1h-4zM973 12h1v1h-1zM976 12h1v1h-1zM967 13h2v1h-2zM971 13h7v1h-7zM968 14h1v1h-1zM971 14h1v1h-1zM977 14h1v1h-1zM968 15h1v1h-1zM971 15h5v1h-5zM977 15h1v1h-1zM968 16h4v1h-4zM977 16h1v1h-1zM968 17h1v1h-1zM971 17h1v1h-1zM974 17h1v1h-1zM977 17h1v1h-1zM975 18h2v1h-2z"/>
<path fill="#bcbcbc" d="M1001 8h11v1h-11zM1003 10h7v1h-7zM1001 11h1v1h-1zM1003 11h1v1h-1zM1006 11h1v1h-1zM1009 11h1v1h-1zM1011 11h1v1h-1zM1001 12h1v1h-1zM1003 12h1v1h-1zM1006 12h1v1h-1zM1009 12h1v1h-1zM1011 12h1v1h-1zM1001 13h1v1h-1zM1003 13h7v1h-7zM1011 13h1v1h-1zM1001 14h1v1h-1zM1003 14h1v1h-1zM1006 14h1v1h-1zM1009 14h1v1h-1zM1011 14h1v1h-1zM1001 15h1v1h-1zM1003 15h1v1h-1zM1006 15h1v1h-1zM1009 15h1v1h-1zM1011 15h1v1h-1zM1001 16h1v1h-1zM1003 16h7v1h-7zM1011 16h1v1h-1zM1001 17h1v1h-1zM1011 17h1v1h-1zM1001 18h11v1h-11zM1015 8h1v1h-1zM1019 8h1v1h-1zM1021 8h1v1h-1zM1015 9h1v1h-1zM1019 9h1v1h-1zM1022 9h1v1h-1zM1014 10h1v1h-1zM1019 10h4v1h-4zM1014 11h1v1h-1zM1017 11h3v1h-3zM1013 12h3v1h-3zM1019 12h5v1h-5zM1015 13h1v1h-1zM1017 13h3v1h-3zM1014 14h1v1h-1zM1019 14h1v1h-1zM1022 14h1v1h-1zM1013 15h4v1h-4zM1019 15h1v1h-1zM1021 15h1v1h-1zM1017 16h1v1h-1zM1020 16h1v1h-1zM1023 16h1v1h-1zM1015 17h2v1h-2zM1019 17h1v1h-1zM1021 17h1v1h-1zM1023 17h1v1h-1zM1013 18h2v1h-2zM1017 18h2v1h-2zM1022 18h2v1h-2z"/>
<path fill="#bcbcbc" d="M1050 8h1v1h-1zM1055 8h1v1h-1zM1050 9h4v1h-4zM1055 9h5v1h-5zM1049 10h1v1h-1zM1052 10h1v1h-1zM1054 10h1v1h-1zM1057 10h1v1h-1zM1051 11h1v1h-1zM1054 11h5v1h-5zM1050 12h1v1h-1zM1052 12h1v1h-1zM1058 12h1v1h-1zM1050 13h1v1h-1zM1053 13h4v1h-4zM1058 13h1v1h-1zM1050 14h1v1h-1zM1053 14h1v1h-1zM1056 14h1v1h-1zM1058 14h1v1h-1zM1050 15h1v1h-1zM1053 15h4v1h-4zM1058 15h1v1h-1zM1050 16h1v1h-1zM1053 16h1v1h-1zM1056 16h1v1h-1zM1058 16h1v1h-1zM1050 17h1v1h-1zM1053 17h4v1h-4zM1058 17h1v1h-1zM1050 18h1v1h-1zM1057 18h2v1h-2zM1063 8h1v1h-1zM1067 8h1v1h-1zM1063 9h1v1h-1zM1067 9h1v1h-1zM1062 10h1v1h-1zM1065 10h1v1h-1zM1067 10h5v1h-5zM1062 11h1v1h-1zM1064 11h1v1h-1zM1066 11h1v1h-1zM1071 11h1v1h-1zM1061 12h3v1h-3zM1071 12h1v1h-1zM1063 13h1v1h-1zM1067 13h1v1h-1zM1071 13h1v1h-1zM1062 14h1v1h-1zM1068 14h1v1h-1zM1071 14h1v1h-1zM1061 15h4v1h-4zM1068 15h1v1h-1zM1071 15h1v1h-1zM1065 16h1v1h-1zM1071 16h1v1h-1zM1063 17h2v1h-2zM1068 17h1v1h-1zM1071 17h1v1h-1zM1061 18h2v1h-2zM1069 18h2v1h-2z"/>
<path fill="#bcbcbc" d="M1091 8h9v1h-9zM1091 9h1v1h-1zM1099 9h1v1h-1zM1091 10h9v1h-9zM1091 11h1v1h-1zM1094 11h1v1h-1zM1097 11h1v1h-1zM1091 12h9v1h-9zM1091 13h1v1h-1zM1094 13h1v1h-1zM1097 13h1v1h-1zM1091 14h10v1h-10zM1091 15h1v1h-1zM1093 15h1v1h-1zM1096 15h1v1h-1zM1099 15h1v1h-1zM1091 16h1v1h-1zM1093 16h1v1h-1zM1097 16h2v1h-2zM1090 17h1v1h-1zM1093 17h1v1h-1zM1095 17h1v1h-1zM1098 17h1v1h-1zM1090 18h1v1h-1zM1093 18h2v1h-2zM1099 18h2v1h-2zM1103 8h9v1h-9zM1105 9h1v1h-1zM1109 9h1v1h-1zM1105 10h1v1h-1zM1109 10h1v1h-1zM1105 11h1v1h-1zM1109 11h1v1h-1zM1105 12h1v1h-1zM1109 12h1v1h-1zM1102 13h11v1h-11zM1105 14h1v1h-1zM1109 14h1v1h-1zM1104 15h1v1h-1zM1109 15h1v1h-1zM1104 16h1v1h-1zM1109 16h1v1h-1zM1103 17h1v1h-1zM1109 17h1v1h-1zM1102 18h1v1h-1zM1109 18h1v1h-1z"/>
<path fill="#9a9a9a" d="M1030 32h1v1h-1zM1034 32h4v1h-4zM1031 33h1v1h-1zM1034 33h1v1h-1zM1037 33h1v1h-1zM1034 34h1v1h-1zM1037 34h1v1h-1zM1033 35h1v1h-1zM1037 35h3v1h-3zM1029 36h3v1h-3zM1031 37h1v1h-1zM1033 37h6v1h-6zM1031 38h1v1h-1zM1034 38h1v1h-1zM1038 38h1v1h-1zM1031 39h1v1h-1zM1035 39h1v1h-1zM1037 39h1v1h-1zM1031 40h2v1h-2zM1036 40h1v1h-1zM1031 41h1v1h-1zM1035 41h1v1h-1zM1037 41h1v1h-1zM1032 42h3v1h-3zM1038 42h2v1h-2zM1042 32h9v1h-9zM1042 33h1v1h-1zM1045 33h1v1h-1zM1047 33h1v1h-1zM1050 33h1v1h-1zM1042 34h9v1h-9zM1046 35h1v1h-1zM1041 36h11v1h-11zM1043 37h1v1h-1zM1049 37h1v1h-1zM1043 38h7v1h-7zM1043 39h1v1h-1zM1049 39h1v1h-1zM1043 40h7v1h-7zM1043 41h1v1h-1zM1049 41h1v1h-1zM1041 42h11v1h-11zM1055 32h1v1h-1zM1059 32h1v1h-1zM1055 33h1v1h-1zM1059 33h1v1h-1zM1055 34h1v1h-1zM1058 34h6v1h-6zM1053 35h4v1h-4zM1063 35h1v1h-1zM1055 36h1v1h-1zM1058 36h1v1h-1zM1063 36h1v1h-1zM1055 37h1v1h-1zM1059 37h1v1h-1zM1063 37h1v1h-1zM1055 38h1v1h-1zM1057 38h1v1h-1zM1061 38h1v1h-1zM1063 38h1v1h-1zM1055 39h2v1h-2zM1060 39h1v1h-1zM1063 39h1v1h-1zM1053 40h2v1h-2zM1058 40h2v1h-2zM1063 40h1v1h-1zM1063 41h1v1h-1zM1061 42h2v1h-2zM1067 32h1v1h-1zM1071 32h1v1h-1zM1073 32h1v1h-1zM1067 33h1v1h-1zM1071 33h1v1h-1zM1074 33h1v1h-1zM1066 34h1v1h-1zM1071 34h4v1h-4zM1066 35h1v1h-1zM1069 35h3v1h-3zM1065 36h3v1h-3zM1071 36h5v1h-5zM1067 37h1v1h-1zM1069 37h3v1h-3zM1066 38h1v1h-1zM1071 38h1v1h-1zM1074 38h1v1h-1zM1065 39h4v1h-4zM1071 39h1v1h-1zM1073 39h1v1h-1zM1069 40h1v1h-1zM1072 40h1v1h-1zM1075 40h1v1h-1zM1067 41h2v1h-2zM1071 41h1v1h-1zM1073 41h1v1h-1zM1075 41h1v1h-1zM1065 42h2v1h-2zM1069 42h2v1h-2zM1074 42h2v1h-2z"/>
<path fill="#e6e6a0" d="M308 125h3v1h-3zM308 126h1v1h-1zM308 127h1v1h-1zM308 128h1v1h-1zM308 129h1v1h-1zM308 130h1v1h-1zM308 131h1v1h-1zM308 132h1v1h-1zM308 133h1v1h-1zM308 134h1v1h-1zM308 135h3v1h-3zM312 126h11v1h-11zM320 127h1v1h-1zM314 128h4v1h-4zM320 128h1v1h-1zM314 129h1v1h-1zM317 129h1v1h-1zM320 129h1v1h-1zM314 130h1v1h-1zM317 130h1v1h-1zM320 130h1v1h-1zM314 131h4v1h-4zM320 131h1v1h-1zM314 132h1v1h-1zM317 132h1v1h-1zM320 132h1v1h-1zM320 133h1v1h-1zM320 134h1v1h-1zM318 135h3v1h-3zM326 125h1v1h-1zM329 125h1v1h-1zM326 126h1v1h-1zM329 126h6v1h-6zM324 127h5v1h-5zM326 128h1v1h-1zM331 128h1v1h-1zM326 129h1v1h-1zM329 129h1v1h-1zM331 129h3v1h-3zM326 130h2v1h-2zM329 130h3v1h-3zM333 130h1v1h-1zM325 131h2v1h-2zM328 131h2v1h-2zM331 131h1v1h-1zM333 131h1v1h-1zM324 132h1v1h-1zM326 132h1v1h-1zM329 132h1v1h-1zM331 132h3v1h-3zM326 133h1v1h-1zM329 133h1v1h-1zM331 133h1v1h-1zM334 133h1v1h-1zM326 134h1v1h-1zM329 134h1v1h-1zM334 134h1v1h-1zM324 135h3v1h-3zM330 135h5v1h-5zM343 125h1v1h-1zM337 126h4v1h-4zM343 126h1v1h-1zM343 127h1v1h-1zM342 128h5v1h-5zM336 129h6v1h-6zM343 129h1v1h-1zM346 129h1v1h-1zM338 130h1v1h-1zM343 130h1v1h-1zM346 130h1v1h-1zM338 131h1v1h-1zM343 131h1v1h-1zM346 131h1v1h-1zM337 132h1v1h-1zM340 132h1v1h-1zM343 132h1v1h-1zM346 132h1v1h-1zM336 133h5v1h-5zM342 133h1v1h-1zM346 133h1v1h-1zM340 134h1v1h-1zM342 134h1v1h-1zM346 134h1v1h-1zM341 135h1v1h-1zM344 135h2v1h-2zM349 125h3v1h-3zM351 126h1v1h-1zM351 127h1v1h-1zM351 128h1v1h-1zM351 129h1v1h-1zM351 130h1v1h-1zM351 131h1v1h-1zM351 132h1v1h-1zM351 133h1v1h-1zM351 134h1v1h-1zM349 135h3v1h-3z"/>
<path fill="#d2d2d2" d="M300 143h7v1h-7zM300 144h1v1h-1zM306 144h1v1h-1zM300 145h1v1h-1zM306 145h1v1h-1zM300 146h1v1h-1zM306 146h1v1h-1zM300 147h7v1h-7zM300 148h1v1h-1zM306 148h1v1h-1zM300 149h1v1h-1zM306 149h1v1h-1zM300 150h1v1h-1zM306 150h1v1h-1zM300 151h7v1h-7zM300 152h1v1h-1zM306 152h1v1h-1z"/>
<path fill="#d2d2d2" d="M324 142h1v1h-1zM327 142h1v1h-1zM330 142h4v1h-4zM323 143h6v1h-6zM330 143h1v1h-1zM333 143h1v1h-1zM324 144h1v1h-1zM327 144h1v1h-1zM330 144h1v1h-1zM333 144h1v1h-1zM324 145h4v1h-4zM330 145h4v1h-4zM324 146h1v1h-1zM327 146h1v1h-1zM330 146h1v1h-1zM333 146h1v1h-1zM324 147h4v1h-4zM330 147h1v1h-1zM333 147h1v1h-1zM324 148h1v1h-1zM327 148h1v1h-1zM330 148h4v1h-4zM323 149h6v1h-6zM330 149h1v1h-1zM333 149h1v1h-1zM330 150h1v1h-1zM333 150h1v1h-1zM324 151h1v1h-1zM327 151h1v1h-1zM330 151h1v1h-1zM333 151h1v1h-1zM323 152h1v1h-1zM328 152h2v1h-2zM332 152h2v1h-2z"/>
<path fill="#d2d2d2" d="M300 190h9v1h-9zM302 191h1v1h-1zM306 191h1v1h-1zM302 192h1v1h-1zM306 192h1v1h-1zM302 193h1v1h-1zM306 193h1v1h-1zM302 194h1v1h-1zM306 194h1v1h-1zM299 195h11v1h-11zM302 196h1v1h-1zM306 196h1v1h-1zM301 197h1v1h-1zM306 197h1v1h-1zM301 198h1v1h-1zM306 198h1v1h-1zM300 199h1v1h-1zM306 199h1v1h-1zM299 200h1v1h-1zM306 200h1v1h-1z"/>
<path fill="#d2d2d2" d="M328 190h1v1h-1zM326 191h6v1h-6zM326 192h1v1h-1zM328 192h1v1h-1zM331 192h1v1h-1zM326 193h1v1h-1zM329 193h1v1h-1zM331 193h1v1h-1zM324 194h10v1h-10zM326 195h1v1h-1zM328 195h1v1h-1zM331 195h1v1h-1zM325 196h1v1h-1zM329 196h1v1h-1zM331 196h1v1h-1zM325 197h8v1h-8zM325 198h1v1h-1zM327 198h1v1h-1zM330 198h1v1h-1zM332 198h1v1h-1zM325 199h1v1h-1zM327 199h1v1h-1zM330 199h1v1h-1zM332 199h1v1h-1zM323 200h11v1h-11z"/>
<path fill="#d2d2d2" d="M301 222h7v1h-7zM301 223h1v1h-1zM307 223h1v1h-1zM301 224h7v1h-7zM301 225h1v1h-1zM307 225h1v1h-1zM299 226h11v1h-11zM300 227h1v1h-1zM303 227h1v1h-1zM300 228h9v1h-9zM300 229h1v1h-1zM303 229h1v1h-1zM305 229h1v1h-1zM308 229h1v1h-1zM300 230h4v1h-4zM306 230h2v1h-2zM299 231h2v1h-2zM303 231h1v1h-1zM306 231h2v1h-2zM303 232h3v1h-3zM308 232h2v1h-2z"/>
<path fill="#d2d2d2" d="M328 222h1v1h-1zM323 223h11v1h-11zM326 225h5v1h-5zM326 226h1v1h-1zM330 226h1v1h-1zM324 227h9v1h-9zM324 228h1v1h-1zM332 228h1v1h-1zM324 229h1v1h-1zM326 229h5v1h-5zM332 229h1v1h-1zM324 230h1v1h-1zM326 230h1v1h-1zM330 230h1v1h-1zM332 230h1v1h-1zM324 231h1v1h-1zM326 231h5v1h-5zM332 231h1v1h-1zM324 232h1v1h-1zM331 232h2v1h-2z"/>
<path fill="#d2d2d2" d="M301 254h7v1h-7zM301 255h1v1h-1zM307 255h1v1h-1zM301 256h7v1h-7zM301 257h1v1h-1zM307 257h1v1h-1zM299 258h11v1h-11zM300 259h1v1h-1zM303 259h1v1h-1zM300 260h9v1h-9zM300 261h1v1h-1zM303 261h1v1h-1zM305 261h1v1h-1zM308 261h1v1h-1zM300 262h4v1h-4zM306 262h2v1h-2zM299 263h2v1h-2zM303 263h1v1h-1zM306 263h2v1h-2zM303 264h3v1h-3zM308 264h2v1h-2z"/>
<path fill="#d2d2d2" d="M326 254h1v1h-1zM331 254h2v1h-2zM326 255h5v1h-5zM325 256h1v1h-1zM327 256h1v1h-1zM330 256h1v1h-1zM325 257h1v1h-1zM327 257h1v1h-1zM330 257h1v1h-1zM324 258h2v1h-2zM327 258h1v1h-1zM330 258h1v1h-1zM323 259h1v1h-1zM325 259h1v1h-1zM327 259h7v1h-7zM325 260h1v1h-1zM327 260h1v1h-1zM330 260h1v1h-1zM325 261h1v1h-1zM327 261h1v1h-1zM330 261h1v1h-1zM333 261h1v1h-1zM325 262h1v1h-1zM327 262h1v1h-1zM329 262h1v1h-1zM331 262h1v1h-1zM333 262h1v1h-1zM325 263h1v1h-1zM327 263h2v1h-2zM330 263h1v1h-1zM332 263h2v1h-2zM325 264h1v1h-1zM327 264h1v1h-1zM331 264h1v1h-1zM333 264h1v1h-1z"/>
<path fill="#d2d2d2" d="M302 286h1v1h-1zM305 286h1v1h-1zM302 287h1v1h-1zM305 287h1v1h-1zM299 288h1v1h-1zM302 288h1v1h-1zM305 288h5v1h-5zM299 289h1v1h-1zM302 289h1v1h-1zM304 289h1v1h-1zM308 289h1v1h-1zM299 290h1v1h-1zM302 290h2v1h-2zM305 290h1v1h-1zM308 290h1v1h-1zM299 291h1v1h-1zM302 291h1v1h-1zM305 291h1v1h-1zM308 291h1v1h-1zM299 292h1v1h-1zM301 292h2v1h-2zM305 292h1v1h-1zM307 292h1v1h-1zM299 293h2v1h-2zM302 293h1v1h-1zM306 293h1v1h-1zM299 294h1v1h-1zM302 294h1v1h-1zM306 294h2v1h-2zM302 295h1v1h-1zM305 295h1v1h-1zM308 295h1v1h-1zM302 296h1v1h-1zM304 296h1v1h-1zM309 296h1v1h-1z"/>
<path fill="#d2d2d2" d="M328 286h1v1h-1zM326 287h6v1h-6zM326 288h1v1h-1zM328 288h1v1h-1zM331 288h1v1h-1zM326 289h1v1h-1zM329 289h1v1h-1zM331 289h1v1h-1zM324 290h10v1h-10zM326 291h1v1h-1zM328 291h1v1h-1zM331 291h1v1h-1zM325 292h1v1h-1zM329 292h1v1h-1zM331 292h1v1h-1zM325 293h8v1h-8zM325 294h1v1h-1zM327 294h1v1h-1zM330 294h1v1h-1zM332 294h1v1h-1zM325 295h1v1h-1zM327 295h1v1h-1zM330 295h1v1h-1zM332 295h1v1h-1zM323 296h11v1h-11z"/>
<path fill="#d2d2d2" d="M300 318h1v1h-1zM302 318h3v1h-3zM306 318h1v1h-1zM301 319h1v1h-1zM304 319h1v1h-1zM306 319h1v1h-1zM309 319h1v1h-1zM299 320h1v1h-1zM304 320h1v1h-1zM306 320h1v1h-1zM308 320h1v1h-1zM300 321h1v1h-1zM302 321h3v1h-3zM306 321h2v1h-2zM302 322h1v1h-1zM306 322h1v1h-1zM301 323h2v1h-2zM305 323h5v1h-5zM300 324h1v1h-1zM302 324h3v1h-3zM306 324h2v1h-2zM299 325h2v1h-2zM304 325h1v1h-1zM306 325h1v1h-1zM308 325h1v1h-1zM300 326h1v1h-1zM304 326h1v1h-1zM306 326h1v1h-1zM308 326h1v1h-1zM300 327h1v1h-1zM304 327h1v1h-1zM306 327h2v1h-2zM309 327h1v1h-1zM300 328h1v1h-1zM302 328h2v1h-2zM306 328h1v1h-1zM309 328h1v1h-1z"/>
<path fill="#d2d2d2" d="M331 318h1v1h-1zM324 319h4v1h-4zM329 319h1v1h-1zM331 319h1v1h-1zM324 320h1v1h-1zM327 320h1v1h-1zM329 320h5v1h-5zM324 321h1v1h-1zM327 321h2v1h-2zM331 321h1v1h-1zM324 322h4v1h-4zM331 322h1v1h-1zM326 323h1v1h-1zM328 323h6v1h-6zM324 324h1v1h-1zM326 324h2v1h-2zM331 324h1v1h-1zM324 325h1v1h-1zM326 325h1v1h-1zM330 325h1v1h-1zM332 325h1v1h-1zM324 326h1v1h-1zM326 326h1v1h-1zM330 326h1v1h-1zM332 326h1v1h-1zM324 327h1v1h-1zM326 327h2v1h-2zM329 327h1v1h-1zM333 327h1v1h-1zM323 328h3v1h-3zM328 328h1v1h-1zM333 328h1v1h-1z"/>
<path fill="#d2d2d2" d="M304 414h1v1h-1zM303 415h1v1h-1zM305 415h1v1h-1zM302 416h1v1h-1zM306 416h1v1h-1zM301 417h1v1h-1zM307 417h1v1h-1zM299 418h2v1h-2zM302 418h5v1h-5zM308 418h2v1h-2zM304 419h1v1h-1zM300 420h9v1h-9zM304 421h1v1h-1zM301 422h1v1h-1zM304 422h1v1h-1zM307 422h1v1h-1zM302 423h1v1h-1zM304 423h1v1h-1zM306 423h1v1h-1zM299 424h11v1h-11z"/>
<path fill="#d2d2d2" d="M325 414h1v1h-1zM329 414h5v1h-5zM323 415h6v1h-6zM331 415h1v1h-1zM323 416h1v1h-1zM328 416h6v1h-6zM324 417h4v1h-4zM329 417h1v1h-1zM333 417h1v1h-1zM323 418h2v1h-2zM327 418h1v1h-1zM329 418h1v1h-1zM331 418h1v1h-1zM333 418h1v1h-1zM325 419h2v1h-2zM329 419h1v1h-1zM331 419h1v1h-1zM333 419h1v1h-1zM324 420h1v1h-1zM327 420h1v1h-1zM329 420h1v1h-1zM331 420h1v1h-1zM333 420h1v1h-1zM323 421h7v1h-7zM331 421h1v1h-1zM333 421h1v1h-1zM324 422h1v1h-1zM327 422h1v1h-1zM329 422h1v1h-1zM331 422h1v1h-1zM333 422h1v1h-1zM324 423h4v1h-4zM330 423h1v1h-1zM332 423h1v1h-1zM324 424h1v1h-1zM327 424h3v1h-3zM333 424h1v1h-1z"/>
<path fill="#d2d2d2" d="M300 350h1v1h-1zM302 350h3v1h-3zM306 350h1v1h-1zM301 351h1v1h-1zM304 351h1v1h-1zM306 351h1v1h-1zM309 351h1v1h-1zM299 352h1v1h-1zM304 352h1v1h-1zM306 352h1v1h-1zM308 352h1v1h-1zM300 353h1v1h-1zM302 353h3v1h-3zM306 353h2v1h-2zM302 354h1v1h-1zM306 354h1v1h-1zM301 355h2v1h-2zM305 355h5v1h-5zM300 356h1v1h-1zM302 356h3v1h-3zM306 356h2v1h-2zM299 357h2v1h-2zM304 357h1v1h-1zM306 357h1v1h-1zM308 357h1v1h-1zM300 358h1v1h-1zM304 358h1v1h-1zM306 358h1v1h-1zM308 358h1v1h-1zM300 359h1v1h-1zM304 359h1v1h-1zM306 359h2v1h-2zM309 359h1v1h-1zM300 360h1v1h-1zM302 360h2v1h-2zM306 360h1v1h-1zM309 360h1v1h-1zM319 350h1v1h-1zM312 351h4v1h-4zM317 351h1v1h-1zM319 351h1v1h-1zM312 352h1v1h-1zM315 352h1v1h-1zM317 352h5v1h-5zM312 353h1v1h-1zM315 353h2v1h-2zM319 353h1v1h-1zM312 354h4v1h-4zM319 354h1v1h-1zM314 355h1v1h-1zM316 355h6v1h-6zM312 356h1v1h-1zM314 356h2v1h-2zM319 356h1v1h-1zM312 357h1v1h-1zM314 357h1v1h-1zM318 357h1v1h-1zM320 357h1v1h-1zM312 358h1v1h-1zM314 358h1v1h-1zM318 358h1v1h-1zM320 358h1v1h-1zM312 359h1v1h-1zM314 359h2v1h-2zM317 359h1v1h-1zM321 359h1v1h-1zM311 360h3v1h-3zM316 360h1v1h-1zM321 360h1v1h-1zM325 350h1v1h-1zM328 350h6v1h-6zM325 351h1v1h-1zM323 352h5v1h-5zM329 352h4v1h-4zM323 353h1v1h-1zM325 353h1v1h-1zM327 353h1v1h-1zM329 353h1v1h-1zM332 353h1v1h-1zM323 354h1v1h-1zM325 354h1v1h-1zM327 354h1v1h-1zM329 354h4v1h-4zM323 355h1v1h-1zM325 355h1v1h-1zM327 355h1v1h-1zM323 356h1v1h-1zM325 356h1v1h-1zM327 356h7v1h-7zM323 357h1v1h-1zM325 357h4v1h-4zM330 357h1v1h-1zM333 357h1v1h-1zM325 358h1v1h-1zM328 358h6v1h-6zM325 359h1v1h-1zM328 359h1v1h-1zM330 359h1v1h-1zM333 359h1v1h-1zM325 360h1v1h-1zM328 360h6v1h-6z"/>
<path fill="#d2d2d2" d="M305 382h1v1h-1zM307 382h1v1h-1zM305 383h1v1h-1zM308 383h1v1h-1zM300 384h10v1h-10zM300 385h1v1h-1zM305 385h1v1h-1zM300 386h1v1h-1zM305 386h1v1h-1zM300 387h4v1h-4zM305 387h1v1h-1zM308 387h1v1h-1zM300 388h1v1h-1zM303 388h1v1h-1zM305 388h1v1h-1zM308 388h1v1h-1zM300 389h1v1h-1zM303 389h1v1h-1zM305 389h1v1h-1zM307 389h1v1h-1zM300 390h1v1h-1zM303 390h1v1h-1zM306 390h1v1h-1zM309 390h1v1h-1zM300 391h1v1h-1zM302 391h1v1h-1zM305 391h1v1h-1zM307 391h1v1h-1zM309 391h1v1h-1zM299 392h1v1h-1zM304 392h1v1h-1zM308 392h2v1h-2zM316 382h1v1h-1zM311 383h11v1h-11zM314 385h1v1h-1zM318 385h1v1h-1zM313 386h1v1h-1zM319 386h1v1h-1zM312 387h1v1h-1zM314 387h1v1h-1zM318 387h1v1h-1zM320 387h1v1h-1zM314 388h1v1h-1zM318 388h1v1h-1zM315 389h1v1h-1zM317 389h1v1h-1zM316 390h1v1h-1zM314 391h2v1h-2zM317 391h2v1h-2zM312 392h2v1h-2zM319 392h3v1h-3zM325 382h7v1h-7zM325 383h1v1h-1zM331 383h1v1h-1zM325 384h7v1h-7zM325 385h1v1h-1zM331 385h1v1h-1zM323 386h11v1h-11zM325 387h1v1h-1zM328 387h1v1h-1zM331 387h1v1h-1zM325 388h7v1h-7zM325 389h1v1h-1zM328 389h1v1h-1zM331 389h1v1h-1zM324 390h9v1h-9zM328 391h1v1h-1zM323 392h11v1h-11z"/>
<path fill="#d2d2d2" d="M352 398h1v1h-1zM352 399h1v1h-1zM354 399h5v1h-5zM351 400h1v1h-1zM357 400h1v1h-1zM351 401h1v1h-1zM356 401h1v1h-1zM350 402h2v1h-2zM355 402h1v1h-1zM349 403h1v1h-1zM351 403h1v1h-1zM355 403h1v1h-1zM351 404h1v1h-1zM354 404h1v1h-1zM351 405h1v1h-1zM354 405h1v1h-1zM351 406h1v1h-1zM353 406h1v1h-1zM359 406h1v1h-1zM351 407h1v1h-1zM353 407h1v1h-1zM359 407h1v1h-1zM351 408h1v1h-1zM354 408h6v1h-6z"/>
<path fill="#5cd8f0" d="M352 430h1v1h-1zM352 431h1v1h-1zM354 431h5v1h-5zM351 432h1v1h-1zM357 432h1v1h-1zM351 433h1v1h-1zM356 433h1v1h-1zM350 434h2v1h-2zM355 434h1v1h-1zM349 435h1v1h-1zM351 435h1v1h-1zM355 435h1v1h-1zM351 436h1v1h-1zM354 436h1v1h-1zM351 437h1v1h-1zM354 437h1v1h-1zM351 438h1v1h-1zM353 438h1v1h-1zM359 438h1v1h-1zM351 439h1v1h-1zM353 439h1v1h-1zM359 439h1v1h-1zM351 440h1v1h-1zM354 440h6v1h-6z"/>
<path fill="#9a9a9a" d="M951 493h1v1h-1zM944 494h5v1h-5zM951 494h1v1h-1zM948 495h1v1h-1zM950 495h5v1h-5zM948 496h2v1h-2zM953 496h1v1h-1zM945 497h4v1h-4zM950 497h1v1h-1zM953 497h1v1h-1zM945 498h1v1h-1zM950 498h1v1h-1zM953 498h1v1h-1zM945 499h1v1h-1zM950 499h1v1h-1zM953 499h1v1h-1zM945 500h1v1h-1zM951 500h2v1h-2zM945 501h1v1h-1zM947 501h1v1h-1zM951 501h2v1h-2zM945 502h2v1h-2zM950 502h1v1h-1zM953 502h1v1h-1zM945 503h1v1h-1zM948 503h2v1h-2zM954 503h1v1h-1zM960 493h1v1h-1zM959 494h1v1h-1zM963 494h1v1h-1zM958 495h7v1h-7zM960 496h1v1h-1zM956 497h11v1h-11zM958 498h1v1h-1zM961 498h1v1h-1zM964 498h1v1h-1zM956 499h2v1h-2zM959 499h2v1h-2zM965 499h2v1h-2zM961 500h2v1h-2zM959 501h2v1h-2zM964 501h1v1h-1zM962 502h2v1h-2zM958 503h4v1h-4zM968 493h1v1h-1zM971 493h1v1h-1zM973 493h1v1h-1zM975 493h1v1h-1zM969 494h1v1h-1zM971 494h2v1h-2zM975 494h1v1h-1zM968 495h6v1h-6zM975 495h4v1h-4zM970 496h2v1h-2zM974 496h2v1h-2zM977 496h1v1h-1zM969 497h1v1h-1zM971 497h2v1h-2zM975 497h1v1h-1zM977 497h1v1h-1zM968 498h1v1h-1zM971 498h1v1h-1zM973 498h1v1h-1zM975 498h1v1h-1zM977 498h1v1h-1zM968 499h6v1h-6zM975 499h1v1h-1zM977 499h1v1h-1zM970 500h1v1h-1zM972 500h1v1h-1zM975 500h1v1h-1zM977 500h1v1h-1zM969 501h2v1h-2zM972 501h1v1h-1zM976 501h1v1h-1zM971 502h1v1h-1zM975 502h1v1h-1zM977 502h1v1h-1zM968 503h3v1h-3zM972 503h3v1h-3zM978 503h1v1h-1z"/>
<path fill="#9a9a9a" d="M992 493h1v1h-1zM992 494h1v1h-1zM990 495h6v1h-6zM997 495h4v1h-4zM992 496h1v1h-1zM995 496h1v1h-1zM997 496h1v1h-1zM1000 496h1v1h-1zM992 497h1v1h-1zM995 497h1v1h-1zM997 497h1v1h-1zM1000 497h1v1h-1zM992 498h1v1h-1zM995 498h1v1h-1zM997 498h1v1h-1zM1000 498h1v1h-1zM992 499h1v1h-1zM995 499h1v1h-1zM997 499h1v1h-1zM1000 499h1v1h-1zM992 500h1v1h-1zM995 500h1v1h-1zM997 500h1v1h-1zM1000 500h1v1h-1zM991 501h1v1h-1zM995 501h1v1h-1zM997 501h1v1h-1zM1000 501h1v1h-1zM991 502h1v1h-1zM993 502h1v1h-1zM995 502h1v1h-1zM997 502h4v1h-4zM990 503h1v1h-1zM994 503h1v1h-1zM997 503h1v1h-1zM1000 503h1v1h-1zM1004 493h1v1h-1zM1008 493h1v1h-1zM1004 494h1v1h-1zM1008 494h1v1h-1zM1011 494h2v1h-2zM1002 495h5v1h-5zM1008 495h3v1h-3zM1004 496h1v1h-1zM1008 496h1v1h-1zM1012 496h1v1h-1zM1004 497h1v1h-1zM1006 497h1v1h-1zM1008 497h5v1h-5zM1004 498h2v1h-2zM1003 499h2v1h-2zM1008 499h5v1h-5zM1002 500h1v1h-1zM1004 500h1v1h-1zM1008 500h1v1h-1zM1012 500h1v1h-1zM1004 501h1v1h-1zM1008 501h5v1h-5zM1004 502h1v1h-1zM1008 502h1v1h-1zM1012 502h1v1h-1zM1002 503h3v1h-3zM1008 503h5v1h-5zM1016 493h1v1h-1zM1019 493h5v1h-5zM1016 494h1v1h-1zM1014 495h5v1h-5zM1016 496h1v1h-1zM1018 496h7v1h-7zM1016 497h1v1h-1zM1021 497h1v1h-1zM1015 498h3v1h-3zM1021 498h1v1h-1zM1015 499h2v1h-2zM1019 499h1v1h-1zM1021 499h1v1h-1zM1023 499h1v1h-1zM1014 500h1v1h-1zM1016 500h1v1h-1zM1019 500h1v1h-1zM1021 500h1v1h-1zM1024 500h1v1h-1zM1016 501h1v1h-1zM1018 501h1v1h-1zM1021 501h1v1h-1zM1024 501h1v1h-1zM1016 502h1v1h-1zM1021 502h1v1h-1zM1016 503h1v1h-1zM1020 503h2v1h-2z"/>
<path fill="#9a9a9a" d="M1037 493h1v1h-1zM1041 493h1v1h-1zM1037 494h1v1h-1zM1041 494h4v1h-4zM1035 495h6v1h-6zM1043 495h1v1h-1zM1037 496h1v1h-1zM1040 496h5v1h-5zM1037 497h1v1h-1zM1039 497h2v1h-2zM1042 497h1v1h-1zM1044 497h1v1h-1zM1037 498h2v1h-2zM1040 498h1v1h-1zM1042 498h1v1h-1zM1044 498h1v1h-1zM1036 499h2v1h-2zM1039 499h7v1h-7zM1035 500h1v1h-1zM1037 500h1v1h-1zM1042 500h1v1h-1zM1037 501h1v1h-1zM1041 501h1v1h-1zM1043 501h1v1h-1zM1037 502h1v1h-1zM1040 502h1v1h-1zM1044 502h1v1h-1zM1035 503h3v1h-3zM1039 503h1v1h-1zM1045 503h1v1h-1zM1049 493h1v1h-1zM1053 493h1v1h-1zM1049 494h1v1h-1zM1053 494h1v1h-1zM1056 494h2v1h-2zM1047 495h5v1h-5zM1053 495h3v1h-3zM1049 496h1v1h-1zM1053 496h1v1h-1zM1057 496h1v1h-1zM1049 497h1v1h-1zM1051 497h1v1h-1zM1053 497h5v1h-5zM1049 498h2v1h-2zM1048 499h2v1h-2zM1053 499h5v1h-5zM1047 500h1v1h-1zM1049 500h1v1h-1zM1053 500h1v1h-1zM1057 500h1v1h-1zM1049 501h1v1h-1zM1053 501h5v1h-5zM1049 502h1v1h-1zM1053 502h1v1h-1zM1057 502h1v1h-1zM1047 503h3v1h-3zM1053 503h5v1h-5zM1061 493h1v1h-1zM1064 493h5v1h-5zM1061 494h1v1h-1zM1059 495h5v1h-5zM1061 496h1v1h-1zM1063 496h7v1h-7zM1061 497h1v1h-1zM1066 497h1v1h-1zM1060 498h3v1h-3zM1066 498h1v1h-1zM1060 499h2v1h-2zM1064 499h1v1h-1zM1066 499h1v1h-1zM1068 499h1v1h-1zM1059 500h1v1h-1zM1061 500h1v1h-1zM1064 500h1v1h-1zM1066 500h1v1h-1zM1069 500h1v1h-1zM1061 501h1v1h-1zM1063 501h1v1h-1zM1066 501h1v1h-1zM1069 501h1v1h-1zM1061 502h1v1h-1zM1066 502h1v1h-1zM1061 503h1v1h-1zM1065 503h2v1h-2z"/>
<path fill="#9a9a9a" d="M951 592h1v1h-1zM944 593h5v1h-5zM951 593h1v1h-1zM948 594h1v1h-1zM950 594h5v1h-5zM948 595h2v1h-2zM953 595h1v1h-1zM945 596h4v1h-4zM950 596h1v1h-1zM953 596h1v1h-1zM945 597h1v1h-1zM950 597h1v1h-1zM953 597h1v1h-1zM945 598h1v1h-1zM950 598h1v1h-1zM953 598h1v1h-1zM945 599h1v1h-1zM951 599h2v1h-2zM945 600h1v1h-1zM947 600h1v1h-1zM951 600h2v1h-2zM945 601h2v1h-2zM950 601h1v1h-1zM953 601h1v1h-1zM945 602h1v1h-1zM948 602h2v1h-2zM954 602h1v1h-1zM960 592h1v1h-1zM959 593h1v1h-1zM963 593h1v1h-1zM958 594h7v1h-7zM960 595h1v1h-1zM956 596h11v1h-11zM958 597h1v1h-1zM961 597h1v1h-1zM964 597h1v1h-1zM956 598h2v1h-2zM959 598h2v1h-2zM965 598h2v1h-2zM961 599h2v1h-2zM959 600h2v1h-2zM964 600h1v1h-1zM962 601h2v1h-2zM958 602h4v1h-4zM968 592h1v1h-1zM971 592h1v1h-1zM973 592h1v1h-1zM975 592h1v1h-1zM969 593h1v1h-1zM971 593h2v1h-2zM975 593h1v1h-1zM968 594h6v1h-6zM975 594h4v1h-4zM970 595h2v1h-2zM974 595h2v1h-2zM977 595h1v1h-1zM969 596h1v1h-1zM971 596h2v1h-2zM975 596h1v1h-1zM977 596h1v1h-1zM968 597h1v1h-1zM971 597h1v1h-1zM973 597h1v1h-1zM975 597h1v1h-1zM977 597h1v1h-1zM968 598h6v1h-6zM975 598h1v1h-1zM977 598h1v1h-1zM970 599h1v1h-1zM972 599h1v1h-1zM975 599h1v1h-1zM977 599h1v1h-1zM969 600h2v1h-2zM972 600h1v1h-1zM976 600h1v1h-1zM971 601h1v1h-1zM975 601h1v1h-1zM977 601h1v1h-1zM968 602h3v1h-3zM972 602h3v1h-3zM978 602h1v1h-1z"/>
<path fill="#9a9a9a" d="M992 592h1v1h-1zM992 593h1v1h-1zM990 594h6v1h-6zM997 594h4v1h-4zM992 595h1v1h-1zM995 595h1v1h-1zM997 595h1v1h-1zM1000 595h1v1h-1zM992 596h1v1h-1zM995 596h1v1h-1zM997 596h1v1h-1zM1000 596h1v1h-1zM992 597h1v1h-1zM995 597h1v1h-1zM997 597h1v1h-1zM1000 597h1v1h-1zM992 598h1v1h-1zM995 598h1v1h-1zM997 598h1v1h-1zM1000 598h1v1h-1zM992 599h1v1h-1zM995 599h1v1h-1zM997 599h1v1h-1zM1000 599h1v1h-1zM991 600h1v1h-1zM995 600h1v1h-1zM997 600h1v1h-1zM1000 600h1v1h-1zM991 601h1v1h-1zM993 601h1v1h-1zM995 601h1v1h-1zM997 601h4v1h-4zM990 602h1v1h-1zM994 602h1v1h-1zM997 602h1v1h-1zM1000 602h1v1h-1zM1004 592h1v1h-1zM1008 592h1v1h-1zM1004 593h1v1h-1zM1008 593h1v1h-1zM1011 593h2v1h-2zM1002 594h5v1h-5zM1008 594h3v1h-3zM1004 595h1v1h-1zM1008 595h1v1h-1zM1012 595h1v1h-1zM1004 596h1v1h-1zM1006 596h1v1h-1zM1008 596h5v1h-5zM1004 597h2v1h-2zM1003 598h2v1h-2zM1008 598h5v1h-5zM1002 599h1v1h-1zM1004 599h1v1h-1zM1008 599h1v1h-1zM1012 599h1v1h-1zM1004 600h1v1h-1zM1008 600h5v1h-5zM1004 601h1v1h-1zM1008 601h1v1h-1zM1012 601h1v1h-1zM1002 602h3v1h-3zM1008 602h5v1h-5zM1016 592h1v1h-1zM1019 592h5v1h-5zM1016 593h1v1h-1zM1014 594h5v1h-5zM1016 595h1v1h-1zM1018 595h7v1h-7zM1016 596h1v1h-1zM1021 596h1v1h-1zM1015 597h3v1h-3zM1021 597h1v1h-1zM1015 598h2v1h-2zM1019 598h1v1h-1zM1021 598h1v1h-1zM1023 598h1v1h-1zM1014 599h1v1h-1zM1016 599h1v1h-1zM1019 599h1v1h-1zM1021 599h1v1h-1zM1024 599h1v1h-1zM1016 600h1v1h-1zM1018 600h1v1h-1zM1021 600h1v1h-1zM1024 600h1v1h-1zM1016 601h1v1h-1zM1021 601h1v1h-1zM1016 602h1v1h-1zM1020 602h2v1h-2z"/>
<path fill="#9a9a9a" d="M1037 592h1v1h-1zM1041 592h1v1h-1zM1037 593h1v1h-1zM1041 593h4v1h-4zM1035 594h6v1h-6zM1043 594h1v1h-1zM1037 595h1v1h-1zM1040 595h5v1h-5zM1037 596h1v1h-1zM1039 596h2v1h-2zM1042 596h1v1h-1zM1044 596h1v1h-1zM1037 597h2v1h-2zM1040 597h1v1h-1zM1042 597h1v1h-1zM1044 597h1v1h-1zM1036 598h2v1h-2zM1039 598h7v1h-7zM1035 599h1v1h-1zM1037 599h1v1h-1zM1042 599h1v1h-1zM1037 600h1v1h-1zM1041 600h1v1h-1zM1043 600h1v1h-1zM1037 601h1v1h-1zM1040 601h1v1h-1zM1044 601h1v1h-1zM1035 602h3v1h-3zM1039 602h1v1h-1zM1045 602h1v1h-1zM1049 592h1v1h-1zM1053 592h1v1h-1zM1049 593h1v1h-1zM1053 593h1v1h-1zM1056 593h2v1h-2zM1047 594h5v1h-5zM1053 594h3v1h-3zM1049 595h1v1h-1zM1053 595h1v1h-1zM1057 595h1v1h-1zM1049 596h1v1h-1zM1051 596h1v1h-1zM1053 596h5v1h-5zM1049 597h2v1h-2zM1048 598h2v1h-2zM1053 598h5v1h-5zM1047 599h1v1h-1zM1049 599h1v1h-1zM1053 599h1v1h-1zM1057 599h1v1h-1zM1049 600h1v1h-1zM1053 600h5v1h-5zM1049 601h1v1h-1zM1053 601h1v1h-1zM1057 601h1v1h-1zM1047 602h3v1h-3zM1053 602h5v1h-5zM1061 592h1v1h-1zM1064 592h5v1h-5zM1061 593h1v1h-1zM1059 594h5v1h-5zM1061 595h1v1h-1zM1063 595h7v1h-7zM1061 596h1v1h-1zM1066 596h1v1h-1zM1060 597h3v1h-3zM1066 597h1v1h-1zM1060 598h2v1h-2zM1064 598h1v1h-1zM1066 598h1v1h-1zM1068 598h1v1h-1zM1059 599h1v1h-1zM1061 599h1v1h-1zM1064 599h1v1h-1zM1066 599h1v1h-1zM1069 599h1v1h-1zM1061 600h1v1h-1zM1063 600h1v1h-1zM1066 600h1v1h-1zM1069 600h1v1h-1zM1061 601h1v1h-1zM1066 601h1v1h-1zM1061 602h1v1h-1zM1065 602h2v1h-2z"/>
<path fill="#00d8f0" d="M-2 34h2v1h-2zM3 34h2v1h-2zM-2 35h2v1h-2zM3 35h2v1h-2zM-2 36h1v1h-1zM0 36h1v1h-1zM2 36h1v1h-1zM4 36h1v1h-1zM-2 37h1v1h-1zM0 37h1v1h-1zM2 37h1v1h-1zM4 37h1v1h-1zM-2 38h1v1h-1zM1 38h1v1h-1zM4 38h1v1h-1zM-2 39h1v1h-1zM1 39h1v1h-1zM4 39h1v1h-1zM-2 40h1v1h-1zM4 40h1v1h-1zM-2 41h1v1h-1zM4 41h1v1h-1zM6 34h1v1h-1zM6 35h1v1h-1zM5 36h1v1h-1zM7 36h1v1h-1zM5 37h1v1h-1zM7 37h1v1h-1zM4 38h1v1h-1zM8 38h1v1h-1zM4 39h5v1h-5zM3 40h1v1h-1zM9 40h1v1h-1zM3 41h1v1h-1zM9 41h1v1h-1zM10 34h3v1h-3zM12 35h1v1h-1zM12 36h1v1h-1zM12 37h1v1h-1zM12 38h1v1h-1zM12 39h1v1h-1zM12 40h1v1h-1zM10 41h5v1h-5zM17 34h3v1h-3zM16 35h1v1h-1zM20 35h1v1h-1zM20 36h1v1h-1zM20 37h1v1h-1zM19 38h1v1h-1zM18 39h1v1h-1zM17 40h1v1h-1zM16 41h5v1h-5zM23 34h3v1h-3zM22 35h1v1h-1zM26 35h1v1h-1zM22 36h1v1h-1zM26 36h1v1h-1zM22 37h1v1h-1zM26 37h1v1h-1zM22 38h1v1h-1zM26 38h1v1h-1zM22 39h1v1h-1zM26 39h1v1h-1zM22 40h1v1h-1zM26 40h1v1h-1zM23 41h3v1h-3zM30 36h1v1h-1zM30 37h1v1h-1zM30 40h1v1h-1zM30 41h1v1h-1zM34 34h4v1h-4zM38 35h1v1h-1zM38 36h1v1h-1zM35 37h3v1h-3zM38 38h1v1h-1zM38 39h1v1h-1zM38 40h1v1h-1zM34 41h4v1h-4zM41 34h3v1h-3zM40 35h1v1h-1zM44 35h1v1h-1zM40 36h1v1h-1zM44 36h1v1h-1zM40 37h1v1h-1zM44 37h1v1h-1zM41 38h4v1h-4zM44 39h1v1h-1zM40 40h1v1h-1zM44 40h1v1h-1zM41 41h3v1h-3zM46 34h5v1h-5zM50 35h1v1h-1zM50 36h1v1h-1zM49 37h1v1h-1zM49 38h1v1h-1zM48 39h1v1h-1zM48 40h1v1h-1zM48 41h1v1h-1zM52 34h4v1h-4zM56 35h1v1h-1zM56 36h1v1h-1zM53 37h3v1h-3zM56 38h1v1h-1zM56 39h1v1h-1zM56 40h1v1h-1zM52 41h4v1h-4zM59 40h1v1h-1zM59 41h1v1h-1zM67 34h2v1h-2zM66 35h1v1h-1zM68 35h1v1h-1zM65 36h1v1h-1zM68 36h1v1h-1zM65 37h1v1h-1zM68 37h1v1h-1zM64 38h1v1h-1zM68 38h1v1h-1zM64 39h6v1h-6zM68 40h1v1h-1zM68 41h1v1h-1zM70 34h5v1h-5zM74 35h1v1h-1zM74 36h1v1h-1zM73 37h1v1h-1zM73 38h1v1h-1zM72 39h1v1h-1zM72 40h1v1h-1zM72 41h1v1h-1z"/>
<path fill="#fffaa0" d="M95 34h2v1h-2zM100 34h2v1h-2zM95 35h2v1h-2zM100 35h2v1h-2zM95 36h1v1h-1zM97 36h1v1h-1zM99 36h1v1h-1zM101 36h1v1h-1zM95 37h1v1h-1zM97 37h1v1h-1zM99 37h1v1h-1zM101 37h1v1h-1zM95 38h1v1h-1zM98 38h1v1h-1zM101 38h1v1h-1zM95 39h1v1h-1zM98 39h1v1h-1zM101 39h1v1h-1zM95 40h1v1h-1zM101 40h1v1h-1zM95 41h1v1h-1zM101 41h1v1h-1zM103 34h1v1h-1zM103 35h1v1h-1zM102 36h1v1h-1zM104 36h1v1h-1zM102 37h1v1h-1zM104 37h1v1h-1zM101 38h1v1h-1zM105 38h1v1h-1zM101 39h5v1h-5zM100 40h1v1h-1zM106 40h1v1h-1zM100 41h1v1h-1zM106 41h1v1h-1zM108 34h3v1h-3zM107 35h1v1h-1zM111 35h1v1h-1zM111 36h1v1h-1zM111 37h1v1h-1zM110 38h1v1h-1zM109 39h1v1h-1zM108 40h1v1h-1zM107 41h5v1h-5zM113 34h4v1h-4zM113 35h1v1h-1zM113 36h1v1h-1zM113 37h4v1h-4zM117 38h1v1h-1zM117 39h1v1h-1zM117 40h1v1h-1zM113 41h4v1h-4zM120 34h3v1h-3zM119 35h1v1h-1zM123 35h1v1h-1zM119 36h1v1h-1zM123 36h1v1h-1zM119 37h1v1h-1zM123 37h1v1h-1zM119 38h1v1h-1zM123 38h1v1h-1zM119 39h1v1h-1zM123 39h1v1h-1zM119 40h1v1h-1zM123 40h1v1h-1zM120 41h3v1h-3zM127 36h1v1h-1zM127 37h1v1h-1zM127 40h1v1h-1zM127 41h1v1h-1zM131 34h4v1h-4zM135 35h1v1h-1zM135 36h1v1h-1zM132 37h3v1h-3zM135 38h1v1h-1zM135 39h1v1h-1zM135 40h1v1h-1zM131 41h4v1h-4zM138 34h3v1h-3zM137 35h1v1h-1zM141 35h1v1h-1zM141 36h1v1h-1zM141 37h1v1h-1zM140 38h1v1h-1zM139 39h1v1h-1zM138 40h1v1h-1zM137 41h5v1h-5zM144 34h3v1h-3zM143 35h1v1h-1zM147 35h1v1h-1zM143 36h1v1h-1zM147 36h1v1h-1zM143 37h1v1h-1zM147 37h1v1h-1zM143 38h1v1h-1zM147 38h1v1h-1zM143 39h1v1h-1zM147 39h1v1h-1zM143 40h1v1h-1zM147 40h1v1h-1zM144 41h3v1h-3zM150 34h3v1h-3zM149 35h1v1h-1zM153 35h1v1h-1zM153 36h1v1h-1zM153 37h1v1h-1zM152 38h1v1h-1zM151 39h1v1h-1zM150 40h1v1h-1zM149 41h5v1h-5zM156 40h1v1h-1zM156 41h1v1h-1zM162 34h3v1h-3zM161 35h1v1h-1zM165 35h1v1h-1zM165 36h1v1h-1zM165 37h1v1h-1zM164 38h1v1h-1zM163 39h1v1h-1zM162 40h1v1h-1zM161 41h5v1h-5zM167 34h3v1h-3zM169 35h1v1h-1zM169 36h1v1h-1zM169 37h1v1h-1zM169 38h1v1h-1zM169 39h1v1h-1zM169 40h1v1h-1zM167 41h5v1h-5z"/>
<path fill="#ffffff" d="M454 74h4v1h-4zM454 75h1v1h-1zM454 76h1v1h-1zM454 77h4v1h-4zM458 78h1v1h-1zM458 79h1v1h-1zM458 80h1v1h-1zM454 81h4v1h-4zM460 74h3v1h-3zM462 75h1v1h-1zM462 76h1v1h-1zM462 77h1v1h-1zM462 78h1v1h-1zM462 79h1v1h-1zM462 80h1v1h-1zM460 81h5v1h-5zM466 74h5v1h-5zM470 75h1v1h-1zM470 76h1v1h-1zM469 77h1v1h-1zM469 78h1v1h-1zM468 79h1v1h-1zM468 80h1v1h-1zM468 81h1v1h-1zM473 74h3v1h-3zM472 75h1v1h-1zM476 75h1v1h-1zM472 76h1v1h-1zM476 76h1v1h-1zM473 77h3v1h-3zM472 78h1v1h-1zM476 78h1v1h-1zM472 79h1v1h-1zM476 79h1v1h-1zM472 80h1v1h-1zM476 80h1v1h-1zM473 81h3v1h-3zM479 80h1v1h-1zM479 81h1v1h-1zM484 74h3v1h-3zM486 75h1v1h-1zM486 76h1v1h-1zM486 77h1v1h-1zM486 78h1v1h-1zM486 79h1v1h-1zM486 80h1v1h-1zM484 81h5v1h-5zM491 74h3v1h-3zM490 75h1v1h-1zM494 75h1v1h-1zM490 76h1v1h-1zM494 76h1v1h-1zM490 77h1v1h-1zM494 77h1v1h-1zM491 78h4v1h-4zM494 79h1v1h-1zM490 80h1v1h-1zM494 80h1v1h-1zM491 81h3v1h-3z"/>
</svg>
</body></html>
